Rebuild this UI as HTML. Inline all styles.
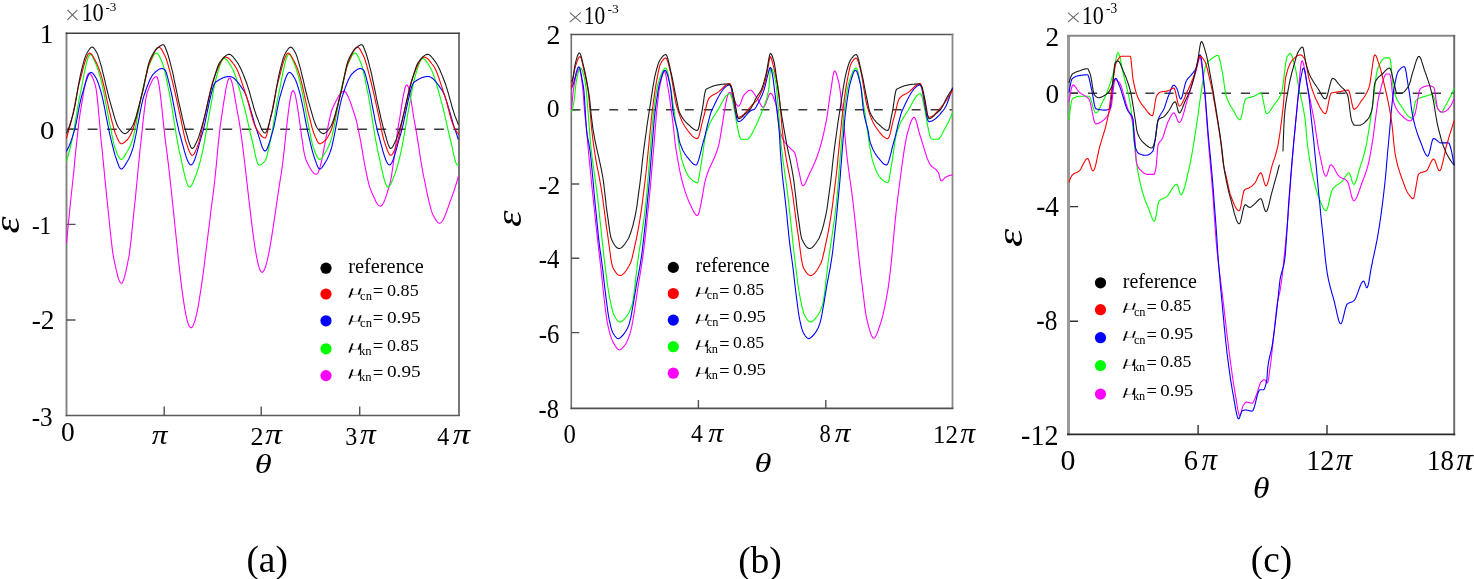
<!DOCTYPE html>
<html><head><meta charset="utf-8"><style>
html,body{margin:0;padding:0;background:#fff;}
body{width:1474px;height:579px;overflow:hidden;}
svg{display:block;filter:blur(0.4px);}
text{font-family:"Liberation Serif",serif;fill:#000;}
.it{font-style:italic;}
</style></head><body>
<svg width="1474" height="579" viewBox="0 0 1474 579">
<rect width="1474" height="579" fill="#fff"/>
<!-- zero lines -->
<g stroke="#3a3a3a" stroke-width="1.4" fill="none">
<line x1="68.4" y1="129.2" x2="459" y2="129.2" stroke-dasharray="9.8 9.45"/>
<line x1="571.5" y1="109.8" x2="952.5" y2="109.8" stroke-dasharray="8.9 10"/>
<line x1="1068.9" y1="93.3" x2="1454" y2="93.3" stroke-dasharray="9.2 9.9"/>
</g>
<!-- axes -->
<g fill="none">
<path d="M66.5 32.6V416.2" stroke="#808080" stroke-width="1.9"/>
<path d="M65.6 33.3H459.7" stroke="#404040" stroke-width="1.5"/>
<path d="M459 32.6V416.1" stroke="#4a4a4a" stroke-width="1.5"/>
<path d="M65.6 415.4H459.7" stroke="#5a5a5a" stroke-width="1.5"/>
<path d="M66.5 129.2h9M66.5 224.4h9M66.5 320h9M164.2 415.4v-9M261.2 415.4v-9M359.7 415.4v-9" stroke="#505050" stroke-width="1.4"/>
<path d="M571.3 33.8V409.1" stroke="#6e6e6e" stroke-width="1.6"/>
<path d="M570.5 34.5H953.4" stroke="#555" stroke-width="1.6"/>
<path d="M952.5 33.8V409.1" stroke="#888" stroke-width="1.8"/>
<path d="M570.5 408.4H953.4" stroke="#505050" stroke-width="1.6"/>
<path d="M571.3 109.8h8M571.3 184h8M571.3 258.3h8M571.3 332.6h8M698.4 408.4v-8.5M825.8 408.4v-8.5" stroke="#505050" stroke-width="1.4"/>
<path d="M1068.5 35V435.3" stroke="#9a9a9a" stroke-width="3"/>
<path d="M1067 35.8H1455.2" stroke="#888" stroke-width="1.9"/>
<path d="M1454.2 35V435.3" stroke="#666" stroke-width="1.9"/>
<path d="M1067 434.4H1455.2" stroke="#2a2a2a" stroke-width="1.9"/>
<path d="M1070 93.3h8M1070 206.6h8M1070 321.2h8M1198.1 434.4v-9.5M1327 434.4v-9.5" stroke="#333" stroke-width="1.4"/>
</g>
<!-- curves -->
<g fill="none" stroke-width="1.1" stroke-linejoin="round" stroke-linecap="round">
<path d="M66.5 242.6 L67.0 237.6 L67.5 232.6 L68.0 227.7 L68.5 222.7 L69.0 217.8 L69.5 213.0 L69.9 208.1 L70.4 203.3 L70.9 198.6 L71.4 193.8 L71.9 189.2 L72.4 184.5 L72.9 179.8 L73.4 175.1 L73.9 170.2 L74.4 165.3 L74.8 160.4 L75.3 155.5 L75.8 150.7 L76.3 145.9 L76.8 141.2 L77.3 136.5 L77.8 132.1 L78.3 127.8 L78.7 123.7 L79.2 119.8 L79.7 116.2 L80.2 112.8 L80.7 109.8 L81.2 106.9 L81.7 103.9 L82.2 100.9 L82.7 97.9 L83.1 95.0 L83.6 92.1 L84.1 89.3 L84.6 86.7 L85.1 84.2 L85.6 81.9 L86.1 79.8 L86.6 77.9 L87.0 76.3 L87.5 75.1 L88.0 74.1 L88.5 73.5 L89.0 73.3 L89.5 73.4 L90.0 73.7 L90.4 74.1 L90.9 74.7 L91.4 75.4 L91.9 76.2 L92.3 77.2 L92.8 78.3 L93.3 79.4 L93.8 80.7 L94.2 82.0 L94.7 83.4 L95.2 84.9 L95.7 86.8 L96.2 89.5 L96.6 92.9 L97.1 96.9 L97.6 101.4 L98.1 106.3 L98.5 111.5 L99.0 116.8 L99.5 122.3 L100.0 127.7 L100.4 133.1 L100.9 138.2 L101.4 143.0 L101.9 147.7 L102.4 152.4 L102.8 157.3 L103.3 162.1 L103.8 167.1 L104.3 172.0 L104.7 176.9 L105.2 181.8 L105.7 186.6 L106.2 191.4 L106.6 196.1 L107.1 200.7 L107.6 205.2 L108.1 209.8 L108.6 214.5 L109.1 219.2 L109.5 224.0 L110.0 228.8 L110.5 233.4 L111.0 238.0 L111.5 242.3 L112.0 246.4 L112.4 250.2 L112.9 253.6 L113.4 256.6 L113.9 259.2 L114.4 261.6 L114.9 263.9 L115.4 266.2 L115.9 268.5 L116.4 270.6 L116.9 272.7 L117.4 274.7 L117.8 276.5 L118.3 278.1 L118.8 279.6 L119.3 280.8 L119.8 281.8 L120.3 282.6 L120.8 283.0 L121.3 283.2 L121.8 283.0 L122.2 282.6 L122.7 281.8 L123.2 280.8 L123.7 279.6 L124.1 278.1 L124.6 276.5 L125.1 274.6 L125.6 272.7 L126.0 270.6 L126.5 268.4 L127.0 266.2 L127.5 263.9 L127.9 261.5 L128.4 259.2 L128.9 256.6 L129.4 253.6 L129.8 250.1 L130.3 246.3 L130.8 242.2 L131.3 237.9 L131.7 233.3 L132.2 228.7 L132.7 223.9 L133.2 219.1 L133.6 214.4 L134.1 209.7 L134.6 205.2 L135.1 200.7 L135.6 196.0 L136.0 191.1 L136.5 186.2 L137.0 181.2 L137.5 176.2 L137.9 171.2 L138.4 166.3 L138.9 161.3 L139.4 156.5 L139.8 151.8 L140.3 147.3 L140.8 143.0 L141.3 138.6 L141.8 134.1 L142.3 129.4 L142.7 124.8 L143.2 120.2 L143.7 115.7 L144.2 111.4 L144.7 107.3 L145.2 103.6 L145.6 100.2 L146.1 97.3 L146.6 95.0 L147.1 93.2 L147.6 91.7 L148.1 90.3 L148.6 88.9 L149.1 87.6 L149.6 86.3 L150.1 85.1 L150.6 83.9 L151.1 82.9 L151.6 81.8 L152.0 80.9 L152.5 80.0 L153.0 79.3 L153.5 78.6 L154.0 78.0 L154.5 77.5 L155.0 77.1 L155.5 76.8 L156.0 76.7 L156.5 76.6 L157.0 77.0 L157.5 78.0 L158.0 79.8 L158.5 82.1 L159.0 84.9 L159.5 88.2 L160.0 91.9 L160.5 95.9 L161.0 100.2 L161.5 104.7 L162.0 109.4 L162.5 114.2 L163.0 119.1 L163.5 123.9 L164.0 128.6 L164.5 133.2 L165.0 137.6 L165.5 141.8 L166.0 145.6 L166.5 149.3 L167.0 153.1 L167.5 157.1 L168.0 161.2 L168.5 165.4 L169.0 169.7 L169.5 174.1 L170.0 178.6 L170.5 183.1 L171.0 187.8 L171.5 192.5 L172.0 197.2 L172.5 202.0 L173.0 206.8 L173.5 211.6 L174.0 216.5 L174.5 221.3 L175.0 226.2 L175.5 231.0 L176.0 235.9 L176.5 240.7 L177.0 245.4 L177.5 250.1 L178.0 254.8 L178.4 259.4 L178.9 263.9 L179.4 268.3 L179.9 272.7 L180.4 276.9 L180.9 281.1 L181.4 285.1 L181.9 289.0 L182.4 292.8 L182.9 296.4 L183.4 299.9 L183.9 303.2 L184.4 306.3 L184.9 309.3 L185.4 312.1 L185.9 314.7 L186.4 317.0 L186.9 319.2 L187.4 321.1 L187.9 322.9 L188.4 324.3 L188.9 325.6 L189.4 326.5 L189.9 327.2 L190.4 327.7 L190.9 327.8 L191.4 327.7 L191.9 327.3 L192.4 326.8 L192.9 326.0 L193.4 325.1 L193.8 323.9 L194.3 322.5 L194.8 321.0 L195.3 319.3 L195.8 317.4 L196.3 315.3 L196.8 313.1 L197.3 310.8 L197.8 308.3 L198.3 305.6 L198.8 302.9 L199.2 300.0 L199.7 297.0 L200.2 293.8 L200.7 290.6 L201.2 287.3 L201.7 283.8 L202.2 280.3 L202.7 276.8 L203.2 273.1 L203.7 269.4 L204.2 265.6 L204.7 261.8 L205.1 257.9 L205.6 254.0 L206.1 250.0 L206.6 246.0 L207.1 242.0 L207.6 238.0 L208.1 234.0 L208.6 230.0 L209.1 226.0 L209.6 222.0 L210.1 218.0 L210.5 214.1 L211.0 210.2 L211.5 206.3 L212.0 202.5 L212.5 198.7 L213.0 195.0 L213.5 191.1 L214.0 186.9 L214.5 182.5 L215.0 177.8 L215.5 173.0 L216.0 168.0 L216.5 163.0 L217.0 157.9 L217.4 152.8 L217.9 147.8 L218.4 142.8 L218.9 138.1 L219.4 133.5 L219.9 129.1 L220.4 125.1 L220.9 121.4 L221.4 118.0 L221.9 114.9 L222.4 111.7 L222.8 108.4 L223.3 105.2 L223.8 102.0 L224.3 98.8 L224.8 95.8 L225.3 92.8 L225.7 90.1 L226.2 87.5 L226.7 85.1 L227.2 83.1 L227.7 81.3 L228.2 79.9 L228.6 78.8 L229.1 78.1 L229.6 77.9 L230.1 78.1 L230.6 78.8 L231.1 79.9 L231.6 81.3 L232.1 83.0 L232.6 85.1 L233.1 87.4 L233.6 89.9 L234.0 92.5 L234.5 95.3 L235.0 98.2 L235.5 101.1 L236.0 104.0 L236.5 107.0 L237.0 109.8 L237.5 112.6 L238.0 115.2 L238.5 117.9 L239.0 120.7 L239.5 123.7 L240.0 126.9 L240.5 130.3 L241.0 133.7 L241.5 137.4 L242.0 141.1 L242.5 144.9 L243.0 148.9 L243.5 152.9 L244.0 157.1 L244.5 161.3 L245.0 165.5 L245.5 169.8 L246.0 174.2 L246.5 178.6 L247.0 183.0 L247.5 187.4 L248.0 191.8 L248.5 196.2 L249.0 200.5 L249.5 204.9 L250.0 209.2 L250.5 213.4 L251.0 217.6 L251.5 221.7 L252.0 225.7 L252.5 229.6 L253.0 233.4 L253.5 237.1 L254.0 240.7 L254.5 244.1 L255.0 247.4 L255.5 250.6 L256.0 253.5 L256.5 256.3 L257.0 258.9 L257.5 261.3 L258.0 263.5 L258.5 265.5 L259.0 267.2 L259.5 268.7 L260.0 270.0 L260.5 271.0 L261.0 271.7 L261.5 272.2 L262.0 272.3 L262.5 272.2 L263.0 271.8 L263.5 271.2 L264.0 270.4 L264.5 269.4 L265.0 268.2 L265.5 266.8 L266.0 265.2 L266.5 263.4 L267.0 261.4 L267.5 259.3 L268.0 257.1 L268.5 254.7 L269.0 252.2 L269.5 249.5 L270.0 246.8 L270.5 243.9 L271.0 240.9 L271.5 237.9 L272.0 234.8 L272.5 231.6 L273.0 228.3 L273.5 225.0 L274.0 221.6 L274.5 218.2 L275.0 214.8 L275.5 211.4 L276.0 208.0 L276.5 204.5 L277.0 201.1 L277.5 197.7 L278.0 194.3 L278.5 190.9 L279.0 187.6 L279.5 184.4 L280.0 181.2 L280.5 178.0 L281.0 175.0 L281.5 171.8 L282.0 168.3 L282.5 164.5 L283.0 160.4 L283.5 156.1 L284.0 151.7 L284.5 147.1 L285.0 142.5 L285.5 137.8 L286.0 133.0 L286.5 128.4 L287.0 123.8 L287.5 119.3 L288.0 115.1 L288.5 111.0 L289.0 107.2 L289.5 103.6 L290.0 100.4 L290.5 97.6 L291.0 95.2 L291.5 93.2 L292.0 91.8 L292.5 90.9 L293.0 90.6 L293.5 90.8 L294.0 91.6 L294.5 92.7 L295.0 94.2 L295.5 96.1 L296.0 98.4 L296.4 100.9 L296.9 103.7 L297.4 106.7 L297.9 109.9 L298.4 113.2 L298.9 116.7 L299.4 120.3 L299.9 123.9 L300.4 127.5 L300.9 131.2 L301.4 134.8 L301.9 138.3 L302.4 141.7 L302.9 144.9 L303.3 148.0 L303.8 150.8 L304.3 153.4 L304.8 155.7 L305.3 157.7 L305.8 159.4 L306.3 160.6 L306.8 161.7 L307.3 162.7 L307.8 163.7 L308.3 164.7 L308.8 165.7 L309.3 166.7 L309.8 167.6 L310.3 168.5 L310.8 169.3 L311.3 170.1 L311.8 170.8 L312.3 171.5 L312.8 172.1 L313.3 172.7 L313.8 173.2 L314.3 173.6 L314.8 173.9 L315.3 174.1 L315.8 174.3 L316.3 174.3 L316.8 174.2 L317.3 173.7 L317.8 173.1 L318.3 172.2 L318.7 171.0 L319.2 169.7 L319.7 168.1 L320.2 166.4 L320.7 164.5 L321.2 162.5 L321.7 160.3 L322.2 158.0 L322.6 155.6 L323.1 153.1 L323.6 150.6 L324.1 147.9 L324.6 145.3 L325.1 142.6 L325.6 139.8 L326.1 137.1 L326.6 134.4 L327.0 131.8 L327.5 129.1 L328.0 126.6 L328.5 124.1 L329.0 121.7 L329.5 119.4 L330.0 117.2 L330.5 115.1 L330.9 113.3 L331.4 111.5 L331.9 110.0 L332.4 108.6 L332.9 107.5 L333.4 106.5 L333.9 105.4 L334.4 104.3 L334.9 103.3 L335.4 102.3 L335.9 101.2 L336.4 100.2 L336.9 99.3 L337.4 98.3 L337.9 97.4 L338.4 96.5 L338.8 95.7 L339.3 94.9 L339.8 94.2 L340.3 93.6 L340.8 93.0 L341.3 92.5 L341.8 92.1 L342.3 91.8 L342.8 91.5 L343.3 91.4 L343.8 91.3 L344.3 91.4 L344.8 91.6 L345.3 92.0 L345.8 92.5 L346.3 93.1 L346.7 93.9 L347.2 94.8 L347.7 95.7 L348.2 96.8 L348.7 97.9 L349.2 99.1 L349.7 100.4 L350.2 101.7 L350.7 103.1 L351.2 104.5 L351.7 105.9 L352.1 107.4 L352.6 108.9 L353.1 110.3 L353.6 111.8 L354.1 113.3 L354.6 114.7 L355.1 116.2 L355.6 117.9 L356.1 119.7 L356.6 121.7 L357.1 123.8 L357.6 126.0 L358.1 128.4 L358.6 130.8 L359.1 133.3 L359.6 135.9 L360.1 138.5 L360.6 141.2 L361.1 144.0 L361.6 146.8 L362.1 149.6 L362.6 152.4 L363.0 155.2 L363.5 158.0 L364.0 160.7 L364.5 163.5 L365.0 166.1 L365.5 168.8 L366.0 171.3 L366.5 173.8 L367.0 176.2 L367.5 178.4 L368.0 180.6 L368.5 182.6 L369.0 184.6 L369.5 186.3 L370.0 187.9 L370.5 189.3 L371.0 190.6 L371.5 191.8 L372.0 192.9 L372.5 194.1 L373.0 195.2 L373.5 196.4 L374.0 197.5 L374.5 198.6 L375.0 199.6 L375.5 200.6 L375.9 201.5 L376.4 202.4 L376.9 203.2 L377.4 203.9 L377.9 204.6 L378.4 205.1 L378.9 205.5 L379.4 205.8 L379.9 206.0 L380.4 206.1 L380.9 206.0 L381.4 205.7 L381.9 205.3 L382.4 204.7 L382.8 204.0 L383.3 203.2 L383.8 202.2 L384.3 201.1 L384.8 199.9 L385.3 198.6 L385.8 197.2 L386.3 195.7 L386.8 194.2 L387.3 192.6 L387.7 191.0 L388.2 189.4 L388.7 187.7 L389.2 186.0 L389.7 184.3 L390.2 182.4 L390.7 180.2 L391.2 177.6 L391.7 174.8 L392.1 171.7 L392.6 168.4 L393.1 164.9 L393.6 161.3 L394.1 157.6 L394.6 153.8 L395.1 149.9 L395.6 146.1 L396.1 142.3 L396.6 138.6 L397.0 134.9 L397.5 131.5 L398.0 128.1 L398.5 125.0 L399.0 122.2 L399.5 119.4 L400.0 116.5 L400.5 113.4 L400.9 110.3 L401.4 107.2 L401.9 104.1 L402.4 101.0 L402.9 98.1 L403.4 95.4 L403.9 92.9 L404.4 90.6 L404.9 88.7 L405.3 87.1 L405.8 85.9 L406.3 85.2 L406.8 84.9 L407.3 85.2 L407.8 85.9 L408.3 87.2 L408.8 88.8 L409.2 90.8 L409.7 93.1 L410.2 95.6 L410.7 98.4 L411.2 101.3 L411.7 104.4 L412.2 107.5 L412.7 110.6 L413.1 113.7 L413.6 116.7 L414.1 119.5 L414.6 122.2 L415.1 124.9 L415.6 127.7 L416.1 130.5 L416.6 133.5 L417.1 136.6 L417.6 139.6 L418.1 142.8 L418.6 145.9 L419.1 149.1 L419.5 152.2 L420.0 155.4 L420.5 158.5 L421.0 161.5 L421.5 164.5 L422.0 167.4 L422.5 170.3 L423.0 173.0 L423.5 175.6 L424.0 178.0 L424.5 180.4 L425.0 182.7 L425.5 185.1 L426.0 187.5 L426.4 189.9 L426.9 192.2 L427.4 194.6 L427.9 196.8 L428.4 199.0 L428.9 201.2 L429.4 203.2 L429.9 205.2 L430.4 207.1 L430.9 208.8 L431.3 210.4 L431.8 211.9 L432.3 213.2 L432.8 214.4 L433.3 215.4 L433.8 216.3 L434.3 217.2 L434.7 218.0 L435.2 218.9 L435.7 219.6 L436.2 220.4 L436.6 221.1 L437.1 221.7 L437.6 222.2 L438.1 222.6 L438.5 222.9 L439.0 223.1 L439.5 223.2 L440.0 223.1 L440.5 222.9 L441.0 222.6 L441.5 222.1 L442.0 221.5 L442.5 220.8 L443.0 220.0 L443.5 219.1 L444.0 218.1 L444.5 217.0 L445.0 215.8 L445.5 214.6 L445.9 213.4 L446.4 212.1 L446.9 210.7 L447.4 209.3 L447.9 207.9 L448.4 206.5 L448.9 205.1 L449.4 203.7 L449.9 202.2 L450.4 200.8 L450.9 199.5 L451.4 198.1 L451.9 196.8 L452.4 195.6 L452.8 194.3 L453.3 192.9 L453.8 191.5 L454.3 190.1 L454.7 188.6 L455.2 187.2 L455.7 185.6 L456.1 184.1 L456.6 182.5 L457.1 180.9 L457.6 179.3 L458.0 177.6 L458.5 176.0" stroke="#ff00ff"/>
<path d="M66.5 161.0 L67.0 159.4 L67.5 157.8 L68.0 156.1 L68.5 154.3 L69.0 152.4 L69.5 150.5 L70.0 148.5 L70.5 146.5 L71.0 144.4 L71.5 142.2 L72.0 140.0 L72.5 137.7 L73.0 135.1 L73.5 132.5 L74.0 129.6 L74.5 126.7 L75.0 123.7 L75.5 120.7 L76.0 117.6 L76.5 114.6 L77.0 111.5 L77.5 108.5 L78.0 105.6 L78.5 102.7 L79.0 100.0 L79.5 97.4 L80.0 95.0 L80.5 92.6 L81.0 90.2 L81.5 87.6 L82.0 85.1 L82.5 82.5 L83.0 79.8 L83.5 77.2 L84.0 74.7 L84.5 72.2 L85.0 69.8 L85.5 67.4 L86.0 65.2 L86.5 63.2 L87.0 61.3 L87.5 59.5 L88.0 58.0 L88.5 56.7 L89.0 55.7 L89.5 54.9 L90.0 54.5 L90.5 54.3 L91.0 54.5 L91.5 54.9 L92.0 55.6 L92.5 56.5 L93.0 57.5 L93.5 58.6 L94.0 59.7 L94.5 60.9 L95.0 62.0 L95.5 63.0 L95.9 64.1 L96.4 65.3 L96.9 66.6 L97.3 67.9 L97.8 69.2 L98.3 70.6 L98.7 72.1 L99.2 73.6 L99.7 75.2 L100.1 76.8 L100.6 78.5 L101.1 80.3 L101.6 82.3 L102.1 84.4 L102.5 86.6 L103.0 88.8 L103.5 91.2 L104.0 93.7 L104.5 96.2 L105.0 98.7 L105.4 101.3 L105.9 104.0 L106.4 106.6 L106.9 109.2 L107.4 111.9 L107.9 114.5 L108.4 117.1 L108.8 119.6 L109.3 122.1 L109.8 124.5 L110.3 126.8 L110.8 129.1 L111.2 131.4 L111.7 133.8 L112.2 136.2 L112.7 138.6 L113.1 140.9 L113.6 143.0 L114.1 144.9 L114.5 146.6 L115.0 148.0 L115.5 149.3 L116.0 150.5 L116.4 151.8 L116.9 153.0 L117.4 154.2 L117.9 155.3 L118.3 156.3 L118.8 157.1 L119.3 157.9 L119.8 158.5 L120.2 159.0 L120.7 159.3 L121.2 159.4 L121.7 159.3 L122.2 159.1 L122.7 158.7 L123.1 158.2 L123.6 157.6 L124.1 156.9 L124.6 156.1 L125.1 155.3 L125.5 154.5 L126.0 153.6 L126.5 152.8 L127.0 152.0 L127.5 151.2 L128.0 150.3 L128.5 149.4 L129.0 148.4 L129.5 147.4 L130.0 146.3 L130.5 145.2 L131.0 144.0 L131.5 142.7 L132.0 141.3 L132.5 139.8 L133.0 138.2 L133.5 136.4 L133.9 134.5 L134.4 132.4 L134.9 130.3 L135.4 128.0 L135.9 125.6 L136.4 123.1 L136.8 120.6 L137.3 118.0 L137.8 115.3 L138.3 112.7 L138.8 110.0 L139.3 107.3 L139.7 104.6 L140.2 102.0 L140.7 99.4 L141.2 96.8 L141.7 94.3 L142.2 91.9 L142.6 89.6 L143.1 87.4 L143.6 85.3 L144.1 83.3 L144.6 81.4 L145.1 79.4 L145.6 77.5 L146.1 75.5 L146.6 73.7 L147.1 71.8 L147.5 70.1 L148.0 68.4 L148.5 66.9 L149.0 65.4 L149.5 64.1 L150.0 63.0 L150.5 61.9 L151.0 60.8 L151.5 59.8 L152.0 58.7 L152.5 57.7 L153.0 56.7 L153.4 55.8 L153.9 55.0 L154.4 54.4 L154.9 53.8 L155.4 53.4 L155.9 53.1 L156.4 53.0 L156.9 53.1 L157.3 53.4 L157.8 53.8 L158.3 54.4 L158.7 55.1 L159.2 55.9 L159.7 56.8 L160.1 57.8 L160.6 58.8 L161.1 59.9 L161.5 60.9 L162.0 62.0 L162.5 63.2 L163.0 64.6 L163.5 66.2 L163.9 68.0 L164.4 69.9 L164.9 71.9 L165.4 74.0 L165.9 76.3 L166.4 78.5 L166.9 80.9 L167.3 83.2 L167.8 85.6 L168.3 88.0 L168.8 90.3 L169.3 92.7 L169.8 95.2 L170.2 97.8 L170.7 100.5 L171.2 103.3 L171.7 106.2 L172.2 109.1 L172.7 112.1 L173.1 115.2 L173.6 118.2 L174.1 121.3 L174.6 124.3 L175.1 127.4 L175.6 130.4 L176.0 133.4 L176.5 136.3 L177.0 139.1 L177.5 141.9 L178.0 144.5 L178.5 147.1 L178.9 149.5 L179.4 151.8 L179.9 153.9 L180.4 156.0 L180.9 158.2 L181.4 160.4 L181.8 162.6 L182.3 164.9 L182.8 167.1 L183.3 169.3 L183.8 171.5 L184.3 173.6 L184.8 175.6 L185.2 177.5 L185.7 179.3 L186.2 181.0 L186.7 182.4 L187.2 183.8 L187.7 184.9 L188.1 185.8 L188.6 186.4 L189.1 186.9 L189.6 187.0 L190.1 186.9 L190.6 186.5 L191.1 186.0 L191.6 185.3 L192.1 184.5 L192.6 183.5 L193.0 182.4 L193.5 181.2 L194.0 180.0 L194.5 178.8 L195.0 177.5 L195.5 176.2 L196.0 175.0 L196.5 173.7 L197.0 172.3 L197.5 170.8 L198.0 169.2 L198.5 167.6 L199.0 165.8 L199.5 164.0 L200.0 162.1 L200.5 160.1 L201.0 158.1 L201.5 156.0 L202.0 153.9 L202.5 151.7 L203.0 149.3 L203.5 146.8 L204.0 144.2 L204.5 141.5 L205.0 138.7 L205.5 135.8 L206.0 132.9 L206.5 130.0 L207.0 127.0 L207.5 124.1 L208.0 121.1 L208.5 118.3 L209.0 115.4 L209.5 112.7 L210.0 110.0 L210.5 107.3 L211.0 104.6 L211.5 101.8 L212.0 99.0 L212.5 96.2 L213.0 93.4 L213.5 90.7 L214.0 88.0 L214.5 85.5 L215.0 83.0 L215.5 80.8 L216.0 78.6 L216.5 76.7 L217.0 75.0 L217.5 73.5 L217.9 71.9 L218.4 70.4 L218.9 68.9 L219.4 67.4 L219.8 65.9 L220.3 64.6 L220.8 63.3 L221.3 62.1 L221.7 61.1 L222.2 60.2 L222.7 59.5 L223.2 59.0 L223.6 58.6 L224.1 58.5 L224.6 58.6 L225.1 58.7 L225.6 59.0 L226.1 59.4 L226.6 59.8 L227.1 60.3 L227.6 60.9 L228.1 61.6 L228.5 62.3 L229.0 63.0 L229.5 63.8 L230.0 64.6 L230.5 65.5 L231.0 66.3 L231.5 67.2 L232.0 68.0 L232.5 68.9 L233.0 69.9 L233.5 71.0 L234.0 72.2 L234.5 73.4 L235.0 74.8 L235.5 76.2 L236.0 77.7 L236.5 79.2 L237.0 80.8 L237.5 82.4 L238.0 84.1 L238.5 85.8 L239.0 87.6 L239.5 89.4 L240.0 91.2 L240.5 93.0 L241.0 94.9 L241.5 96.7 L242.0 98.6 L242.5 100.4 L243.0 102.3 L243.5 104.1 L244.0 106.0 L244.5 107.9 L245.0 109.9 L245.5 112.0 L246.0 114.1 L246.5 116.3 L247.0 118.5 L247.5 120.7 L248.0 122.9 L248.5 125.2 L249.0 127.4 L249.5 129.6 L250.0 131.8 L250.5 133.9 L251.0 136.0 L251.5 138.0 L252.0 140.0 L252.5 142.0 L253.0 144.2 L253.5 146.5 L254.0 148.9 L254.5 151.3 L255.0 153.6 L255.5 155.9 L256.0 158.0 L256.5 159.9 L257.0 161.6 L257.5 163.0 L258.0 164.1 L258.5 164.8 L259.0 165.0 L259.5 165.0 L260.0 164.9 L260.5 164.7 L261.0 164.5 L261.5 164.2 L262.0 163.9 L262.5 163.5 L263.0 163.1 L263.5 162.6 L264.0 162.1 L264.5 161.6 L265.0 161.0 L265.5 160.2 L266.0 159.1 L266.5 157.6 L267.0 155.8 L267.5 153.9 L268.0 151.7 L268.5 149.4 L269.0 147.1 L269.5 144.7 L270.0 142.3 L270.5 140.0 L271.0 137.7 L271.5 135.1 L272.0 132.5 L272.5 129.6 L273.0 126.7 L273.5 123.7 L274.0 120.7 L274.5 117.6 L275.0 114.6 L275.5 111.5 L276.0 108.5 L276.5 105.6 L277.0 102.7 L277.5 100.0 L278.0 97.4 L278.5 95.0 L279.0 92.6 L279.5 90.2 L280.0 87.6 L280.5 85.1 L281.0 82.5 L281.5 79.8 L282.0 77.2 L282.5 74.7 L283.0 72.2 L283.5 69.8 L284.0 67.4 L284.5 65.2 L285.0 63.2 L285.5 61.3 L286.0 59.5 L286.5 58.0 L287.0 56.7 L287.5 55.7 L288.0 54.9 L288.5 54.5 L289.0 54.3 L289.5 54.5 L290.0 54.9 L290.5 55.6 L291.0 56.5 L291.5 57.5 L292.0 58.6 L292.5 59.7 L293.0 60.9 L293.5 62.0 L294.0 63.0 L294.4 64.1 L294.9 65.3 L295.4 66.6 L295.8 67.9 L296.3 69.2 L296.8 70.6 L297.2 72.1 L297.7 73.6 L298.2 75.2 L298.6 76.8 L299.1 78.5 L299.6 80.3 L300.1 82.3 L300.6 84.4 L301.0 86.6 L301.5 88.8 L302.0 91.2 L302.5 93.7 L303.0 96.2 L303.5 98.7 L304.0 101.3 L304.4 104.0 L304.9 106.6 L305.4 109.2 L305.9 111.9 L306.4 114.5 L306.9 117.1 L307.3 119.6 L307.8 122.1 L308.3 124.5 L308.8 126.8 L309.3 129.1 L309.7 131.4 L310.2 133.8 L310.7 136.2 L311.1 138.6 L311.6 140.9 L312.1 143.0 L312.6 144.9 L313.0 146.6 L313.5 148.0 L314.0 149.3 L314.5 150.5 L314.9 151.8 L315.4 153.0 L315.9 154.2 L316.4 155.3 L316.8 156.3 L317.3 157.1 L317.8 157.9 L318.3 158.5 L318.7 159.0 L319.2 159.3 L319.7 159.4 L320.2 159.3 L320.7 159.1 L321.1 158.7 L321.6 158.2 L322.1 157.6 L322.6 156.9 L323.1 156.1 L323.6 155.3 L324.1 154.5 L324.5 153.6 L325.0 152.8 L325.5 152.0 L326.0 151.2 L326.5 150.3 L327.0 149.4 L327.5 148.4 L328.0 147.4 L328.5 146.3 L329.0 145.2 L329.5 144.0 L330.0 142.7 L330.5 141.3 L331.0 139.8 L331.5 138.2 L332.0 136.4 L332.4 134.5 L332.9 132.4 L333.4 130.3 L333.9 128.0 L334.4 125.6 L334.9 123.1 L335.3 120.6 L335.8 118.0 L336.3 115.3 L336.8 112.7 L337.3 110.0 L337.8 107.3 L338.2 104.6 L338.7 102.0 L339.2 99.4 L339.7 96.8 L340.2 94.3 L340.7 91.9 L341.1 89.6 L341.6 87.4 L342.1 85.3 L342.6 83.3 L343.1 81.4 L343.6 79.4 L344.1 77.5 L344.6 75.5 L345.1 73.7 L345.6 71.8 L346.0 70.1 L346.5 68.4 L347.0 66.9 L347.5 65.4 L348.0 64.1 L348.5 63.0 L349.0 61.9 L349.5 60.8 L350.0 59.8 L350.5 58.7 L351.0 57.7 L351.5 56.7 L351.9 55.8 L352.4 55.0 L352.9 54.4 L353.4 53.8 L353.9 53.4 L354.4 53.1 L354.9 53.0 L355.4 53.1 L355.8 53.4 L356.3 53.8 L356.8 54.4 L357.2 55.1 L357.7 55.9 L358.2 56.8 L358.6 57.8 L359.1 58.8 L359.6 59.9 L360.0 60.9 L360.5 62.0 L361.0 63.2 L361.5 64.6 L362.0 66.2 L362.4 68.0 L362.9 69.9 L363.4 71.9 L363.9 74.0 L364.4 76.3 L364.9 78.5 L365.4 80.9 L365.8 83.2 L366.3 85.6 L366.8 88.0 L367.3 90.3 L367.8 92.7 L368.3 95.2 L368.7 97.8 L369.2 100.5 L369.7 103.3 L370.2 106.2 L370.7 109.1 L371.2 112.1 L371.6 115.2 L372.1 118.2 L372.6 121.3 L373.1 124.3 L373.6 127.4 L374.1 130.4 L374.5 133.4 L375.0 136.3 L375.5 139.1 L376.0 141.9 L376.5 144.5 L377.0 147.1 L377.4 149.5 L377.9 151.8 L378.4 153.9 L378.9 156.0 L379.4 158.2 L379.9 160.4 L380.3 162.6 L380.8 164.9 L381.3 167.1 L381.8 169.3 L382.3 171.5 L382.8 173.6 L383.2 175.6 L383.7 177.5 L384.2 179.3 L384.7 181.0 L385.2 182.4 L385.7 183.8 L386.2 184.9 L386.6 185.8 L387.1 186.4 L387.6 186.9 L388.1 187.0 L388.6 186.9 L389.1 186.5 L389.6 186.0 L390.1 185.3 L390.6 184.5 L391.1 183.5 L391.5 182.4 L392.0 181.2 L392.5 180.0 L393.0 178.8 L393.5 177.5 L394.0 176.2 L394.5 175.0 L395.0 173.7 L395.5 172.3 L396.0 170.8 L396.5 169.2 L397.0 167.6 L397.5 165.8 L398.0 164.0 L398.5 162.1 L399.0 160.1 L399.5 158.1 L400.0 156.0 L400.5 153.9 L401.0 151.7 L401.5 149.3 L402.0 146.8 L402.5 144.2 L403.0 141.5 L403.5 138.7 L404.0 135.8 L404.5 132.9 L405.0 130.0 L405.5 127.0 L406.0 124.1 L406.5 121.1 L407.0 118.3 L407.5 115.4 L408.0 112.7 L408.5 110.0 L409.0 107.3 L409.5 104.6 L410.0 101.8 L410.5 99.0 L411.0 96.2 L411.5 93.4 L412.0 90.7 L412.5 88.0 L413.0 85.5 L413.5 83.0 L414.0 80.8 L414.5 78.6 L415.0 76.7 L415.5 75.0 L416.0 73.5 L416.4 71.9 L416.9 70.4 L417.4 68.9 L417.9 67.4 L418.3 65.9 L418.8 64.6 L419.3 63.3 L419.8 62.1 L420.2 61.1 L420.7 60.2 L421.2 59.5 L421.7 59.0 L422.1 58.6 L422.6 58.5 L423.1 58.6 L423.6 58.7 L424.1 59.0 L424.6 59.4 L425.1 59.8 L425.6 60.3 L426.1 60.9 L426.6 61.6 L427.0 62.3 L427.5 63.0 L428.0 63.8 L428.5 64.6 L429.0 65.5 L429.5 66.3 L430.0 67.2 L430.5 68.0 L431.0 68.9 L431.5 69.9 L432.0 71.0 L432.5 72.2 L433.0 73.4 L433.5 74.8 L434.0 76.2 L434.5 77.7 L435.0 79.2 L435.5 80.8 L436.0 82.4 L436.5 84.1 L437.0 85.8 L437.5 87.6 L438.0 89.4 L438.5 91.2 L439.0 93.0 L439.5 94.9 L440.0 96.7 L440.5 98.6 L441.0 100.4 L441.5 102.3 L442.0 104.1 L442.5 106.0 L443.0 107.9 L443.5 109.9 L444.0 112.0 L444.5 114.1 L445.0 116.3 L445.5 118.5 L446.0 120.7 L446.5 122.9 L447.0 125.2 L447.5 127.4 L448.0 129.6 L448.5 131.8 L449.0 133.9 L449.5 136.0 L450.0 138.0 L450.5 140.0 L451.0 142.0 L451.5 144.2 L452.0 146.5 L452.5 148.9 L453.0 151.3 L453.5 153.6 L454.0 155.9 L454.5 158.0 L455.0 159.9 L455.5 161.6 L456.0 163.0 L456.5 164.1 L457.0 164.8 L457.5 165.0 L458.0 165.0 L458.5 164.9" stroke="#00ff00"/>
<path d="M66.5 151.0 L67.0 150.2 L67.5 149.4 L67.9 148.5 L68.4 147.5 L68.9 146.5 L69.3 145.4 L69.8 144.2 L70.3 143.0 L70.8 141.7 L71.2 140.4 L71.7 139.0 L72.2 137.6 L72.7 136.1 L73.1 134.7 L73.6 133.1 L74.1 131.6 L74.6 129.9 L75.1 127.9 L75.6 125.7 L76.1 123.4 L76.6 121.0 L77.1 118.5 L77.6 115.9 L78.0 113.3 L78.5 110.7 L79.0 108.1 L79.5 105.6 L80.0 103.1 L80.5 100.8 L81.0 98.7 L81.5 96.7 L82.0 95.0 L82.5 93.3 L83.0 91.6 L83.5 89.9 L84.0 88.2 L84.5 86.5 L85.0 84.8 L85.5 83.1 L86.0 81.5 L86.5 80.0 L87.0 78.6 L87.5 77.3 L88.0 76.1 L88.5 75.0 L89.0 74.1 L89.5 73.4 L90.0 72.9 L90.5 72.5 L91.0 72.4 L91.5 72.5 L92.0 72.7 L92.5 73.1 L93.0 73.6 L93.5 74.2 L94.0 74.9 L94.5 75.6 L95.0 76.4 L95.5 77.2 L96.0 78.0 L96.5 78.8 L96.9 79.8 L97.4 80.8 L97.8 82.0 L98.3 83.3 L98.8 84.6 L99.2 86.1 L99.7 87.5 L100.1 89.1 L100.6 90.6 L101.1 92.3 L101.6 94.2 L102.1 96.1 L102.5 98.2 L103.0 100.4 L103.5 102.7 L104.0 105.1 L104.5 107.5 L105.0 110.0 L105.4 112.5 L105.9 115.1 L106.4 117.6 L106.9 120.1 L107.4 122.6 L107.9 125.1 L108.4 127.5 L108.8 129.9 L109.3 132.1 L109.8 134.3 L110.3 136.4 L110.8 138.4 L111.2 140.4 L111.7 142.4 L112.2 144.4 L112.7 146.3 L113.2 148.2 L113.6 150.1 L114.1 151.9 L114.6 153.6 L115.0 155.2 L115.5 156.6 L116.0 158.0 L116.5 159.3 L116.9 160.7 L117.4 162.0 L117.9 163.4 L118.4 164.7 L118.8 165.8 L119.3 166.9 L119.8 167.8 L120.3 168.4 L120.7 168.8 L121.2 169.0 L121.7 168.9 L122.2 168.7 L122.7 168.3 L123.1 167.9 L123.6 167.3 L124.1 166.6 L124.6 165.9 L125.1 165.2 L125.5 164.4 L126.0 163.6 L126.5 162.8 L127.0 162.0 L127.5 161.2 L128.0 160.3 L128.5 159.4 L129.0 158.4 L129.5 157.3 L130.0 156.2 L130.5 155.0 L131.0 153.7 L131.5 152.4 L132.0 151.0 L132.5 149.5 L133.0 147.9 L133.5 146.1 L133.9 144.1 L134.4 142.0 L134.9 139.7 L135.4 137.4 L135.9 135.0 L136.4 132.5 L136.8 129.9 L137.3 127.4 L137.8 124.7 L138.3 122.1 L138.8 119.5 L139.3 116.9 L139.7 114.3 L140.2 111.8 L140.7 109.3 L141.2 107.0 L141.7 104.7 L142.2 102.5 L142.6 100.5 L143.1 98.7 L143.6 96.9 L144.1 95.4 L144.6 94.0 L145.1 92.5 L145.6 91.1 L146.0 89.7 L146.5 88.4 L147.0 87.0 L147.5 85.7 L148.0 84.5 L148.5 83.2 L148.9 82.0 L149.4 80.9 L149.9 79.8 L150.4 78.8 L150.9 77.9 L151.4 77.0 L151.9 76.1 L152.3 75.4 L152.8 74.7 L153.3 74.1 L153.8 73.6 L154.3 73.1 L154.8 72.7 L155.2 72.2 L155.7 71.8 L156.2 71.4 L156.7 71.0 L157.2 70.6 L157.7 70.2 L158.1 69.9 L158.6 69.6 L159.1 69.3 L159.6 69.1 L160.1 68.9 L160.6 68.7 L161.0 68.6 L161.5 68.5 L162.0 68.5 L162.5 68.6 L163.0 68.7 L163.5 68.9 L164.0 69.2 L164.5 69.6 L165.0 70.0 L165.5 70.6 L165.9 71.7 L166.4 73.0 L166.9 74.7 L167.4 76.4 L167.9 78.3 L168.3 80.2 L168.8 82.0 L169.3 83.8 L169.8 85.8 L170.2 87.9 L170.7 90.1 L171.2 92.4 L171.7 94.7 L172.2 97.1 L172.7 99.6 L173.1 102.1 L173.6 104.7 L174.1 107.2 L174.6 109.8 L175.1 112.4 L175.6 114.9 L176.0 117.4 L176.5 119.8 L177.0 122.2 L177.5 124.5 L178.0 126.7 L178.5 128.9 L178.9 130.9 L179.4 132.8 L179.9 134.5 L180.4 136.2 L180.9 137.9 L181.3 139.7 L181.8 141.5 L182.3 143.3 L182.8 145.1 L183.3 146.9 L183.8 148.7 L184.2 150.4 L184.7 152.1 L185.2 153.7 L185.7 155.3 L186.2 156.8 L186.7 158.2 L187.1 159.5 L187.6 160.6 L188.1 161.7 L188.6 162.6 L189.1 163.4 L189.6 164.1 L190.0 164.5 L190.5 164.8 L191.0 164.9 L191.5 164.8 L192.0 164.5 L192.5 163.9 L193.0 163.2 L193.5 162.3 L194.0 161.2 L194.5 160.0 L195.0 158.7 L195.5 157.3 L196.0 155.7 L196.5 154.1 L197.0 152.4 L197.5 150.6 L198.0 148.8 L198.5 147.0 L199.0 145.1 L199.5 143.2 L200.0 141.4 L200.5 139.6 L201.0 137.8 L201.5 136.1 L202.0 134.5 L202.5 132.9 L203.0 131.1 L203.5 129.2 L204.0 127.2 L204.5 125.0 L205.0 122.9 L205.4 120.6 L205.9 118.3 L206.4 115.9 L206.9 113.5 L207.4 111.1 L207.9 108.7 L208.4 106.4 L208.9 104.0 L209.4 101.7 L209.9 99.4 L210.4 97.3 L210.9 95.2 L211.4 93.2 L211.9 91.3 L212.4 89.5 L212.8 87.9 L213.3 86.5 L213.8 85.2 L214.3 84.1 L214.8 83.2 L215.3 82.5 L215.8 82.0 L216.3 81.6 L216.8 81.3 L217.3 81.0 L217.8 80.7 L218.3 80.3 L218.8 80.0 L219.2 79.7 L219.7 79.5 L220.2 79.2 L220.7 78.9 L221.2 78.7 L221.7 78.4 L222.2 78.2 L222.7 78.0 L223.2 77.8 L223.7 77.6 L224.2 77.4 L224.7 77.3 L225.2 77.1 L225.7 77.0 L226.2 76.9 L226.6 76.8 L227.1 76.7 L227.6 76.6 L228.1 76.6 L228.6 76.5 L229.1 76.5 L229.6 76.5 L230.1 76.5 L230.6 76.6 L231.1 76.7 L231.6 76.9 L232.1 77.1 L232.6 77.4 L233.1 77.7 L233.6 78.0 L234.1 78.4 L234.6 78.8 L235.1 79.3 L235.6 79.8 L236.1 80.3 L236.6 80.8 L237.0 81.4 L237.5 82.0 L238.0 82.6 L238.5 83.2 L239.0 83.9 L239.5 84.5 L240.0 85.2 L240.5 85.9 L241.0 86.6 L241.5 87.4 L242.0 88.1 L242.5 88.8 L243.0 89.6 L243.5 90.3 L244.0 91.1 L244.5 92.0 L245.0 93.0 L245.5 94.1 L246.0 95.3 L246.5 96.6 L246.9 97.9 L247.4 99.4 L247.9 100.8 L248.4 102.4 L248.9 104.0 L249.4 105.6 L249.9 107.3 L250.4 109.0 L250.9 110.7 L251.4 112.4 L251.9 114.1 L252.4 115.9 L252.9 117.6 L253.4 119.3 L253.9 121.0 L254.3 122.7 L254.8 124.3 L255.3 125.9 L255.8 127.5 L256.3 129.0 L256.8 130.4 L257.3 131.8 L257.8 133.2 L258.3 134.6 L258.7 136.1 L259.2 137.7 L259.7 139.3 L260.2 140.9 L260.7 142.5 L261.1 144.0 L261.6 145.4 L262.1 146.8 L262.6 147.9 L263.1 149.0 L263.6 149.8 L264.0 150.5 L264.5 150.9 L265.0 151.0 L265.5 150.9 L265.9 150.5 L266.4 149.9 L266.9 149.1 L267.4 148.2 L267.9 147.1 L268.3 145.8 L268.8 144.4 L269.3 142.9 L269.8 141.4 L270.2 139.8 L270.7 138.1 L271.2 136.5 L271.7 134.8 L272.1 133.2 L272.6 131.6 L273.1 129.9 L273.6 127.9 L274.1 125.7 L274.6 123.4 L275.1 121.0 L275.6 118.5 L276.1 115.9 L276.6 113.3 L277.0 110.7 L277.5 108.1 L278.0 105.6 L278.5 103.1 L279.0 100.8 L279.5 98.7 L280.0 96.7 L280.5 95.0 L281.0 93.3 L281.5 91.6 L282.0 89.9 L282.5 88.2 L283.0 86.5 L283.5 84.8 L284.0 83.1 L284.5 81.5 L285.0 80.0 L285.5 78.6 L286.0 77.3 L286.5 76.1 L287.0 75.0 L287.5 74.1 L288.0 73.4 L288.5 72.9 L289.0 72.5 L289.5 72.4 L290.0 72.5 L290.5 72.7 L291.0 73.1 L291.5 73.6 L292.0 74.2 L292.5 74.9 L293.0 75.6 L293.5 76.4 L294.0 77.2 L294.5 78.0 L295.0 78.8 L295.4 79.8 L295.9 80.8 L296.3 82.0 L296.8 83.3 L297.3 84.6 L297.7 86.1 L298.2 87.5 L298.6 89.1 L299.1 90.6 L299.6 92.3 L300.1 94.2 L300.6 96.1 L301.0 98.2 L301.5 100.4 L302.0 102.7 L302.5 105.1 L303.0 107.5 L303.5 110.0 L304.0 112.5 L304.4 115.1 L304.9 117.6 L305.4 120.1 L305.9 122.6 L306.4 125.1 L306.9 127.5 L307.3 129.9 L307.8 132.1 L308.3 134.3 L308.8 136.4 L309.3 138.4 L309.8 140.4 L310.2 142.4 L310.7 144.4 L311.2 146.3 L311.6 148.2 L312.1 150.1 L312.6 151.9 L313.1 153.6 L313.6 155.2 L314.0 156.6 L314.5 158.0 L315.0 159.3 L315.4 160.7 L315.9 162.0 L316.4 163.4 L316.9 164.7 L317.3 165.8 L317.8 166.9 L318.3 167.8 L318.8 168.4 L319.2 168.8 L319.7 169.0 L320.2 168.9 L320.7 168.7 L321.1 168.3 L321.6 167.9 L322.1 167.3 L322.6 166.6 L323.1 165.9 L323.6 165.2 L324.1 164.4 L324.5 163.6 L325.0 162.8 L325.5 162.0 L326.0 161.2 L326.5 160.3 L327.0 159.4 L327.5 158.4 L328.0 157.3 L328.5 156.2 L329.0 155.0 L329.5 153.7 L330.0 152.4 L330.5 151.0 L331.0 149.5 L331.5 147.9 L332.0 146.1 L332.4 144.1 L332.9 142.0 L333.4 139.7 L333.9 137.4 L334.4 135.0 L334.9 132.5 L335.3 129.9 L335.8 127.4 L336.3 124.7 L336.8 122.1 L337.3 119.5 L337.8 116.9 L338.2 114.3 L338.7 111.8 L339.2 109.3 L339.7 107.0 L340.2 104.7 L340.7 102.5 L341.1 100.5 L341.6 98.7 L342.1 96.9 L342.6 95.4 L343.1 94.0 L343.6 92.5 L344.1 91.1 L344.5 89.7 L345.0 88.4 L345.5 87.0 L346.0 85.7 L346.5 84.5 L347.0 83.2 L347.5 82.0 L347.9 80.9 L348.4 79.8 L348.9 78.8 L349.4 77.9 L349.9 77.0 L350.4 76.1 L350.8 75.4 L351.3 74.7 L351.8 74.1 L352.3 73.6 L352.8 73.1 L353.3 72.7 L353.7 72.2 L354.2 71.8 L354.7 71.4 L355.2 71.0 L355.7 70.6 L356.2 70.2 L356.6 69.9 L357.1 69.6 L357.6 69.3 L358.1 69.1 L358.6 68.9 L359.1 68.7 L359.5 68.6 L360.0 68.5 L360.5 68.5 L361.0 68.6 L361.5 68.7 L362.0 68.9 L362.5 69.2 L363.0 69.6 L363.5 70.0 L364.0 70.6 L364.4 71.7 L364.9 73.0 L365.4 74.7 L365.9 76.4 L366.4 78.3 L366.8 80.2 L367.3 82.0 L367.8 83.8 L368.3 85.8 L368.7 87.9 L369.2 90.1 L369.7 92.4 L370.2 94.7 L370.7 97.1 L371.2 99.6 L371.6 102.1 L372.1 104.7 L372.6 107.2 L373.1 109.8 L373.6 112.4 L374.1 114.9 L374.5 117.4 L375.0 119.8 L375.5 122.2 L376.0 124.5 L376.5 126.7 L377.0 128.9 L377.4 130.9 L377.9 132.8 L378.4 134.5 L378.9 136.2 L379.4 137.9 L379.8 139.7 L380.3 141.5 L380.8 143.3 L381.3 145.1 L381.8 146.9 L382.3 148.7 L382.7 150.4 L383.2 152.1 L383.7 153.7 L384.2 155.3 L384.7 156.8 L385.2 158.2 L385.6 159.5 L386.1 160.6 L386.6 161.7 L387.1 162.6 L387.6 163.4 L388.1 164.1 L388.5 164.5 L389.0 164.8 L389.5 164.9 L390.0 164.8 L390.5 164.5 L391.0 163.9 L391.5 163.2 L392.0 162.3 L392.5 161.2 L393.0 160.0 L393.5 158.7 L394.0 157.3 L394.5 155.7 L395.0 154.1 L395.5 152.4 L396.0 150.6 L396.5 148.8 L397.0 147.0 L397.5 145.1 L398.0 143.2 L398.5 141.4 L399.0 139.6 L399.5 137.8 L400.0 136.1 L400.5 134.5 L401.0 132.9 L401.5 131.1 L402.0 129.2 L402.5 127.2 L403.0 125.0 L403.5 122.9 L403.9 120.6 L404.4 118.3 L404.9 115.9 L405.4 113.5 L405.9 111.1 L406.4 108.7 L406.9 106.4 L407.4 104.0 L407.9 101.7 L408.4 99.4 L408.9 97.3 L409.4 95.2 L409.9 93.2 L410.4 91.3 L410.9 89.5 L411.3 87.9 L411.8 86.5 L412.3 85.2 L412.8 84.1 L413.3 83.2 L413.8 82.5 L414.3 82.0 L414.8 81.6 L415.3 81.3 L415.8 81.0 L416.3 80.7 L416.8 80.3 L417.3 80.0 L417.8 79.7 L418.2 79.5 L418.7 79.2 L419.2 78.9 L419.7 78.7 L420.2 78.4 L420.7 78.2 L421.2 78.0 L421.7 77.8 L422.2 77.6 L422.7 77.4 L423.2 77.3 L423.7 77.1 L424.2 77.0 L424.7 76.9 L425.1 76.8 L425.6 76.7 L426.1 76.6 L426.6 76.6 L427.1 76.5 L427.6 76.5 L428.1 76.5 L428.6 76.5 L429.1 76.6 L429.6 76.7 L430.1 76.9 L430.6 77.1 L431.1 77.4 L431.6 77.7 L432.1 78.0 L432.6 78.4 L433.1 78.8 L433.6 79.3 L434.1 79.8 L434.6 80.3 L435.1 80.8 L435.5 81.4 L436.0 82.0 L436.5 82.6 L437.0 83.2 L437.5 83.9 L438.0 84.5 L438.5 85.2 L439.0 85.9 L439.5 86.6 L440.0 87.4 L440.5 88.1 L441.0 88.8 L441.5 89.6 L442.0 90.3 L442.5 91.1 L443.0 92.0 L443.5 93.0 L444.0 94.1 L444.5 95.3 L445.0 96.6 L445.4 97.9 L445.9 99.4 L446.4 100.8 L446.9 102.4 L447.4 104.0 L447.9 105.6 L448.4 107.3 L448.9 109.0 L449.4 110.7 L449.9 112.4 L450.4 114.1 L450.9 115.9 L451.4 117.6 L451.9 119.3 L452.4 121.0 L452.8 122.7 L453.3 124.3 L453.8 125.9 L454.3 127.5 L454.8 129.0 L455.3 130.4 L455.8 131.8 L456.3 133.2 L456.8 134.6 L457.2 136.1 L457.7 137.7 L458.2 139.3" stroke="#0000ff"/>
<path d="M66.5 138.0 L67.0 136.4 L67.5 134.7 L68.0 133.0 L68.5 131.3 L69.0 129.5 L69.5 127.7 L70.0 125.8 L70.5 123.9 L71.0 122.0 L71.5 120.0 L72.0 118.0 L72.5 115.9 L73.0 113.6 L73.5 111.2 L74.0 108.8 L74.5 106.2 L75.0 103.7 L75.5 101.0 L76.0 98.4 L76.5 95.8 L77.0 93.3 L77.5 90.8 L78.0 88.4 L78.5 86.0 L79.0 83.9 L79.5 81.8 L80.0 80.0 L80.5 78.3 L81.0 76.5 L81.5 74.6 L82.0 72.8 L82.5 71.0 L82.9 69.1 L83.4 67.3 L83.9 65.6 L84.4 63.9 L84.9 62.2 L85.4 60.7 L85.9 59.3 L86.4 57.9 L86.9 56.7 L87.3 55.7 L87.8 54.8 L88.3 54.1 L88.8 53.5 L89.3 53.2 L89.8 53.1 L90.3 53.2 L90.7 53.5 L91.2 53.9 L91.7 54.4 L92.2 55.1 L92.6 55.8 L93.1 56.6 L93.6 57.5 L94.1 58.3 L94.5 59.2 L95.0 60.0 L95.5 60.8 L95.9 61.7 L96.4 62.7 L96.9 63.7 L97.3 64.8 L97.8 65.9 L98.3 67.1 L98.7 68.3 L99.2 69.5 L99.7 70.9 L100.1 72.2 L100.6 73.6 L101.1 75.1 L101.6 76.8 L102.1 78.6 L102.5 80.4 L103.0 82.4 L103.5 84.4 L104.0 86.5 L104.5 88.7 L105.0 90.9 L105.4 93.1 L105.9 95.4 L106.4 97.7 L106.9 99.9 L107.4 102.2 L107.9 104.4 L108.4 106.6 L108.8 108.7 L109.3 110.8 L109.8 112.8 L110.3 114.7 L110.8 116.6 L111.2 118.4 L111.7 120.3 L112.2 122.3 L112.7 124.1 L113.2 126.0 L113.6 127.8 L114.1 129.4 L114.6 131.0 L115.0 132.5 L115.5 133.8 L116.0 135.0 L116.5 136.1 L116.9 137.2 L117.4 138.3 L117.9 139.3 L118.4 140.4 L118.8 141.3 L119.3 142.1 L119.8 142.7 L120.3 143.3 L120.7 143.6 L121.2 143.7 L121.7 143.7 L122.2 143.6 L122.7 143.4 L123.1 143.1 L123.6 142.9 L124.1 142.5 L124.6 142.2 L125.1 141.8 L125.5 141.3 L126.0 140.9 L126.5 140.5 L127.0 140.0 L127.5 139.5 L128.0 138.9 L128.5 138.2 L129.0 137.4 L129.5 136.6 L130.0 135.7 L130.5 134.8 L131.0 133.7 L131.5 132.7 L132.0 131.6 L132.5 130.5 L133.0 129.2 L133.5 127.8 L133.9 126.3 L134.4 124.7 L134.9 123.0 L135.4 121.2 L135.9 119.4 L136.4 117.5 L136.8 115.5 L137.3 113.5 L137.8 111.5 L138.3 109.4 L138.8 107.4 L139.3 105.3 L139.8 103.3 L140.2 101.3 L140.7 99.3 L141.2 97.3 L141.7 95.4 L142.2 93.5 L142.7 91.4 L143.2 89.3 L143.7 87.1 L144.1 84.9 L144.6 82.6 L145.1 80.4 L145.6 78.2 L146.1 76.0 L146.6 73.8 L147.1 71.8 L147.6 69.8 L148.0 68.0 L148.5 66.2 L149.0 64.6 L149.5 63.2 L150.0 62.0 L150.5 60.9 L151.0 59.8 L151.4 58.7 L151.9 57.6 L152.4 56.5 L152.9 55.4 L153.4 54.4 L153.8 53.4 L154.3 52.5 L154.8 51.6 L155.3 50.8 L155.7 50.1 L156.2 49.4 L156.7 48.8 L157.2 48.3 L157.7 47.9 L158.1 47.6 L158.6 47.5 L159.1 47.4 L159.6 47.5 L160.1 47.8 L160.6 48.2 L161.1 48.7 L161.6 49.4 L162.1 50.2 L162.5 51.1 L163.0 52.0 L163.5 53.0 L164.0 54.0 L164.5 55.0 L165.0 56.0 L165.5 57.1 L166.0 58.3 L166.5 59.7 L167.0 61.3 L167.5 62.9 L168.0 64.6 L168.5 66.4 L169.0 68.3 L169.5 70.2 L170.0 72.2 L170.5 74.1 L171.0 76.1 L171.5 78.1 L172.0 80.0 L172.5 81.9 L173.0 84.0 L173.5 86.0 L174.0 88.1 L174.5 90.3 L175.0 92.4 L175.5 94.7 L176.0 96.9 L176.5 99.2 L177.0 101.4 L177.5 103.7 L178.0 106.0 L178.5 108.2 L179.0 110.5 L179.5 112.8 L180.0 115.0 L180.5 117.3 L181.0 119.7 L181.5 122.2 L182.0 124.7 L182.5 127.2 L183.0 129.7 L183.5 132.1 L184.0 134.4 L184.5 136.6 L185.0 138.6 L185.5 140.4 L186.0 142.0 L186.5 143.4 L187.0 144.8 L187.5 146.3 L187.9 147.7 L188.4 149.0 L188.9 150.3 L189.4 151.5 L189.9 152.6 L190.4 153.5 L190.8 154.2 L191.3 154.8 L191.8 155.2 L192.3 155.3 L192.8 155.2 L193.2 154.9 L193.7 154.4 L194.2 153.7 L194.7 152.9 L195.2 151.9 L195.6 150.9 L196.1 149.8 L196.6 148.6 L197.1 147.4 L197.5 146.2 L198.0 145.0 L198.5 143.6 L199.0 142.0 L199.5 140.2 L200.0 138.2 L200.5 136.1 L201.0 133.8 L201.5 131.5 L202.0 129.1 L202.5 126.6 L203.0 124.2 L203.5 121.8 L204.0 119.4 L204.5 117.2 L205.0 115.0 L205.5 112.9 L206.0 110.7 L206.5 108.4 L207.0 106.1 L207.5 103.8 L208.0 101.5 L208.5 99.2 L209.0 96.9 L209.5 94.7 L210.0 92.4 L210.5 90.3 L211.0 88.2 L211.5 86.2 L212.0 84.3 L212.5 82.5 L213.0 80.9 L213.5 79.4 L214.0 78.0 L214.5 76.7 L215.0 75.4 L215.5 74.1 L216.0 72.8 L216.5 71.5 L217.0 70.3 L217.5 69.0 L218.0 67.8 L218.5 66.6 L219.0 65.5 L219.5 64.4 L220.0 63.4 L220.5 62.4 L221.0 61.5 L221.5 60.6 L222.0 59.8 L222.5 59.1 L223.0 58.5 L223.5 58.0 L224.0 57.6 L224.5 57.3 L225.0 57.2 L225.5 57.1 L226.0 57.1 L226.5 57.2 L227.0 57.4 L227.5 57.7 L228.0 58.0 L228.5 58.3 L229.0 58.7 L229.5 59.2 L230.0 59.7 L230.5 60.2 L231.0 60.8 L231.5 61.4 L232.0 62.0 L232.5 62.6 L233.0 63.3 L233.5 64.0 L234.0 64.6 L234.5 65.3 L235.0 66.0 L235.5 66.7 L236.0 67.6 L236.5 68.5 L237.0 69.5 L237.5 70.6 L238.0 71.7 L238.5 72.9 L239.0 74.2 L239.5 75.5 L240.0 76.9 L240.5 78.3 L241.0 79.8 L241.5 81.3 L242.0 82.8 L242.5 84.3 L243.0 85.9 L243.5 87.4 L244.0 88.9 L244.5 90.5 L245.0 92.0 L245.5 93.5 L246.0 95.0 L246.5 96.5 L247.0 98.2 L247.5 99.9 L248.0 101.7 L248.5 103.5 L249.0 105.4 L249.5 107.3 L250.0 109.3 L250.5 111.2 L251.0 113.1 L251.5 115.0 L252.0 116.8 L252.5 118.6 L253.0 120.3 L253.5 121.9 L254.0 123.4 L254.5 124.8 L255.0 126.0 L255.5 127.1 L256.0 128.0 L256.5 128.8 L257.0 129.6 L257.5 130.5 L258.0 131.3 L258.5 132.0 L259.0 132.8 L259.5 133.5 L260.0 134.2 L260.5 134.9 L261.0 135.5 L261.5 136.0 L262.0 136.5 L262.5 136.9 L263.0 137.3 L263.5 137.6 L264.0 137.8 L264.5 138.0 L265.0 138.0 L265.5 137.7 L266.0 136.9 L266.5 135.6 L267.0 133.9 L267.5 131.9 L268.0 129.7 L268.5 127.3 L269.0 124.9 L269.5 122.5 L270.0 120.2 L270.5 118.0 L271.0 115.9 L271.5 113.6 L272.0 111.2 L272.5 108.8 L273.0 106.2 L273.5 103.7 L274.0 101.0 L274.5 98.4 L275.0 95.8 L275.5 93.3 L276.0 90.8 L276.5 88.4 L277.0 86.0 L277.5 83.9 L278.0 81.8 L278.5 80.0 L279.0 78.3 L279.5 76.5 L280.0 74.6 L280.5 72.8 L280.9 71.0 L281.4 69.1 L281.9 67.3 L282.4 65.6 L282.9 63.9 L283.4 62.2 L283.9 60.7 L284.4 59.3 L284.9 57.9 L285.4 56.7 L285.9 55.7 L286.3 54.8 L286.8 54.1 L287.3 53.5 L287.8 53.2 L288.3 53.1 L288.8 53.2 L289.2 53.5 L289.7 53.9 L290.2 54.4 L290.7 55.1 L291.1 55.8 L291.6 56.6 L292.1 57.5 L292.6 58.3 L293.0 59.2 L293.5 60.0 L294.0 60.8 L294.4 61.7 L294.9 62.7 L295.4 63.7 L295.8 64.8 L296.3 65.9 L296.8 67.1 L297.2 68.3 L297.7 69.5 L298.2 70.9 L298.6 72.2 L299.1 73.6 L299.6 75.1 L300.1 76.8 L300.6 78.6 L301.0 80.4 L301.5 82.4 L302.0 84.4 L302.5 86.5 L303.0 88.7 L303.5 90.9 L304.0 93.1 L304.4 95.4 L304.9 97.7 L305.4 99.9 L305.9 102.2 L306.4 104.4 L306.9 106.6 L307.3 108.7 L307.8 110.8 L308.3 112.8 L308.8 114.7 L309.3 116.6 L309.8 118.4 L310.2 120.3 L310.7 122.3 L311.2 124.1 L311.6 126.0 L312.1 127.8 L312.6 129.4 L313.1 131.0 L313.6 132.5 L314.0 133.8 L314.5 135.0 L315.0 136.1 L315.4 137.2 L315.9 138.3 L316.4 139.3 L316.9 140.4 L317.3 141.3 L317.8 142.1 L318.3 142.7 L318.8 143.3 L319.2 143.6 L319.7 143.7 L320.2 143.7 L320.7 143.6 L321.1 143.4 L321.6 143.1 L322.1 142.9 L322.6 142.5 L323.1 142.2 L323.6 141.8 L324.1 141.3 L324.5 140.9 L325.0 140.5 L325.5 140.0 L326.0 139.5 L326.5 138.9 L327.0 138.2 L327.5 137.4 L328.0 136.6 L328.5 135.7 L329.0 134.8 L329.5 133.7 L330.0 132.7 L330.5 131.6 L331.0 130.5 L331.5 129.2 L332.0 127.8 L332.4 126.3 L332.9 124.7 L333.4 123.0 L333.9 121.2 L334.4 119.4 L334.9 117.5 L335.4 115.5 L335.8 113.5 L336.3 111.5 L336.8 109.4 L337.3 107.4 L337.8 105.3 L338.3 103.3 L338.7 101.3 L339.2 99.3 L339.7 97.3 L340.2 95.4 L340.7 93.5 L341.2 91.4 L341.7 89.3 L342.2 87.1 L342.6 84.9 L343.1 82.6 L343.6 80.4 L344.1 78.2 L344.6 76.0 L345.1 73.8 L345.6 71.8 L346.1 69.8 L346.5 68.0 L347.0 66.2 L347.5 64.6 L348.0 63.2 L348.5 62.0 L349.0 60.9 L349.5 59.8 L349.9 58.7 L350.4 57.6 L350.9 56.5 L351.4 55.4 L351.9 54.4 L352.3 53.4 L352.8 52.5 L353.3 51.6 L353.8 50.8 L354.2 50.1 L354.7 49.4 L355.2 48.8 L355.7 48.3 L356.2 47.9 L356.6 47.6 L357.1 47.5 L357.6 47.4 L358.1 47.5 L358.6 47.8 L359.1 48.2 L359.6 48.7 L360.1 49.4 L360.6 50.2 L361.0 51.1 L361.5 52.0 L362.0 53.0 L362.5 54.0 L363.0 55.0 L363.5 56.0 L364.0 57.1 L364.5 58.3 L365.0 59.7 L365.5 61.3 L366.0 62.9 L366.5 64.6 L367.0 66.4 L367.5 68.3 L368.0 70.2 L368.5 72.2 L369.0 74.1 L369.5 76.1 L370.0 78.1 L370.5 80.0 L371.0 81.9 L371.5 84.0 L372.0 86.0 L372.5 88.1 L373.0 90.3 L373.5 92.4 L374.0 94.7 L374.5 96.9 L375.0 99.2 L375.5 101.4 L376.0 103.7 L376.5 106.0 L377.0 108.2 L377.5 110.5 L378.0 112.8 L378.5 115.0 L379.0 117.3 L379.5 119.7 L380.0 122.2 L380.5 124.7 L381.0 127.2 L381.5 129.7 L382.0 132.1 L382.5 134.4 L383.0 136.6 L383.5 138.6 L384.0 140.4 L384.5 142.0 L385.0 143.4 L385.5 144.8 L386.0 146.3 L386.4 147.7 L386.9 149.0 L387.4 150.3 L387.9 151.5 L388.4 152.6 L388.9 153.5 L389.3 154.2 L389.8 154.8 L390.3 155.2 L390.8 155.3 L391.3 155.2 L391.8 154.9 L392.2 154.4 L392.7 153.7 L393.2 152.9 L393.6 151.9 L394.1 150.9 L394.6 149.8 L395.1 148.6 L395.6 147.4 L396.0 146.2 L396.5 145.0 L397.0 143.6 L397.5 142.0 L398.0 140.2 L398.5 138.2 L399.0 136.1 L399.5 133.8 L400.0 131.5 L400.5 129.1 L401.0 126.6 L401.5 124.2 L402.0 121.8 L402.5 119.4 L403.0 117.2 L403.5 115.0 L404.0 112.9 L404.5 110.7 L405.0 108.4 L405.5 106.1 L406.0 103.8 L406.5 101.5 L407.0 99.2 L407.5 96.9 L408.0 94.7 L408.5 92.4 L409.0 90.3 L409.5 88.2 L410.0 86.2 L410.5 84.3 L411.0 82.5 L411.5 80.9 L412.0 79.4 L412.5 78.0 L413.0 76.7 L413.5 75.4 L414.0 74.1 L414.5 72.8 L415.0 71.5 L415.5 70.3 L416.0 69.0 L416.5 67.8 L417.0 66.6 L417.5 65.5 L418.0 64.4 L418.5 63.4 L419.0 62.4 L419.5 61.5 L420.0 60.6 L420.5 59.8 L421.0 59.1 L421.5 58.5 L422.0 58.0 L422.5 57.6 L423.0 57.3 L423.5 57.2 L424.0 57.1 L424.5 57.1 L425.0 57.2 L425.5 57.4 L426.0 57.7 L426.5 58.0 L427.0 58.3 L427.5 58.7 L428.0 59.2 L428.5 59.7 L429.0 60.2 L429.5 60.8 L430.0 61.4 L430.5 62.0 L431.0 62.6 L431.5 63.3 L432.0 64.0 L432.5 64.6 L433.0 65.3 L433.5 66.0 L434.0 66.7 L434.5 67.6 L435.0 68.5 L435.5 69.5 L436.0 70.6 L436.5 71.7 L437.0 72.9 L437.5 74.2 L438.0 75.5 L438.5 76.9 L439.0 78.3 L439.5 79.8 L440.0 81.3 L440.5 82.8 L441.0 84.3 L441.5 85.9 L442.0 87.4 L442.5 88.9 L443.0 90.5 L443.5 92.0 L444.0 93.5 L444.5 95.0 L445.0 96.5 L445.5 98.2 L446.0 99.9 L446.5 101.7 L447.0 103.5 L447.5 105.4 L448.0 107.3 L448.5 109.3 L449.0 111.2 L449.5 113.1 L450.0 115.0 L450.5 116.8 L451.0 118.6 L451.5 120.3 L452.0 121.9 L452.5 123.4 L453.0 124.8 L453.5 126.0 L454.0 127.1 L454.5 128.0 L455.0 128.8 L455.5 129.6 L456.0 130.5 L456.5 131.3 L457.0 132.0 L457.5 132.8 L458.0 133.5 L458.5 134.2" stroke="#ff0000"/>
<path d="M66.5 133.0 L67.0 132.0 L67.5 131.0 L68.0 129.9 L68.5 128.6 L69.0 127.3 L69.5 126.0 L69.9 124.5 L70.4 123.0 L70.9 121.5 L71.4 119.9 L71.9 118.2 L72.4 116.5 L72.9 114.7 L73.4 112.8 L73.9 110.6 L74.4 108.3 L74.9 105.8 L75.4 103.2 L75.9 100.4 L76.4 97.6 L76.9 94.7 L77.3 91.8 L77.8 89.0 L78.3 86.1 L78.8 83.3 L79.3 80.6 L79.8 78.0 L80.3 75.5 L80.8 73.3 L81.3 71.2 L81.8 69.3 L82.2 67.4 L82.7 65.6 L83.2 63.8 L83.7 62.0 L84.1 60.4 L84.6 58.8 L85.1 57.4 L85.6 56.1 L86.0 54.9 L86.5 54.0 L87.0 53.2 L87.5 52.3 L87.9 51.5 L88.4 50.7 L88.9 50.0 L89.3 49.3 L89.8 48.7 L90.3 48.1 L90.8 47.7 L91.2 47.4 L91.7 47.2 L92.2 47.1 L92.7 47.2 L93.2 47.4 L93.6 47.8 L94.1 48.4 L94.6 49.0 L95.1 49.7 L95.6 50.5 L96.0 51.3 L96.5 52.1 L97.0 53.0 L97.5 53.9 L97.9 55.1 L98.3 56.4 L98.8 57.8 L99.2 59.3 L99.7 60.9 L100.1 62.4 L100.6 64.0 L101.1 65.7 L101.6 67.4 L102.1 69.3 L102.5 71.2 L103.0 73.1 L103.5 75.1 L104.0 77.1 L104.5 79.2 L105.0 81.2 L105.4 83.3 L105.9 85.4 L106.4 87.4 L106.9 89.5 L107.4 91.5 L107.9 93.5 L108.4 95.4 L108.8 97.3 L109.3 99.1 L109.8 100.9 L110.3 102.6 L110.8 104.3 L111.3 106.1 L111.8 107.9 L112.3 109.6 L112.8 111.4 L113.3 113.2 L113.8 114.9 L114.3 116.6 L114.8 118.3 L115.3 119.8 L115.8 121.3 L116.3 122.7 L116.8 124.1 L117.3 125.2 L117.8 126.3 L118.3 127.2 L118.8 128.0 L119.3 128.7 L119.8 129.4 L120.3 130.0 L120.8 130.7 L121.3 131.3 L121.8 131.8 L122.3 132.3 L122.8 132.8 L123.3 133.1 L123.8 133.4 L124.3 133.5 L124.8 133.6 L125.3 133.6 L125.8 133.4 L126.2 133.2 L126.7 132.9 L127.2 132.6 L127.7 132.2 L128.2 131.7 L128.6 131.2 L129.1 130.7 L129.6 130.1 L130.1 129.5 L130.6 128.8 L131.0 128.2 L131.5 127.5 L132.0 126.8 L132.5 126.0 L133.0 125.1 L133.5 124.1 L133.9 122.9 L134.4 121.6 L134.9 120.2 L135.4 118.8 L135.9 117.2 L136.4 115.6 L136.8 113.8 L137.3 112.1 L137.8 110.3 L138.3 108.4 L138.8 106.6 L139.3 104.7 L139.8 102.8 L140.2 100.9 L140.7 99.1 L141.2 97.2 L141.7 95.4 L142.2 93.5 L142.7 91.4 L143.2 89.1 L143.7 86.8 L144.2 84.4 L144.7 81.9 L145.2 79.4 L145.7 76.9 L146.2 74.5 L146.7 72.1 L147.2 69.7 L147.7 67.5 L148.2 65.5 L148.7 63.6 L149.2 61.9 L149.7 60.4 L150.2 59.2 L150.7 58.2 L151.2 57.1 L151.7 56.2 L152.2 55.2 L152.7 54.3 L153.2 53.5 L153.7 52.7 L154.2 51.9 L154.6 51.2 L155.1 50.5 L155.6 49.9 L156.1 49.3 L156.6 48.7 L157.1 48.2 L157.6 47.8 L158.1 47.4 L158.6 47.0 L159.1 46.7 L159.5 46.3 L160.0 46.0 L160.5 45.7 L160.9 45.4 L161.4 45.2 L161.9 45.0 L162.4 44.8 L162.8 44.7 L163.3 44.7 L163.8 44.9 L164.2 45.4 L164.7 46.2 L165.2 47.2 L165.6 48.3 L166.1 49.6 L166.5 50.8 L167.0 52.0 L167.5 53.2 L167.9 54.6 L168.4 56.0 L168.8 57.6 L169.3 59.3 L169.8 61.0 L170.2 62.7 L170.7 64.6 L171.1 66.4 L171.6 68.2 L172.1 70.2 L172.6 72.2 L173.1 74.4 L173.6 76.6 L174.0 78.9 L174.5 81.2 L175.0 83.6 L175.5 85.9 L176.0 88.3 L176.5 90.7 L177.0 93.1 L177.5 95.5 L177.9 97.9 L178.4 100.2 L178.9 102.5 L179.4 104.7 L179.9 106.9 L180.4 109.0 L180.8 111.0 L181.3 113.1 L181.8 115.2 L182.2 117.3 L182.7 119.3 L183.2 121.3 L183.7 123.3 L184.1 125.2 L184.6 127.0 L185.1 128.8 L185.5 130.4 L186.0 132.0 L186.5 133.6 L187.0 135.3 L187.5 137.0 L187.9 138.7 L188.4 140.3 L188.9 141.9 L189.4 143.5 L189.9 144.8 L190.4 146.0 L190.8 147.0 L191.3 147.8 L191.8 148.2 L192.3 148.4 L192.8 148.3 L193.2 147.9 L193.7 147.4 L194.2 146.7 L194.7 145.9 L195.1 145.0 L195.6 144.0 L196.1 143.0 L196.5 142.0 L197.0 141.0 L197.5 139.9 L198.0 138.7 L198.5 137.4 L199.0 135.9 L199.5 134.4 L200.0 132.8 L200.5 131.2 L201.0 129.6 L201.5 127.9 L202.0 126.2 L202.5 124.5 L203.0 122.7 L203.5 120.8 L204.0 118.9 L204.5 116.8 L205.0 114.8 L205.5 112.7 L206.0 110.6 L206.5 108.4 L207.0 106.2 L207.5 104.0 L208.0 101.9 L208.5 99.7 L209.0 97.5 L209.5 95.4 L210.0 93.3 L210.5 91.3 L211.0 89.3 L211.5 87.3 L212.0 85.5 L212.5 83.7 L213.0 82.0 L213.5 80.3 L214.0 78.6 L214.5 76.9 L215.0 75.2 L215.5 73.5 L216.0 71.9 L216.5 70.3 L217.0 68.7 L217.5 67.3 L218.0 66.0 L218.5 64.8 L219.0 63.7 L219.5 62.8 L220.0 62.0 L220.5 61.4 L221.0 60.7 L221.4 60.1 L221.9 59.6 L222.4 59.0 L222.9 58.4 L223.4 57.9 L223.8 57.4 L224.3 56.9 L224.8 56.5 L225.3 56.1 L225.7 55.7 L226.2 55.4 L226.7 55.1 L227.2 54.8 L227.7 54.7 L228.1 54.5 L228.6 54.4 L229.1 54.4 L229.6 54.4 L230.1 54.6 L230.6 54.8 L231.1 55.1 L231.6 55.5 L232.1 55.9 L232.6 56.4 L233.1 56.9 L233.5 57.5 L234.0 58.1 L234.5 58.7 L235.0 59.3 L235.5 60.0 L236.0 60.7 L236.5 61.3 L237.0 62.0 L237.5 62.7 L238.0 63.4 L238.5 64.2 L238.9 65.0 L239.4 65.9 L239.9 66.9 L240.4 67.9 L240.9 68.9 L241.4 70.0 L241.8 71.1 L242.3 72.2 L242.8 73.4 L243.3 74.6 L243.8 75.8 L244.3 77.0 L244.7 78.3 L245.2 79.5 L245.7 80.7 L246.2 82.0 L246.7 83.3 L247.2 84.7 L247.6 86.1 L248.1 87.6 L248.6 89.2 L249.1 90.8 L249.6 92.5 L250.1 94.2 L250.5 95.9 L251.0 97.6 L251.5 99.4 L252.0 101.1 L252.5 102.9 L253.0 104.6 L253.4 106.3 L253.9 108.0 L254.4 109.6 L254.9 111.2 L255.4 112.7 L255.9 114.1 L256.3 115.5 L256.8 116.8 L257.3 118.0 L257.8 119.2 L258.3 120.4 L258.7 121.7 L259.2 122.9 L259.7 124.2 L260.2 125.5 L260.7 126.7 L261.1 127.8 L261.6 128.9 L262.1 129.9 L262.6 130.8 L263.1 131.5 L263.6 132.1 L264.0 132.6 L264.5 132.9 L265.0 133.0 L265.5 132.8 L266.0 132.3 L266.5 131.5 L267.0 130.4 L267.5 129.1 L268.0 127.6 L268.4 125.9 L268.9 124.1 L269.4 122.3 L269.9 120.4 L270.4 118.4 L270.9 116.5 L271.4 114.7 L271.9 112.8 L272.4 110.6 L272.9 108.3 L273.4 105.8 L273.9 103.2 L274.4 100.4 L274.9 97.6 L275.4 94.7 L275.8 91.8 L276.3 89.0 L276.8 86.1 L277.3 83.3 L277.8 80.6 L278.3 78.0 L278.8 75.5 L279.3 73.3 L279.8 71.2 L280.3 69.3 L280.7 67.4 L281.2 65.6 L281.7 63.8 L282.2 62.0 L282.6 60.4 L283.1 58.8 L283.6 57.4 L284.1 56.1 L284.5 54.9 L285.0 54.0 L285.5 53.2 L285.9 52.3 L286.4 51.5 L286.9 50.7 L287.4 50.0 L287.9 49.3 L288.3 48.7 L288.8 48.1 L289.3 47.7 L289.8 47.4 L290.2 47.2 L290.7 47.1 L291.2 47.2 L291.7 47.4 L292.1 47.8 L292.6 48.4 L293.1 49.0 L293.6 49.7 L294.1 50.5 L294.5 51.3 L295.0 52.1 L295.5 53.0 L295.9 53.9 L296.4 55.1 L296.9 56.4 L297.3 57.8 L297.8 59.3 L298.2 60.9 L298.7 62.4 L299.1 64.0 L299.6 65.7 L300.1 67.4 L300.6 69.3 L301.0 71.2 L301.5 73.1 L302.0 75.1 L302.5 77.1 L303.0 79.2 L303.5 81.2 L304.0 83.3 L304.4 85.4 L304.9 87.4 L305.4 89.5 L305.9 91.5 L306.4 93.5 L306.9 95.4 L307.3 97.3 L307.8 99.1 L308.3 100.9 L308.8 102.6 L309.3 104.3 L309.8 106.1 L310.3 107.9 L310.8 109.6 L311.3 111.4 L311.8 113.2 L312.3 114.9 L312.8 116.6 L313.3 118.3 L313.8 119.8 L314.3 121.3 L314.8 122.7 L315.3 124.1 L315.8 125.2 L316.3 126.3 L316.8 127.2 L317.3 128.0 L317.8 128.7 L318.3 129.4 L318.8 130.0 L319.3 130.7 L319.8 131.3 L320.3 131.8 L320.8 132.3 L321.3 132.8 L321.8 133.1 L322.3 133.4 L322.8 133.5 L323.3 133.6 L323.8 133.6 L324.3 133.4 L324.7 133.2 L325.2 132.9 L325.7 132.6 L326.2 132.2 L326.7 131.7 L327.1 131.2 L327.6 130.7 L328.1 130.1 L328.6 129.5 L329.1 128.8 L329.5 128.2 L330.0 127.5 L330.5 126.8 L331.0 126.0 L331.5 125.1 L332.0 124.1 L332.4 122.9 L332.9 121.6 L333.4 120.2 L333.9 118.8 L334.4 117.2 L334.9 115.6 L335.4 113.8 L335.8 112.1 L336.3 110.3 L336.8 108.4 L337.3 106.6 L337.8 104.7 L338.3 102.8 L338.7 100.9 L339.2 99.1 L339.7 97.2 L340.2 95.4 L340.7 93.5 L341.2 91.4 L341.7 89.1 L342.2 86.8 L342.7 84.4 L343.2 81.9 L343.7 79.4 L344.2 76.9 L344.7 74.5 L345.2 72.1 L345.7 69.7 L346.2 67.5 L346.7 65.5 L347.2 63.6 L347.7 61.9 L348.2 60.4 L348.7 59.2 L349.2 58.2 L349.7 57.1 L350.2 56.2 L350.7 55.2 L351.2 54.3 L351.7 53.5 L352.2 52.7 L352.7 51.9 L353.1 51.2 L353.6 50.5 L354.1 49.9 L354.6 49.3 L355.1 48.7 L355.6 48.2 L356.1 47.8 L356.6 47.4 L357.1 47.0 L357.6 46.7 L358.0 46.3 L358.5 46.0 L359.0 45.7 L359.5 45.4 L359.9 45.2 L360.4 45.0 L360.9 44.8 L361.3 44.7 L361.8 44.7 L362.3 44.9 L362.7 45.4 L363.2 46.2 L363.6 47.2 L364.1 48.3 L364.6 49.6 L365.0 50.8 L365.5 52.0 L366.0 53.2 L366.4 54.6 L366.9 56.0 L367.3 57.6 L367.8 59.3 L368.3 61.0 L368.7 62.7 L369.2 64.6 L369.6 66.4 L370.1 68.2 L370.6 70.2 L371.1 72.2 L371.6 74.4 L372.1 76.6 L372.5 78.9 L373.0 81.2 L373.5 83.6 L374.0 85.9 L374.5 88.3 L375.0 90.7 L375.5 93.1 L376.0 95.5 L376.4 97.9 L376.9 100.2 L377.4 102.5 L377.9 104.7 L378.4 106.9 L378.9 109.0 L379.3 111.0 L379.8 113.1 L380.3 115.2 L380.7 117.3 L381.2 119.3 L381.7 121.3 L382.2 123.3 L382.6 125.2 L383.1 127.0 L383.6 128.8 L384.0 130.4 L384.5 132.0 L385.0 133.6 L385.5 135.3 L386.0 137.0 L386.4 138.7 L386.9 140.3 L387.4 141.9 L387.9 143.5 L388.4 144.8 L388.9 146.0 L389.3 147.0 L389.8 147.8 L390.3 148.2 L390.8 148.4 L391.3 148.3 L391.7 147.9 L392.2 147.4 L392.7 146.7 L393.1 145.9 L393.6 145.0 L394.1 144.0 L394.6 143.0 L395.0 142.0 L395.5 141.0 L396.0 139.9 L396.5 138.7 L397.0 137.4 L397.5 135.9 L398.0 134.4 L398.5 132.8 L399.0 131.2 L399.5 129.6 L400.0 127.9 L400.5 126.2 L401.0 124.5 L401.5 122.7 L402.0 120.8 L402.5 118.9 L403.0 116.8 L403.5 114.8 L404.0 112.7 L404.5 110.6 L405.0 108.4 L405.5 106.2 L406.0 104.0 L406.5 101.9 L407.0 99.7 L407.5 97.5 L408.0 95.4 L408.5 93.3 L409.0 91.3 L409.5 89.3 L410.0 87.3 L410.5 85.5 L411.0 83.7 L411.5 82.0 L412.0 80.3 L412.5 78.6 L413.0 76.9 L413.5 75.2 L414.0 73.5 L414.5 71.9 L415.0 70.3 L415.5 68.7 L416.0 67.3 L416.5 66.0 L417.0 64.8 L417.5 63.7 L418.0 62.8 L418.5 62.0 L419.0 61.4 L419.5 60.7 L419.9 60.1 L420.4 59.6 L420.9 59.0 L421.4 58.4 L421.9 57.9 L422.3 57.4 L422.8 56.9 L423.3 56.5 L423.8 56.1 L424.2 55.7 L424.7 55.4 L425.2 55.1 L425.7 54.8 L426.2 54.7 L426.6 54.5 L427.1 54.4 L427.6 54.4 L428.1 54.4 L428.6 54.6 L429.1 54.8 L429.6 55.1 L430.1 55.5 L430.6 55.9 L431.1 56.4 L431.6 56.9 L432.0 57.5 L432.5 58.1 L433.0 58.7 L433.5 59.3 L434.0 60.0 L434.5 60.7 L435.0 61.3 L435.5 62.0 L436.0 62.7 L436.5 63.4 L437.0 64.2 L437.4 65.0 L437.9 65.9 L438.4 66.9 L438.9 67.9 L439.4 68.9 L439.9 70.0 L440.3 71.1 L440.8 72.2 L441.3 73.4 L441.8 74.6 L442.3 75.8 L442.8 77.0 L443.2 78.3 L443.7 79.5 L444.2 80.7 L444.7 82.0 L445.2 83.3 L445.7 84.7 L446.1 86.1 L446.6 87.6 L447.1 89.2 L447.6 90.8 L448.1 92.5 L448.6 94.2 L449.0 95.9 L449.5 97.6 L450.0 99.4 L450.5 101.1 L451.0 102.9 L451.5 104.6 L451.9 106.3 L452.4 108.0 L452.9 109.6 L453.4 111.2 L453.9 112.7 L454.4 114.1 L454.8 115.5 L455.3 116.8 L455.8 118.0 L456.3 119.2 L456.8 120.4 L457.2 121.7 L457.7 122.9 L458.2 124.2" stroke="#1a1a1a"/>
<path d="M571.5 110.0 L571.9 104.7 L572.4 99.8 L572.8 95.4 L573.2 91.7 L573.7 88.3 L574.1 85.1 L574.6 82.3 L575.1 79.8 L575.5 77.7 L576.0 76.0 L576.5 74.5 L576.9 73.1 L577.4 71.8 L577.8 70.7 L578.3 69.8 L578.7 69.2 L579.2 69.0 L579.7 69.5 L580.1 71.0 L580.6 73.2 L581.1 76.0 L581.5 78.9 L582.0 82.0 L582.5 85.6 L582.9 90.0 L583.3 94.7 L583.7 99.9 L584.1 105.1 L584.5 110.0 L584.9 114.4 L585.3 118.3 L585.8 122.0 L586.2 125.8 L586.6 130.0 L587.0 134.5 L587.4 139.2 L587.8 144.0 L588.2 148.6 L588.7 153.9 L589.2 159.1 L589.7 164.1 L590.2 169.1 L590.7 174.0 L591.2 178.9 L591.6 183.7 L592.1 188.4 L592.6 193.2 L593.1 197.9 L593.6 202.6 L594.1 207.3 L594.6 212.1 L595.1 216.9 L595.6 221.6 L596.1 226.3 L596.6 230.9 L597.1 235.5 L597.6 240.0 L598.1 244.1 L598.5 248.0 L599.0 251.9 L599.4 255.8 L599.9 259.7 L600.4 264.0 L600.9 268.5 L601.4 273.1 L601.9 277.8 L602.4 282.5 L602.9 287.2 L603.4 291.9 L603.9 296.5 L604.4 301.0 L604.9 305.3 L605.4 309.4 L605.9 313.3 L606.4 316.9 L606.9 320.1 L607.4 323.0 L607.9 325.5 L608.4 327.5 L608.8 329.5 L609.3 331.3 L609.8 333.1 L610.2 334.7 L610.7 336.2 L611.1 337.6 L611.6 338.9 L612.1 340.1 L612.5 341.1 L613.0 342.0 L613.5 342.9 L614.0 343.7 L614.5 344.6 L614.9 345.4 L615.4 346.2 L615.9 346.9 L616.4 347.6 L616.9 348.2 L617.4 348.7 L617.8 349.1 L618.3 349.4 L618.8 349.6 L619.3 349.7 L619.8 349.7 L620.2 349.5 L620.7 349.3 L621.2 349.0 L621.7 348.6 L622.1 348.2 L622.6 347.8 L623.1 347.3 L623.6 346.7 L624.0 346.2 L624.5 345.6 L625.0 345.0 L625.5 344.3 L626.0 343.6 L626.4 342.7 L626.9 341.7 L627.4 340.6 L627.9 339.5 L628.4 338.2 L628.9 336.9 L629.3 335.4 L629.8 334.0 L630.3 332.4 L630.8 330.7 L631.3 328.7 L631.8 326.5 L632.2 324.1 L632.7 321.5 L633.2 318.7 L633.7 315.8 L634.2 312.7 L634.6 309.6 L635.1 306.4 L635.6 303.1 L636.1 299.8 L636.6 296.5 L637.1 293.2 L637.5 290.0 L638.0 286.8 L638.5 283.7 L639.0 280.7 L639.5 277.8 L640.0 274.9 L640.5 272.1 L640.9 269.2 L641.4 266.2 L641.9 263.1 L642.4 259.7 L642.9 256.1 L643.4 252.3 L643.9 248.4 L644.4 244.3 L644.9 240.1 L645.4 235.7 L645.9 231.3 L646.3 226.7 L646.8 222.1 L647.3 217.3 L647.8 212.5 L648.3 207.6 L648.8 202.7 L649.3 197.7 L649.8 192.6 L650.3 187.7 L650.7 182.6 L651.2 177.3 L651.6 171.9 L652.1 166.4 L652.6 160.9 L653.0 155.4 L653.5 150.0 L654.0 144.6 L654.4 139.1 L654.9 133.4 L655.3 127.8 L655.8 122.2 L656.2 117.0 L656.6 112.1 L657.1 107.6 L657.6 103.1 L658.1 98.7 L658.5 94.6 L659.0 90.8 L659.5 87.6 L660.0 85.0 L660.5 82.8 L661.0 80.6 L661.5 78.5 L662.0 76.6 L662.5 74.8 L663.0 73.4 L663.5 72.3 L664.0 71.6 L664.5 71.4 L665.0 72.0 L665.5 73.5 L666.0 75.9 L666.5 78.7 L667.0 81.9 L667.5 85.0 L668.0 88.0 L668.5 90.8 L669.0 93.9 L669.5 97.1 L670.0 100.4 L670.4 103.9 L670.9 107.5 L671.4 111.1 L671.9 114.8 L672.4 118.6 L672.9 122.6 L673.4 126.9 L673.9 131.4 L674.3 135.9 L674.8 140.3 L675.3 144.3 L675.8 147.8 L676.3 151.0 L676.8 154.1 L677.3 157.1 L677.8 160.0 L678.3 162.8 L678.8 165.5 L679.2 168.0 L679.7 170.5 L680.2 172.9 L680.7 175.1 L681.2 177.3 L681.7 179.4 L682.2 181.3 L682.7 183.2 L683.2 185.0 L683.7 186.7 L684.2 188.3 L684.6 189.9 L685.1 191.5 L685.6 193.0 L686.1 194.4 L686.6 195.8 L687.1 197.1 L687.6 198.4 L688.1 199.6 L688.5 200.8 L689.0 201.9 L689.5 203.0 L690.0 204.0 L690.5 205.0 L691.0 206.0 L691.5 207.1 L691.9 208.1 L692.4 209.2 L692.9 210.2 L693.4 211.1 L693.9 212.0 L694.4 212.9 L694.9 213.6 L695.4 214.3 L695.8 214.8 L696.3 215.2 L696.8 215.4 L697.3 215.5 L697.8 215.2 L698.3 214.5 L698.8 213.3 L699.3 211.8 L699.7 209.9 L700.2 207.7 L700.7 205.3 L701.2 202.7 L701.7 200.0 L702.2 197.2 L702.7 194.3 L703.2 191.5 L703.7 188.7 L704.1 186.0 L704.6 183.5 L705.1 181.2 L705.6 179.1 L706.1 177.4 L706.6 175.9 L707.1 174.4 L707.6 173.0 L708.1 171.7 L708.6 170.5 L709.0 169.3 L709.5 168.1 L710.0 167.0 L710.5 166.0 L711.0 164.9 L711.5 163.8 L712.0 162.8 L712.5 161.8 L713.0 160.7 L713.5 159.6 L714.0 158.5 L714.5 157.4 L715.0 156.3 L715.4 155.0 L715.9 153.8 L716.4 152.4 L716.9 151.0 L717.4 149.6 L717.9 148.0 L718.4 146.3 L718.9 144.2 L719.4 141.9 L719.9 139.4 L720.3 136.8 L720.8 133.9 L721.3 130.9 L721.8 127.9 L722.3 124.8 L722.8 121.6 L723.3 118.5 L723.8 115.4 L724.2 112.3 L724.7 109.4 L725.2 106.6 L725.7 103.9 L726.2 101.4 L726.7 99.2 L727.2 97.2 L727.6 95.5 L728.1 94.2 L728.6 93.2 L729.1 92.5 L729.6 92.3 L730.1 92.4 L730.6 92.8 L731.1 93.3 L731.6 94.1 L732.1 94.9 L732.6 95.9 L733.1 97.0 L733.6 98.1 L734.0 99.3 L734.5 100.5 L735.0 101.6 L735.5 102.7 L736.0 103.7 L736.5 104.5 L737.0 105.3 L737.5 105.8 L738.0 106.2 L738.5 106.3 L739.0 106.1 L739.5 105.5 L740.0 104.6 L740.5 103.4 L741.0 102.1 L741.5 100.7 L742.0 99.3 L742.5 97.9 L743.0 96.7 L743.5 95.7 L744.0 95.0 L744.5 94.5 L745.0 93.9 L745.5 93.4 L746.0 92.9 L746.5 92.4 L747.0 91.9 L747.4 91.5 L747.9 91.1 L748.4 90.8 L748.9 90.6 L749.4 90.4 L749.9 90.2 L750.4 90.2 L750.9 90.3 L751.3 90.5 L751.8 90.8 L752.3 91.2 L752.8 91.8 L753.2 92.4 L753.7 93.0 L754.2 93.7 L754.6 94.4 L755.1 95.2 L755.6 95.9 L756.1 96.7 L756.5 97.4 L757.0 98.0 L757.5 98.7 L758.0 99.5 L758.5 100.4 L758.9 101.3 L759.4 102.3 L759.9 103.2 L760.4 104.1 L760.9 105.0 L761.4 105.7 L761.8 106.4 L762.3 106.9 L762.8 107.2 L763.3 107.3 L763.8 107.1 L764.3 106.6 L764.8 105.8 L765.2 104.8 L765.7 103.7 L766.2 102.4 L766.7 101.0 L767.2 99.6 L767.7 98.2 L768.2 96.9 L768.7 95.8 L769.1 94.8 L769.6 94.0 L770.1 93.5 L770.6 93.3 L771.1 93.4 L771.5 93.8 L772.0 94.4 L772.5 95.2 L773.0 96.1 L773.4 97.2 L773.9 98.5 L774.4 99.8 L774.9 101.2 L775.3 102.7 L775.8 104.2 L776.3 106.1 L776.7 108.6 L777.2 111.7 L777.6 115.0 L778.1 118.5 L778.5 121.9 L779.0 125.1 L779.4 127.9 L779.9 130.0 L780.4 131.7 L780.8 133.2 L781.2 134.7 L781.7 136.0 L782.1 137.2 L782.6 138.3 L783.0 139.2 L783.5 140.1 L784.0 140.9 L784.5 141.7 L785.0 142.4 L785.5 143.1 L786.0 143.7 L786.5 144.3 L787.0 144.8 L787.4 145.4 L787.9 145.9 L788.4 146.4 L788.9 146.9 L789.4 147.4 L789.9 147.9 L790.4 148.4 L790.9 148.9 L791.3 149.3 L791.8 149.6 L792.2 150.0 L792.7 150.4 L793.1 150.8 L793.6 151.3 L794.0 151.8 L794.5 152.5 L795.0 153.5 L795.4 155.0 L795.9 156.9 L796.4 159.1 L796.8 161.4 L797.3 163.9 L797.8 166.2 L798.2 168.5 L798.7 170.5 L799.2 172.5 L799.6 174.6 L800.1 176.9 L800.5 179.1 L801.0 181.1 L801.4 183.0 L801.9 184.4 L802.3 185.4 L802.8 185.7 L803.3 185.6 L803.8 185.3 L804.3 184.7 L804.8 184.1 L805.3 183.2 L805.8 182.3 L806.2 181.2 L806.7 180.1 L807.2 179.0 L807.7 177.8 L808.2 176.6 L808.7 175.5 L809.2 174.3 L809.7 173.3 L810.2 172.3 L810.7 171.3 L811.2 170.3 L811.7 169.3 L812.1 168.3 L812.6 167.2 L813.1 166.2 L813.6 165.1 L814.1 164.0 L814.6 162.9 L815.1 161.7 L815.6 160.5 L816.0 159.3 L816.5 158.0 L817.0 156.7 L817.5 155.3 L818.0 153.9 L818.5 152.4 L819.0 150.9 L819.5 149.3 L820.0 147.7 L820.4 146.0 L820.9 144.3 L821.4 142.5 L821.9 140.6 L822.4 138.7 L822.9 136.7 L823.4 134.6 L823.9 132.5 L824.3 130.3 L824.8 128.0 L825.3 125.7 L825.8 123.3 L826.3 120.8 L826.8 118.3 L827.2 115.4 L827.7 112.3 L828.1 109.0 L828.6 105.7 L829.0 102.3 L829.5 99.0 L829.9 95.9 L830.4 93.1 L830.9 90.2 L831.3 87.0 L831.8 83.7 L832.3 80.5 L832.7 77.5 L833.2 74.9 L833.7 72.8 L834.1 71.5 L834.6 71.0 L835.1 71.2 L835.5 71.8 L836.0 72.7 L836.4 73.8 L836.9 75.2 L837.3 76.8 L837.8 78.5 L838.2 80.3 L838.7 82.1 L839.2 84.3 L839.6 87.1 L840.1 90.4 L840.6 94.1 L841.0 98.1 L841.5 102.4 L842.0 106.7 L842.4 111.0 L842.9 115.2 L843.4 119.4 L843.8 124.0 L844.3 128.7 L844.7 133.6 L845.2 138.5 L845.6 143.4 L846.1 148.1 L846.5 152.5 L847.0 156.7 L847.5 160.9 L848.0 164.9 L848.5 168.7 L849.0 172.4 L849.5 176.0 L850.0 179.5 L850.5 183.1 L851.0 186.6 L851.5 190.3 L852.0 194.1 L852.5 198.1 L853.0 202.1 L853.5 206.2 L853.9 210.5 L854.4 214.8 L854.9 219.2 L855.4 223.7 L855.9 228.3 L856.3 232.9 L856.8 237.5 L857.3 242.1 L857.8 246.7 L858.2 251.2 L858.7 255.8 L859.2 260.2 L859.7 264.6 L860.2 268.9 L860.6 273.1 L861.1 277.1 L861.6 281.0 L862.1 285.0 L862.6 289.1 L863.1 293.2 L863.6 297.2 L864.1 301.2 L864.5 305.1 L865.0 308.7 L865.5 312.1 L866.0 315.1 L866.5 317.8 L867.0 320.0 L867.5 321.9 L868.0 323.8 L868.4 325.7 L868.9 327.5 L869.4 329.2 L869.9 330.9 L870.4 332.4 L870.8 333.8 L871.3 335.0 L871.8 336.1 L872.3 336.9 L872.7 337.6 L873.2 338.0 L873.7 338.1 L874.2 338.0 L874.7 337.6 L875.2 337.1 L875.6 336.3 L876.1 335.4 L876.6 334.3 L877.1 333.2 L877.6 331.9 L878.1 330.6 L878.5 329.2 L879.0 327.8 L879.5 326.4 L880.0 325.0 L880.5 323.6 L881.0 322.1 L881.4 320.5 L881.9 318.8 L882.4 317.1 L882.9 315.2 L883.3 313.2 L883.8 311.1 L884.3 308.9 L884.8 306.7 L885.2 304.3 L885.7 301.9 L886.2 299.4 L886.6 296.8 L887.1 294.1 L887.6 291.4 L888.1 288.3 L888.6 284.9 L889.1 281.1 L889.6 277.0 L890.1 272.7 L890.6 268.2 L891.1 263.5 L891.6 258.6 L892.1 253.6 L892.6 248.5 L893.0 243.4 L893.5 238.2 L894.0 233.0 L894.5 227.9 L895.0 222.9 L895.5 217.9 L896.0 213.1 L896.5 208.5 L897.0 204.1 L897.5 199.9 L898.0 196.0 L898.5 192.2 L899.0 188.3 L899.5 184.5 L900.0 180.6 L900.5 176.7 L901.0 172.9 L901.5 169.1 L902.0 165.4 L902.5 161.7 L903.0 158.1 L903.5 154.7 L904.0 151.4 L904.5 148.2 L905.0 145.1 L905.5 142.3 L906.0 139.6 L906.5 137.1 L907.0 134.9 L907.5 132.9 L908.0 131.1 L908.5 129.5 L909.0 127.8 L909.5 126.2 L910.0 124.6 L910.5 123.1 L911.0 121.8 L911.5 120.5 L912.0 119.4 L912.5 118.5 L913.0 117.9 L913.5 117.4 L914.0 117.3 L914.5 117.5 L915.0 118.2 L915.5 119.1 L916.0 120.4 L916.5 122.0 L917.0 123.7 L917.4 125.5 L917.9 127.5 L918.4 129.5 L918.9 131.4 L919.4 133.3 L919.9 135.0 L920.4 136.6 L920.9 138.0 L921.4 139.5 L921.8 141.1 L922.3 142.6 L922.8 144.2 L923.3 145.8 L923.8 147.4 L924.2 149.0 L924.7 150.6 L925.2 152.2 L925.7 153.7 L926.2 155.2 L926.6 156.6 L927.1 158.0 L927.6 159.2 L928.1 160.4 L928.6 161.5 L929.0 162.5 L929.5 163.4 L930.0 164.2 L930.5 164.9 L931.0 165.5 L931.5 166.0 L932.0 166.5 L932.4 166.9 L932.9 167.3 L933.4 167.6 L933.9 168.0 L934.4 168.4 L934.9 168.7 L935.4 169.1 L935.9 169.5 L936.3 170.0 L936.8 170.5 L937.3 171.1 L937.8 171.8 L938.3 172.5 L938.8 173.6 L939.2 175.3 L939.7 177.2 L940.2 179.0 L940.6 180.3 L941.1 180.8 L941.6 180.7 L942.1 180.5 L942.6 180.1 L943.1 179.7 L943.5 179.2 L944.0 178.7 L944.5 178.1 L945.0 177.7 L945.5 177.3 L946.0 177.0 L946.5 176.8 L947.0 176.6 L947.5 176.3 L948.0 176.1 L948.5 175.9 L949.0 175.8 L949.5 175.6 L950.0 175.4 L950.5 175.3 L951.0 175.2 L951.5 175.1 L952.0 175.0 L952.5 175.0" stroke="#ff00ff"/>
<path d="M571.5 112.0 L572.0 110.8 L572.4 109.2 L572.9 107.3 L573.3 105.0 L573.8 102.6 L574.2 99.9 L574.6 96.7 L575.0 92.6 L575.5 88.2 L575.9 84.3 L576.3 81.4 L576.8 79.1 L577.2 76.9 L577.7 74.8 L578.1 72.9 L578.6 71.3 L579.0 69.9 L579.5 68.8 L579.9 68.1 L580.4 67.9 L580.9 68.1 L581.3 68.6 L581.8 69.4 L582.3 70.5 L582.8 71.9 L583.2 73.5 L583.7 75.2 L584.2 77.2 L584.6 79.2 L585.1 81.4 L585.6 84.6 L586.1 89.1 L586.6 94.4 L587.1 99.9 L587.5 104.8 L587.9 110.0 L588.4 115.8 L588.8 121.7 L589.3 127.6 L589.7 133.3 L590.2 138.9 L590.6 144.0 L591.1 148.6 L591.6 153.1 L592.1 157.2 L592.6 161.0 L593.1 164.7 L593.6 168.1 L594.0 171.5 L594.5 174.8 L595.0 178.1 L595.5 181.5 L596.0 185.0 L596.5 188.7 L597.0 192.6 L597.5 196.8 L598.0 201.2 L598.5 205.7 L599.0 210.3 L599.5 215.0 L600.0 219.7 L600.5 224.4 L601.0 229.0 L601.5 233.4 L601.9 237.9 L602.4 242.5 L602.9 247.0 L603.4 251.5 L603.8 255.7 L604.3 259.7 L604.8 263.7 L605.3 267.7 L605.8 271.6 L606.3 275.4 L606.8 279.1 L607.2 282.7 L607.7 286.2 L608.2 289.5 L608.7 292.5 L609.2 295.4 L609.7 298.0 L610.2 300.4 L610.7 302.7 L611.1 305.0 L611.6 307.2 L612.1 309.2 L612.6 311.0 L613.0 312.6 L613.5 314.0 L614.0 315.0 L614.5 315.9 L615.0 316.8 L615.5 317.7 L616.0 318.5 L616.5 319.2 L617.0 319.9 L617.5 320.5 L618.0 321.0 L618.5 321.4 L619.0 321.7 L619.5 321.9 L620.0 322.0 L620.5 321.9 L621.0 321.8 L621.5 321.6 L622.0 321.2 L622.5 320.8 L623.0 320.4 L623.5 319.9 L624.0 319.3 L624.5 318.8 L625.0 318.2 L625.5 317.6 L626.0 317.0 L626.5 316.4 L627.0 315.7 L627.5 315.0 L628.0 314.2 L628.5 313.4 L629.0 312.4 L629.5 311.4 L630.0 310.3 L630.5 309.1 L631.0 307.8 L631.5 306.3 L632.0 304.8 L632.5 302.8 L633.0 300.3 L633.5 297.1 L634.0 293.5 L634.5 289.5 L635.0 285.3 L635.5 280.9 L636.0 276.5 L636.5 272.0 L637.0 267.7 L637.5 263.5 L638.0 259.7 L638.5 256.2 L639.0 252.7 L639.5 249.4 L640.0 246.1 L640.5 242.9 L641.0 239.6 L641.5 236.4 L641.9 233.1 L642.4 229.8 L642.9 226.4 L643.4 222.9 L643.9 219.2 L644.4 215.4 L644.9 211.5 L645.4 207.3 L645.9 202.8 L646.4 197.9 L646.9 192.7 L647.4 187.1 L647.8 181.2 L648.3 175.2 L648.8 169.0 L649.3 162.7 L649.8 156.4 L650.3 150.1 L650.8 143.9 L651.3 137.9 L651.8 132.0 L652.2 126.4 L652.7 121.1 L653.2 116.2 L653.7 111.6 L654.2 107.6 L654.7 103.9 L655.2 100.4 L655.6 96.9 L656.1 93.7 L656.6 90.7 L657.0 88.1 L657.5 85.8 L658.0 84.0 L658.5 82.4 L659.0 80.9 L659.4 79.4 L659.9 77.9 L660.4 76.5 L660.9 75.2 L661.4 74.0 L661.9 72.8 L662.3 71.8 L662.8 70.8 L663.3 70.0 L663.8 69.3 L664.3 68.8 L664.7 68.3 L665.2 68.1 L665.7 68.0 L666.2 68.3 L666.7 69.2 L667.1 70.6 L667.6 72.4 L668.1 74.5 L668.6 76.8 L669.0 79.2 L669.5 81.6 L670.0 84.0 L670.5 86.7 L671.0 89.8 L671.5 93.2 L672.0 96.8 L672.5 100.4 L673.0 104.0 L673.5 107.3 L674.0 110.4 L674.5 113.7 L675.0 117.0 L675.4 120.3 L675.9 123.7 L676.4 127.1 L676.9 130.5 L677.4 133.9 L677.9 137.2 L678.3 140.4 L678.8 143.6 L679.3 146.6 L679.8 149.5 L680.3 152.2 L680.8 154.7 L681.2 157.1 L681.7 159.2 L682.2 161.1 L682.7 162.7 L683.2 164.2 L683.7 165.6 L684.2 166.9 L684.6 168.2 L685.1 169.4 L685.6 170.6 L686.1 171.7 L686.6 172.7 L687.1 173.7 L687.6 174.6 L688.1 175.4 L688.5 176.2 L689.0 176.9 L689.5 177.5 L690.0 178.0 L690.5 178.5 L691.0 178.9 L691.5 179.4 L691.9 179.9 L692.4 180.3 L692.9 180.7 L693.4 181.1 L693.9 181.4 L694.4 181.7 L694.9 182.0 L695.4 182.3 L695.8 182.4 L696.3 182.6 L696.8 182.7 L697.3 182.7 L697.8 182.2 L698.2 180.9 L698.7 178.8 L699.1 176.3 L699.6 173.5 L700.1 170.6 L700.5 167.7 L701.0 165.0 L701.5 162.3 L701.9 159.4 L702.4 156.2 L702.9 152.9 L703.3 149.5 L703.8 146.2 L704.2 143.0 L704.7 140.1 L705.2 137.4 L705.6 135.2 L706.1 133.4 L706.6 131.9 L707.1 130.4 L707.6 129.0 L708.1 127.7 L708.6 126.4 L709.0 125.3 L709.5 124.1 L710.0 123.1 L710.5 122.1 L711.0 121.1 L711.5 120.2 L712.0 119.3 L712.5 118.4 L713.0 117.6 L713.5 116.8 L714.0 116.0 L714.5 115.3 L715.0 114.5 L715.4 113.7 L715.9 113.0 L716.4 112.2 L716.9 111.5 L717.4 110.7 L717.9 109.9 L718.4 109.1 L718.9 108.2 L719.4 107.4 L719.9 106.5 L720.3 105.6 L720.8 104.7 L721.3 103.8 L721.8 102.9 L722.3 102.0 L722.8 101.1 L723.3 100.2 L723.8 99.4 L724.2 98.6 L724.7 97.9 L725.2 97.1 L725.7 96.5 L726.2 95.9 L726.7 95.3 L727.2 94.9 L727.6 94.5 L728.1 94.1 L728.6 93.9 L729.1 93.8 L729.6 93.7 L730.1 93.9 L730.6 94.6 L731.1 95.7 L731.6 97.1 L732.1 98.8 L732.5 100.8 L733.0 103.1 L733.5 105.5 L734.0 108.1 L734.5 110.8 L735.0 113.6 L735.5 116.4 L736.0 119.3 L736.5 122.1 L737.0 124.8 L737.5 127.4 L738.0 129.8 L738.5 132.1 L738.9 134.1 L739.4 135.8 L739.9 137.2 L740.4 138.3 L740.9 139.0 L741.4 139.2 L741.9 139.2 L742.4 139.2 L742.9 139.2 L743.3 139.2 L743.8 139.2 L744.3 139.2 L744.8 139.2 L745.3 139.2 L745.8 139.2 L746.2 139.2 L746.7 139.2 L747.2 139.2 L747.7 139.1 L748.2 138.9 L748.7 138.5 L749.2 138.0 L749.6 137.4 L750.1 136.7 L750.6 136.0 L751.1 135.1 L751.6 134.2 L752.1 133.3 L752.6 132.3 L753.0 131.3 L753.5 130.3 L754.0 129.4 L754.5 128.4 L755.0 127.5 L755.5 126.6 L756.0 125.5 L756.5 124.5 L757.0 123.3 L757.5 122.2 L758.0 121.0 L758.5 119.9 L759.0 118.7 L759.5 117.6 L760.0 116.5 L760.4 115.4 L760.9 114.3 L761.4 113.2 L761.9 112.1 L762.3 110.9 L762.8 109.6 L763.3 108.3 L763.8 107.0 L764.2 105.7 L764.7 104.5 L765.2 103.2 L765.7 101.8 L766.1 100.4 L766.6 98.8 L767.1 97.1 L767.6 95.2 L768.0 93.1 L768.5 90.7 L769.0 86.7 L769.5 80.9 L769.9 74.8 L770.4 70.0 L770.9 68.0 L771.4 68.2 L771.8 68.7 L772.3 69.5 L772.8 70.6 L773.2 71.9 L773.7 73.5 L774.2 75.3 L774.7 77.2 L775.1 79.2 L775.6 81.4 L776.1 84.6 L776.6 89.1 L777.1 94.4 L777.6 99.9 L778.0 104.8 L778.4 110.0 L778.9 115.8 L779.3 121.7 L779.8 127.6 L780.2 133.3 L780.7 138.9 L781.1 144.0 L781.6 148.6 L782.1 153.1 L782.6 157.2 L783.1 161.0 L783.6 164.7 L784.1 168.1 L784.5 171.5 L785.0 174.8 L785.5 178.1 L786.0 181.5 L786.5 185.0 L787.0 188.7 L787.5 192.6 L788.0 196.8 L788.5 201.2 L789.0 205.7 L789.5 210.3 L790.0 215.0 L790.5 219.7 L791.0 224.4 L791.5 229.0 L792.0 233.4 L792.4 237.9 L792.9 242.5 L793.4 247.0 L793.9 251.5 L794.3 255.7 L794.8 259.7 L795.3 263.7 L795.8 267.7 L796.3 271.6 L796.8 275.4 L797.3 279.1 L797.7 282.7 L798.2 286.2 L798.7 289.5 L799.2 292.5 L799.7 295.4 L800.2 298.0 L800.7 300.4 L801.2 302.7 L801.6 305.0 L802.1 307.2 L802.6 309.2 L803.1 311.0 L803.5 312.6 L804.0 314.0 L804.5 315.0 L805.0 315.9 L805.5 316.8 L806.0 317.7 L806.5 318.5 L807.0 319.2 L807.5 319.9 L808.0 320.5 L808.5 321.0 L809.0 321.4 L809.5 321.7 L810.0 321.9 L810.5 322.0 L811.0 321.9 L811.5 321.8 L812.0 321.6 L812.5 321.2 L813.0 320.8 L813.5 320.4 L814.0 319.9 L814.5 319.3 L815.0 318.8 L815.5 318.2 L816.0 317.6 L816.5 317.0 L817.0 316.4 L817.5 315.7 L818.0 315.0 L818.5 314.2 L819.0 313.4 L819.5 312.4 L820.0 311.4 L820.5 310.3 L821.0 309.1 L821.5 307.8 L822.0 306.3 L822.5 304.8 L823.0 302.8 L823.5 300.3 L824.0 297.1 L824.5 293.5 L825.0 289.5 L825.5 285.3 L826.0 280.9 L826.5 276.5 L827.0 272.0 L827.5 267.7 L828.0 263.5 L828.5 259.7 L829.0 256.2 L829.5 252.7 L830.0 249.4 L830.5 246.1 L831.0 242.9 L831.5 239.6 L832.0 236.4 L832.4 233.1 L832.9 229.8 L833.4 226.4 L833.9 222.9 L834.4 219.2 L834.9 215.4 L835.4 211.5 L835.9 207.3 L836.4 202.8 L836.9 197.9 L837.4 192.7 L837.9 187.1 L838.3 181.2 L838.8 175.2 L839.3 169.0 L839.8 162.7 L840.3 156.4 L840.8 150.1 L841.3 143.9 L841.8 137.9 L842.3 132.0 L842.7 126.4 L843.2 121.1 L843.7 116.2 L844.2 111.6 L844.7 107.6 L845.2 103.9 L845.7 100.4 L846.1 96.9 L846.6 93.7 L847.1 90.7 L847.5 88.1 L848.0 85.8 L848.5 84.0 L849.0 82.4 L849.5 80.9 L849.9 79.4 L850.4 77.9 L850.9 76.5 L851.4 75.2 L851.9 74.0 L852.4 72.8 L852.8 71.8 L853.3 70.8 L853.8 70.0 L854.3 69.3 L854.8 68.8 L855.2 68.3 L855.7 68.1 L856.2 68.0 L856.7 68.3 L857.2 69.2 L857.6 70.6 L858.1 72.4 L858.6 74.5 L859.1 76.8 L859.5 79.2 L860.0 81.6 L860.5 84.0 L861.0 86.7 L861.5 89.8 L862.0 93.2 L862.5 96.8 L863.0 100.4 L863.5 104.0 L864.0 107.3 L864.5 110.4 L865.0 113.7 L865.5 117.0 L865.9 120.3 L866.4 123.7 L866.9 127.1 L867.4 130.5 L867.9 133.9 L868.4 137.2 L868.8 140.4 L869.3 143.6 L869.8 146.6 L870.3 149.5 L870.8 152.2 L871.3 154.7 L871.7 157.1 L872.2 159.2 L872.7 161.1 L873.2 162.7 L873.7 164.2 L874.2 165.6 L874.7 166.9 L875.1 168.2 L875.6 169.4 L876.1 170.6 L876.6 171.7 L877.1 172.7 L877.6 173.7 L878.1 174.6 L878.6 175.4 L879.0 176.2 L879.5 176.9 L880.0 177.5 L880.5 178.0 L881.0 178.5 L881.5 178.9 L882.0 179.4 L882.4 179.9 L882.9 180.3 L883.4 180.7 L883.9 181.1 L884.4 181.4 L884.9 181.7 L885.4 182.0 L885.9 182.3 L886.3 182.4 L886.8 182.6 L887.3 182.7 L887.8 182.7 L888.3 182.2 L888.7 180.9 L889.2 178.8 L889.6 176.3 L890.1 173.5 L890.6 170.6 L891.0 167.7 L891.5 165.0 L892.0 162.3 L892.4 159.4 L892.9 156.2 L893.4 152.9 L893.8 149.5 L894.3 146.2 L894.7 143.0 L895.2 140.1 L895.7 137.4 L896.1 135.2 L896.6 133.4 L897.1 131.9 L897.6 130.4 L898.1 129.0 L898.6 127.7 L899.1 126.4 L899.5 125.3 L900.0 124.1 L900.5 123.1 L901.0 122.1 L901.5 121.1 L902.0 120.2 L902.5 119.3 L903.0 118.4 L903.5 117.6 L904.0 116.8 L904.5 116.0 L905.0 115.3 L905.5 114.5 L905.9 113.7 L906.4 113.0 L906.9 112.2 L907.4 111.5 L907.9 110.7 L908.4 109.9 L908.9 109.1 L909.4 108.2 L909.9 107.4 L910.4 106.5 L910.8 105.6 L911.3 104.7 L911.8 103.8 L912.3 102.9 L912.8 102.0 L913.3 101.1 L913.8 100.2 L914.2 99.4 L914.7 98.6 L915.2 97.9 L915.7 97.1 L916.2 96.5 L916.7 95.9 L917.2 95.3 L917.7 94.9 L918.1 94.5 L918.6 94.1 L919.1 93.9 L919.6 93.8 L920.1 93.7 L920.6 93.9 L921.1 94.6 L921.6 95.7 L922.1 97.1 L922.6 98.8 L923.0 100.8 L923.5 103.1 L924.0 105.5 L924.5 108.1 L925.0 110.8 L925.5 113.6 L926.0 116.4 L926.5 119.3 L927.0 122.1 L927.5 124.8 L928.0 127.4 L928.5 129.8 L929.0 132.1 L929.4 134.1 L929.9 135.8 L930.4 137.2 L930.9 138.3 L931.4 139.0 L931.9 139.2 L932.4 139.2 L932.9 139.2 L933.4 139.2 L933.8 139.2 L934.3 139.2 L934.8 139.2 L935.3 139.2 L935.8 139.2 L936.2 139.2 L936.7 139.2 L937.2 139.2 L937.7 139.2 L938.2 139.1 L938.7 138.9 L939.2 138.5 L939.7 138.0 L940.1 137.4 L940.6 136.7 L941.1 135.9 L941.6 135.1 L942.1 134.1 L942.6 133.2 L943.1 132.2 L943.5 131.2 L944.0 130.3 L944.5 129.3 L945.0 128.4 L945.5 127.5 L946.0 126.6 L946.5 125.7 L947.0 124.8 L947.5 123.8 L948.0 122.8 L948.5 121.8 L949.0 120.8 L949.5 119.7 L950.0 118.6 L950.5 117.6 L951.0 116.4 L951.5 115.3 L952.0 114.2 L952.5 113.0" stroke="#00ff00"/>
<path d="M571.5 88.0 L571.9 87.2 L572.3 86.4 L572.7 85.5 L573.2 84.2 L573.7 82.7 L574.1 81.0 L574.6 79.1 L575.1 77.2 L575.6 75.3 L576.0 73.4 L576.5 71.7 L577.0 70.1 L577.5 68.8 L577.9 67.8 L578.4 67.1 L578.9 66.9 L579.4 67.3 L579.8 68.3 L580.2 69.8 L580.7 71.8 L581.1 74.1 L581.6 76.5 L582.0 79.0 L582.5 81.4 L582.9 83.8 L583.4 86.6 L583.8 90.0 L584.2 94.4 L584.6 99.9 L584.9 104.8 L585.2 110.0 L585.6 117.4 L586.1 124.6 L586.5 130.0 L587.0 133.7 L587.4 136.5 L587.9 138.9 L588.3 141.1 L588.8 143.2 L589.2 145.7 L589.7 148.6 L590.2 152.3 L590.7 156.5 L591.2 161.0 L591.6 165.8 L592.1 170.8 L592.6 176.0 L593.1 181.3 L593.6 186.7 L594.0 192.0 L594.5 197.3 L595.0 202.4 L595.5 207.3 L596.0 212.0 L596.5 216.8 L596.9 221.6 L597.4 226.4 L597.9 231.0 L598.3 235.6 L598.8 239.9 L599.3 244.0 L599.7 247.4 L600.1 250.5 L600.6 253.6 L601.0 256.6 L601.4 259.7 L601.9 263.4 L602.4 267.3 L602.9 271.3 L603.4 275.4 L603.8 279.6 L604.3 283.8 L604.8 287.9 L605.3 292.0 L605.8 296.1 L606.3 300.0 L606.8 303.8 L607.3 307.5 L607.7 310.9 L608.2 314.1 L608.7 317.0 L609.2 319.7 L609.7 322.0 L610.2 324.0 L610.6 326.0 L611.1 327.8 L611.6 329.4 L612.1 330.9 L612.5 332.1 L613.0 333.0 L613.5 333.8 L614.0 334.6 L614.4 335.3 L614.9 336.0 L615.4 336.6 L615.9 337.2 L616.4 337.7 L616.9 338.1 L617.3 338.4 L617.8 338.5 L618.3 338.6 L618.8 338.5 L619.2 338.4 L619.7 338.1 L620.2 337.8 L620.6 337.4 L621.1 337.0 L621.6 336.5 L622.1 336.0 L622.5 335.5 L623.0 335.0 L623.5 334.5 L623.9 333.9 L624.4 333.3 L624.9 332.7 L625.3 332.0 L625.8 331.2 L626.3 330.4 L626.7 329.6 L627.2 328.7 L627.7 327.7 L628.1 326.6 L628.6 325.5 L629.1 324.2 L629.6 322.6 L630.0 320.8 L630.5 318.8 L631.0 316.6 L631.5 314.2 L631.9 311.6 L632.4 309.0 L632.9 306.2 L633.4 303.4 L633.9 300.5 L634.3 297.6 L634.8 294.7 L635.3 291.8 L635.8 288.9 L636.2 286.1 L636.7 283.3 L637.2 280.7 L637.7 278.2 L638.2 275.7 L638.6 273.3 L639.1 270.8 L639.6 268.3 L640.0 265.6 L640.5 262.8 L641.0 259.7 L641.5 256.3 L642.0 252.7 L642.5 248.8 L642.9 244.8 L643.4 240.6 L643.9 236.2 L644.4 231.7 L644.9 227.1 L645.4 222.3 L645.9 217.5 L646.4 212.6 L646.8 207.6 L647.3 202.6 L647.8 197.6 L648.3 192.6 L648.8 187.4 L649.3 181.8 L649.8 175.9 L650.2 169.8 L650.7 163.5 L651.2 157.2 L651.7 150.8 L652.2 144.5 L652.7 138.3 L653.2 132.2 L653.7 126.5 L654.1 121.1 L654.6 116.1 L655.1 111.6 L655.6 107.6 L656.1 104.0 L656.6 100.5 L657.1 97.1 L657.6 94.0 L658.0 91.1 L658.5 88.4 L659.0 85.9 L659.5 83.8 L660.0 82.0 L660.5 80.3 L661.0 78.6 L661.5 77.0 L662.0 75.5 L662.5 74.0 L663.0 72.8 L663.5 71.8 L664.0 71.0 L664.5 70.5 L665.0 70.3 L665.5 70.5 L666.0 71.1 L666.5 72.1 L667.0 73.3 L667.5 74.9 L668.0 76.6 L668.5 78.5 L669.0 80.6 L669.5 82.8 L670.0 85.0 L670.5 87.9 L671.0 91.9 L671.5 96.6 L672.0 101.6 L672.5 106.4 L673.0 110.7 L673.5 114.1 L674.0 116.6 L674.5 118.8 L675.0 120.7 L675.5 122.5 L675.9 124.2 L676.4 126.0 L676.9 127.9 L677.4 130.0 L677.9 132.4 L678.3 135.2 L678.8 137.9 L679.2 140.4 L679.7 142.2 L680.2 143.7 L680.7 145.0 L681.2 146.3 L681.7 147.5 L682.1 148.6 L682.6 149.7 L683.1 150.7 L683.6 151.6 L684.1 152.5 L684.6 153.3 L685.1 154.1 L685.6 154.8 L686.0 155.5 L686.5 156.2 L687.0 156.8 L687.5 157.4 L688.0 158.0 L688.5 158.6 L689.0 159.2 L689.5 159.8 L690.0 160.4 L690.5 161.0 L691.0 161.6 L691.5 162.2 L692.0 162.7 L692.4 163.2 L692.9 163.6 L693.4 164.0 L693.9 164.4 L694.4 164.6 L694.9 164.8 L695.4 165.0 L695.9 165.0 L696.4 164.8 L696.9 164.3 L697.4 163.4 L697.8 162.3 L698.3 160.9 L698.8 159.3 L699.3 157.6 L699.8 155.7 L700.3 153.8 L700.8 151.8 L701.3 149.7 L701.7 147.7 L702.2 145.8 L702.7 143.9 L703.2 142.2 L703.7 140.5 L704.2 138.7 L704.7 136.8 L705.2 134.9 L705.6 132.9 L706.1 130.8 L706.6 128.8 L707.1 126.7 L707.6 124.7 L708.1 122.7 L708.6 120.8 L709.1 118.9 L709.6 117.1 L710.0 115.4 L710.5 113.8 L711.0 112.3 L711.5 111.0 L712.0 109.9 L712.5 108.9 L713.0 107.8 L713.5 106.8 L714.0 105.7 L714.4 104.7 L714.9 103.7 L715.4 102.7 L715.9 101.7 L716.4 100.7 L716.9 99.7 L717.4 98.8 L717.9 97.8 L718.4 96.9 L718.8 96.0 L719.3 95.2 L719.8 94.3 L720.3 93.5 L720.8 92.7 L721.3 92.0 L721.8 91.2 L722.3 90.5 L722.8 89.9 L723.2 89.2 L723.7 88.7 L724.2 88.1 L724.7 87.6 L725.2 87.1 L725.7 86.7 L726.2 86.3 L726.7 86.0 L727.2 85.7 L727.6 85.4 L728.1 85.2 L728.6 85.1 L729.1 85.0 L729.6 85.0 L730.1 85.3 L730.6 86.3 L731.1 87.7 L731.6 89.6 L732.0 91.9 L732.5 94.5 L733.0 97.3 L733.5 100.3 L734.0 103.3 L734.5 106.3 L735.0 109.3 L735.5 112.1 L736.0 114.7 L736.4 117.0 L736.9 118.9 L737.4 120.3 L737.9 121.3 L738.4 121.6 L738.9 121.6 L739.4 121.5 L739.9 121.3 L740.4 121.0 L740.9 120.7 L741.3 120.4 L741.8 120.0 L742.3 119.5 L742.8 119.1 L743.3 118.6 L743.8 118.0 L744.3 117.5 L744.8 116.9 L745.3 116.3 L745.8 115.8 L746.2 115.2 L746.7 114.6 L747.2 114.0 L747.7 113.5 L748.2 112.9 L748.7 112.4 L749.2 112.0 L749.7 111.5 L750.2 111.1 L750.6 110.8 L751.1 110.5 L751.6 110.2 L752.1 110.0 L752.6 109.9 L753.1 109.9 L753.1 109.9 L753.1 109.9 L753.6 109.8 L754.1 109.6 L754.5 109.2 L755.0 108.6 L755.5 108.0 L755.9 107.3 L756.4 106.5 L756.9 105.6 L757.3 104.7 L757.8 103.8 L758.3 102.9 L758.7 102.0 L759.2 101.1 L759.7 100.2 L760.1 99.3 L760.6 98.3 L761.1 97.3 L761.6 96.3 L762.0 95.2 L762.5 94.0 L763.0 92.8 L763.5 91.5 L763.9 90.1 L764.4 88.7 L764.8 87.2 L765.3 85.4 L765.7 83.5 L766.2 81.5 L766.6 79.5 L767.1 77.7 L767.5 76.0 L768.0 74.2 L768.4 72.4 L768.9 70.5 L769.4 69.0 L769.8 67.9 L770.3 67.5 L770.7 67.9 L771.2 69.1 L771.6 70.9 L772.1 72.9 L772.5 75.0 L772.9 77.5 L773.4 80.7 L773.8 84.3 L774.3 88.1 L774.7 91.7 L775.2 95.6 L775.7 99.6 L776.2 103.7 L776.7 107.9 L777.2 112.4 L777.6 116.3 L778.1 120.1 L778.5 124.0 L778.9 128.5 L779.4 133.6 L779.8 139.8 L780.0 144.2 L780.2 148.6 L780.7 155.7 L781.2 162.0 L781.7 167.8 L782.1 172.9 L782.6 177.7 L783.1 182.1 L783.6 186.2 L784.1 190.3 L784.5 194.3 L785.0 198.4 L785.5 202.7 L786.0 207.3 L786.5 212.0 L787.0 216.8 L787.4 221.6 L787.9 226.4 L788.4 231.0 L788.8 235.6 L789.3 239.9 L789.8 244.0 L790.2 247.4 L790.6 250.5 L791.1 253.6 L791.5 256.6 L791.9 259.7 L792.4 263.4 L792.9 267.3 L793.4 271.3 L793.9 275.4 L794.3 279.6 L794.8 283.8 L795.3 287.9 L795.8 292.0 L796.3 296.1 L796.8 300.0 L797.3 303.8 L797.8 307.5 L798.2 310.9 L798.7 314.1 L799.2 317.0 L799.7 319.7 L800.2 322.0 L800.7 324.0 L801.1 326.0 L801.6 327.8 L802.1 329.4 L802.6 330.9 L803.0 332.1 L803.5 333.0 L804.0 333.8 L804.5 334.6 L804.9 335.3 L805.4 336.0 L805.9 336.6 L806.4 337.2 L806.9 337.7 L807.4 338.1 L807.8 338.4 L808.3 338.5 L808.8 338.6 L809.3 338.5 L809.7 338.4 L810.2 338.1 L810.7 337.8 L811.1 337.4 L811.6 337.0 L812.1 336.5 L812.6 336.0 L813.0 335.5 L813.5 335.0 L814.0 334.5 L814.4 333.9 L814.9 333.3 L815.4 332.7 L815.8 332.0 L816.3 331.2 L816.8 330.4 L817.2 329.6 L817.7 328.7 L818.2 327.7 L818.6 326.6 L819.1 325.5 L819.6 324.2 L820.1 322.6 L820.5 320.8 L821.0 318.8 L821.5 316.6 L822.0 314.2 L822.4 311.6 L822.9 309.0 L823.4 306.2 L823.9 303.4 L824.4 300.5 L824.8 297.6 L825.3 294.7 L825.8 291.8 L826.3 288.9 L826.7 286.1 L827.2 283.3 L827.7 280.7 L828.2 278.2 L828.7 275.7 L829.1 273.3 L829.6 270.8 L830.1 268.3 L830.5 265.6 L831.0 262.8 L831.5 259.7 L832.0 256.3 L832.5 252.7 L833.0 248.8 L833.4 244.8 L833.9 240.6 L834.4 236.2 L834.9 231.7 L835.4 227.1 L835.9 222.3 L836.4 217.5 L836.9 212.6 L837.3 207.6 L837.8 202.6 L838.3 197.6 L838.8 192.6 L839.3 187.4 L839.8 181.8 L840.3 175.9 L840.7 169.8 L841.2 163.5 L841.7 157.2 L842.2 150.8 L842.7 144.5 L843.2 138.3 L843.7 132.2 L844.2 126.5 L844.6 121.1 L845.1 116.1 L845.6 111.6 L846.1 107.6 L846.6 104.0 L847.1 100.5 L847.6 97.1 L848.1 94.0 L848.5 91.1 L849.0 88.4 L849.5 85.9 L850.0 83.8 L850.5 82.0 L851.0 80.3 L851.5 78.6 L852.0 77.0 L852.5 75.5 L853.0 74.0 L853.5 72.8 L854.0 71.8 L854.5 71.0 L855.0 70.5 L855.5 70.3 L856.0 70.5 L856.5 71.1 L857.0 72.1 L857.5 73.3 L858.0 74.9 L858.5 76.6 L859.0 78.5 L859.5 80.6 L860.0 82.8 L860.5 85.0 L861.0 87.9 L861.5 91.9 L862.0 96.6 L862.5 101.6 L863.0 106.4 L863.5 110.7 L864.0 114.1 L864.5 116.6 L865.0 118.8 L865.5 120.7 L866.0 122.5 L866.4 124.2 L866.9 126.0 L867.4 127.9 L867.9 130.0 L868.4 132.4 L868.8 135.2 L869.3 137.9 L869.7 140.4 L870.2 142.2 L870.7 143.7 L871.2 145.0 L871.7 146.3 L872.2 147.5 L872.6 148.6 L873.1 149.7 L873.6 150.7 L874.1 151.6 L874.6 152.5 L875.1 153.3 L875.6 154.1 L876.1 154.8 L876.5 155.5 L877.0 156.2 L877.5 156.8 L878.0 157.4 L878.5 158.0 L879.0 158.6 L879.5 159.2 L880.0 159.8 L880.5 160.4 L881.0 161.0 L881.5 161.6 L882.0 162.2 L882.5 162.7 L882.9 163.2 L883.4 163.6 L883.9 164.0 L884.4 164.4 L884.9 164.6 L885.4 164.8 L885.9 165.0 L886.4 165.0 L886.9 164.8 L887.4 164.3 L887.9 163.4 L888.3 162.3 L888.8 160.9 L889.3 159.3 L889.8 157.6 L890.3 155.7 L890.8 153.8 L891.3 151.8 L891.8 149.7 L892.2 147.7 L892.7 145.8 L893.2 143.9 L893.7 142.2 L894.2 140.5 L894.7 138.7 L895.2 136.8 L895.7 134.9 L896.1 132.9 L896.6 130.8 L897.1 128.8 L897.6 126.7 L898.1 124.7 L898.6 122.7 L899.1 120.8 L899.6 118.9 L900.1 117.1 L900.5 115.4 L901.0 113.8 L901.5 112.3 L902.0 111.0 L902.5 109.9 L903.0 108.9 L903.5 107.8 L904.0 106.8 L904.5 105.7 L904.9 104.7 L905.4 103.7 L905.9 102.7 L906.4 101.7 L906.9 100.7 L907.4 99.7 L907.9 98.8 L908.4 97.8 L908.9 96.9 L909.3 96.0 L909.8 95.2 L910.3 94.3 L910.8 93.5 L911.3 92.7 L911.8 92.0 L912.3 91.2 L912.8 90.5 L913.3 89.9 L913.7 89.2 L914.2 88.7 L914.7 88.1 L915.2 87.6 L915.7 87.1 L916.2 86.7 L916.7 86.3 L917.2 86.0 L917.7 85.7 L918.1 85.4 L918.6 85.2 L919.1 85.1 L919.6 85.0 L920.1 85.0 L920.6 85.3 L921.1 86.3 L921.6 87.7 L922.1 89.6 L922.5 91.9 L923.0 94.5 L923.5 97.3 L924.0 100.3 L924.5 103.3 L925.0 106.3 L925.5 109.3 L926.0 112.1 L926.5 114.7 L926.9 117.0 L927.4 118.9 L927.9 120.3 L928.4 121.3 L928.9 121.6 L929.4 121.6 L929.9 121.5 L930.4 121.4 L930.9 121.3 L931.4 121.2 L931.8 121.0 L932.3 120.8 L932.8 120.5 L933.3 120.2 L933.8 119.9 L934.3 119.6 L934.8 119.3 L935.3 118.9 L935.8 118.5 L936.2 118.1 L936.7 117.6 L937.2 117.2 L937.7 116.7 L938.2 116.2 L938.7 115.7 L939.2 115.1 L939.7 114.6 L940.2 114.0 L940.7 113.5 L941.1 112.9 L941.6 112.3 L942.1 111.7 L942.6 111.1 L943.1 110.5 L943.6 109.9 L944.1 109.2 L944.6 108.5 L945.1 107.6 L945.6 106.7 L946.1 105.7 L946.6 104.6 L947.1 103.5 L947.6 102.3 L948.0 101.0 L948.5 99.7 L949.0 98.3 L949.5 96.9 L950.0 95.5 L950.5 94.0 L951.0 92.5 L951.5 91.0 L952.0 89.5 L952.5 88.0" stroke="#0000ff"/>
<path d="M571.5 88.0 L572.0 84.5 L572.5 81.1 L573.0 77.9 L573.5 74.9 L574.0 72.2 L574.5 69.9 L575.0 68.0 L575.5 66.3 L576.0 64.7 L576.5 63.1 L577.0 61.6 L577.5 60.2 L578.0 59.0 L578.5 58.0 L579.0 57.3 L579.5 56.8 L580.0 56.6 L580.5 56.9 L580.9 57.7 L581.4 58.9 L581.8 60.5 L582.3 62.4 L582.8 64.5 L583.2 66.7 L583.7 68.9 L584.1 71.0 L584.6 73.1 L585.1 75.0 L585.5 77.0 L586.0 79.0 L586.4 81.1 L586.9 83.4 L587.3 85.9 L587.8 88.7 L588.2 91.7 L588.7 95.5 L589.1 100.1 L589.5 105.1 L590.0 110.0 L590.5 115.0 L590.9 120.3 L591.3 125.4 L591.8 130.0 L592.3 134.2 L592.7 138.2 L593.2 141.9 L593.6 145.3 L594.1 148.6 L594.6 151.8 L595.1 154.9 L595.6 157.8 L596.0 160.6 L596.5 163.2 L597.0 165.8 L597.5 168.3 L598.0 170.8 L598.5 173.3 L599.0 175.8 L599.5 178.4 L599.9 181.1 L600.4 183.8 L600.9 186.7 L601.4 189.7 L601.9 192.9 L602.4 196.2 L602.9 199.7 L603.3 203.3 L603.8 207.0 L604.3 210.7 L604.8 214.4 L605.3 218.1 L605.8 221.7 L606.2 225.3 L606.7 228.7 L607.2 232.0 L607.7 235.4 L608.2 238.9 L608.7 242.6 L609.2 246.3 L609.7 250.0 L610.2 253.5 L610.6 256.9 L611.1 259.9 L611.6 262.7 L612.1 265.0 L612.6 266.8 L613.1 268.0 L613.6 268.9 L614.1 269.8 L614.6 270.6 L615.1 271.4 L615.6 272.1 L616.1 272.8 L616.5 273.4 L617.0 273.9 L617.5 274.4 L618.0 274.8 L618.5 275.1 L619.0 275.3 L619.5 275.5 L620.0 275.5 L620.5 275.5 L621.0 275.4 L621.5 275.2 L622.0 274.9 L622.5 274.6 L622.9 274.3 L623.4 273.8 L623.9 273.4 L624.4 272.8 L624.9 272.3 L625.4 271.6 L625.9 271.0 L626.4 270.2 L626.9 269.5 L627.4 268.7 L627.8 267.9 L628.3 267.0 L628.8 266.2 L629.3 265.3 L629.8 264.3 L630.3 263.4 L630.8 262.3 L631.2 261.0 L631.7 259.4 L632.2 257.6 L632.6 255.7 L633.1 253.6 L633.6 251.5 L634.1 249.3 L634.5 247.1 L635.0 245.0 L635.5 242.7 L636.0 240.4 L636.5 238.1 L637.0 235.6 L637.5 233.1 L638.0 230.4 L638.5 227.7 L639.0 224.9 L639.5 221.9 L640.0 218.9 L640.5 215.7 L641.0 212.4 L641.5 208.9 L642.0 205.3 L642.5 201.7 L642.9 197.9 L643.4 194.1 L643.9 190.1 L644.4 186.1 L644.9 182.1 L645.4 178.0 L645.9 173.8 L646.4 169.3 L646.9 164.7 L647.3 159.9 L647.8 154.9 L648.3 149.9 L648.8 144.9 L649.3 139.8 L649.8 134.8 L650.3 129.8 L650.8 125.0 L651.2 120.3 L651.7 115.8 L652.2 111.6 L652.7 107.6 L653.2 103.7 L653.7 99.9 L654.2 96.3 L654.7 92.7 L655.2 89.3 L655.7 86.1 L656.2 83.2 L656.7 80.4 L657.2 77.9 L657.7 75.4 L658.1 72.9 L658.6 70.6 L659.1 68.5 L659.5 66.6 L660.0 65.1 L660.5 64.0 L661.0 63.1 L661.4 62.3 L661.9 61.5 L662.4 60.8 L662.9 60.1 L663.3 59.5 L663.8 59.0 L664.3 58.6 L664.8 58.3 L665.2 58.1 L665.7 58.0 L666.2 58.2 L666.7 58.9 L667.1 59.9 L667.6 61.2 L668.1 62.8 L668.6 64.5 L669.0 66.3 L669.5 68.2 L670.0 70.0 L670.5 72.1 L671.0 74.6 L671.5 77.4 L672.0 80.4 L672.5 83.5 L673.0 86.5 L673.5 89.4 L673.9 91.9 L674.4 94.6 L674.8 97.3 L675.2 99.9 L675.7 102.1 L676.1 104.0 L676.6 105.8 L677.1 107.6 L677.6 109.2 L678.1 110.8 L678.6 112.4 L679.1 113.9 L679.6 115.3 L680.1 116.6 L680.6 117.9 L681.1 119.1 L681.6 120.3 L682.1 121.4 L682.6 122.4 L683.1 123.4 L683.6 124.3 L684.1 125.2 L684.6 126.0 L685.1 126.8 L685.6 127.5 L686.1 128.2 L686.6 128.9 L687.1 129.5 L687.5 130.2 L688.0 130.9 L688.5 131.5 L689.0 132.2 L689.5 132.8 L690.0 133.4 L690.5 134.0 L691.0 134.5 L691.5 135.1 L691.9 135.6 L692.4 136.1 L692.9 136.5 L693.4 136.9 L693.9 137.3 L694.4 137.6 L694.9 137.9 L695.3 138.2 L695.8 138.3 L696.3 138.5 L696.8 138.6 L697.3 138.6 L697.8 138.3 L698.3 137.6 L698.8 136.4 L699.3 134.9 L699.8 133.2 L700.2 131.2 L700.7 129.1 L701.2 126.9 L701.7 124.7 L702.2 122.5 L702.7 120.5 L703.2 118.7 L703.7 116.9 L704.2 115.0 L704.7 113.0 L705.2 110.9 L705.7 108.8 L706.2 106.7 L706.6 104.8 L707.1 103.0 L707.6 101.3 L708.1 100.0 L708.6 98.9 L709.1 98.1 L709.6 97.6 L710.1 97.1 L710.6 96.6 L711.1 96.2 L711.5 95.9 L712.0 95.5 L712.5 95.2 L713.0 95.0 L713.5 94.7 L714.0 94.4 L714.5 94.2 L715.0 94.0 L715.5 93.7 L715.9 93.5 L716.4 93.2 L716.9 92.9 L717.4 92.6 L717.9 92.3 L718.4 91.9 L718.9 91.6 L719.4 91.1 L719.9 90.7 L720.3 90.2 L720.8 89.8 L721.3 89.3 L721.8 88.8 L722.3 88.3 L722.8 87.8 L723.3 87.3 L723.8 86.9 L724.2 86.4 L724.7 86.0 L725.2 85.6 L725.7 85.2 L726.2 84.8 L726.7 84.5 L727.2 84.2 L727.6 84.0 L728.1 83.8 L728.6 83.6 L729.1 83.5 L729.6 83.5 L730.1 83.8 L730.6 84.7 L731.1 86.0 L731.6 87.8 L732.0 89.9 L732.5 92.2 L733.0 94.8 L733.5 97.6 L734.0 100.3 L734.5 103.1 L735.0 105.9 L735.5 108.5 L736.0 110.8 L736.4 112.9 L736.9 114.7 L737.4 116.0 L737.9 116.9 L738.4 117.2 L738.9 117.2 L739.4 117.1 L739.9 117.0 L740.4 116.8 L740.9 116.6 L741.3 116.3 L741.8 116.0 L742.3 115.6 L742.8 115.2 L743.3 114.8 L743.8 114.4 L744.3 113.9 L744.8 113.4 L745.3 112.9 L745.8 112.4 L746.2 111.8 L746.7 111.3 L747.2 110.7 L747.7 110.1 L748.2 109.5 L748.7 108.9 L749.2 108.4 L749.7 107.8 L750.2 107.2 L750.6 106.6 L751.1 106.1 L751.6 105.5 L752.1 105.0 L752.6 104.5 L753.1 104.0 L753.6 103.5 L754.1 103.1 L754.6 102.6 L755.0 102.2 L755.5 101.7 L756.0 101.2 L756.5 100.6 L757.0 100.0 L757.5 99.3 L758.0 98.6 L758.4 97.8 L758.9 97.0 L759.4 96.1 L759.9 95.1 L760.4 94.2 L760.8 93.1 L761.3 92.1 L761.8 91.0 L762.3 89.9 L762.7 88.8 L763.2 87.6 L763.6 86.4 L764.1 85.0 L764.5 83.6 L765.0 82.0 L765.5 80.0 L766.0 77.6 L766.5 75.0 L767.0 72.4 L767.5 70.0 L768.0 67.4 L768.5 64.5 L769.0 61.6 L769.5 59.0 L770.0 57.3 L770.5 56.6 L770.6 56.7 L770.7 57.0 L771.2 58.3 L771.7 59.7 L772.2 61.3 L772.7 63.1 L773.1 64.9 L773.6 66.9 L774.1 68.9 L774.6 71.0 L775.1 73.1 L775.6 75.0 L776.0 77.0 L776.5 79.0 L776.9 81.1 L777.4 83.4 L777.8 85.9 L778.2 88.7 L778.7 91.7 L779.2 95.5 L779.6 100.1 L780.0 105.1 L780.5 110.0 L781.0 115.0 L781.4 120.3 L781.8 125.4 L782.3 130.0 L782.8 134.2 L783.2 138.2 L783.7 141.9 L784.1 145.3 L784.6 148.6 L785.1 151.8 L785.6 154.9 L786.1 157.8 L786.5 160.6 L787.0 163.2 L787.5 165.8 L788.0 168.3 L788.5 170.8 L789.0 173.3 L789.5 175.8 L790.0 178.4 L790.4 181.1 L790.9 183.8 L791.4 186.7 L791.9 189.7 L792.4 192.9 L792.9 196.2 L793.4 199.7 L793.8 203.3 L794.3 207.0 L794.8 210.7 L795.3 214.4 L795.8 218.1 L796.2 221.7 L796.7 225.3 L797.2 228.7 L797.7 232.0 L798.2 235.4 L798.7 238.9 L799.2 242.6 L799.7 246.3 L800.2 250.0 L800.7 253.5 L801.1 256.9 L801.6 259.9 L802.1 262.7 L802.6 265.0 L803.1 266.8 L803.6 268.0 L804.1 268.9 L804.6 269.8 L805.1 270.6 L805.6 271.4 L806.1 272.1 L806.6 272.8 L807.0 273.4 L807.5 273.9 L808.0 274.4 L808.5 274.8 L809.0 275.1 L809.5 275.3 L810.0 275.5 L810.5 275.5 L811.0 275.5 L811.5 275.4 L812.0 275.2 L812.5 274.9 L813.0 274.6 L813.4 274.3 L813.9 273.8 L814.4 273.4 L814.9 272.8 L815.4 272.3 L815.9 271.6 L816.4 271.0 L816.9 270.2 L817.4 269.5 L817.9 268.7 L818.3 267.9 L818.8 267.0 L819.3 266.2 L819.8 265.3 L820.3 264.3 L820.8 263.4 L821.3 262.3 L821.7 261.0 L822.2 259.4 L822.7 257.6 L823.1 255.7 L823.6 253.6 L824.1 251.5 L824.6 249.3 L825.0 247.1 L825.5 245.0 L826.0 242.7 L826.5 240.4 L827.0 238.1 L827.5 235.6 L828.0 233.1 L828.5 230.4 L829.0 227.7 L829.5 224.9 L830.0 221.9 L830.5 218.9 L831.0 215.7 L831.5 212.4 L832.0 208.9 L832.5 205.3 L833.0 201.7 L833.4 197.9 L833.9 194.1 L834.4 190.1 L834.9 186.1 L835.4 182.1 L835.9 178.0 L836.4 173.8 L836.9 169.3 L837.4 164.7 L837.8 159.9 L838.3 154.9 L838.8 149.9 L839.3 144.9 L839.8 139.8 L840.3 134.8 L840.8 129.8 L841.3 125.0 L841.7 120.3 L842.2 115.8 L842.7 111.6 L843.2 107.6 L843.7 103.7 L844.2 99.9 L844.7 96.3 L845.2 92.7 L845.7 89.3 L846.2 86.1 L846.7 83.2 L847.2 80.4 L847.7 77.9 L848.2 75.4 L848.6 72.9 L849.1 70.6 L849.6 68.5 L850.0 66.6 L850.5 65.1 L851.0 64.0 L851.5 63.1 L851.9 62.3 L852.4 61.5 L852.9 60.8 L853.4 60.1 L853.8 59.5 L854.3 59.0 L854.8 58.6 L855.3 58.3 L855.7 58.1 L856.2 58.0 L856.7 58.2 L857.2 58.9 L857.6 59.9 L858.1 61.2 L858.6 62.8 L859.1 64.5 L859.5 66.3 L860.0 68.2 L860.5 70.0 L861.0 72.1 L861.5 74.6 L862.0 77.4 L862.5 80.4 L863.0 83.5 L863.5 86.5 L864.0 89.4 L864.4 91.9 L864.9 94.6 L865.3 97.3 L865.7 99.9 L866.2 102.1 L866.6 104.0 L867.1 105.8 L867.6 107.6 L868.1 109.2 L868.6 110.8 L869.1 112.4 L869.6 113.9 L870.1 115.3 L870.6 116.6 L871.1 117.9 L871.6 119.1 L872.1 120.3 L872.6 121.4 L873.1 122.4 L873.6 123.4 L874.1 124.3 L874.6 125.2 L875.1 126.0 L875.6 126.8 L876.1 127.5 L876.6 128.2 L877.1 128.9 L877.6 129.5 L878.0 130.2 L878.5 130.9 L879.0 131.5 L879.5 132.2 L880.0 132.8 L880.5 133.4 L881.0 134.0 L881.5 134.5 L882.0 135.1 L882.4 135.6 L882.9 136.1 L883.4 136.5 L883.9 136.9 L884.4 137.3 L884.9 137.6 L885.4 137.9 L885.8 138.2 L886.3 138.3 L886.8 138.5 L887.3 138.6 L887.8 138.6 L888.3 138.3 L888.8 137.6 L889.3 136.4 L889.8 134.9 L890.3 133.2 L890.8 131.2 L891.2 129.1 L891.7 126.9 L892.2 124.7 L892.7 122.5 L893.2 120.5 L893.7 118.7 L894.2 116.9 L894.7 115.0 L895.2 113.0 L895.7 110.9 L896.2 108.8 L896.7 106.7 L897.1 104.8 L897.6 103.0 L898.1 101.3 L898.6 100.0 L899.1 98.9 L899.6 98.1 L900.1 97.6 L900.6 97.1 L901.1 96.6 L901.6 96.2 L902.0 95.9 L902.5 95.5 L903.0 95.2 L903.5 95.0 L904.0 94.7 L904.5 94.4 L905.0 94.2 L905.5 94.0 L906.0 93.7 L906.4 93.5 L906.9 93.2 L907.4 92.9 L907.9 92.6 L908.4 92.3 L908.9 91.9 L909.4 91.6 L909.9 91.1 L910.4 90.7 L910.8 90.2 L911.3 89.8 L911.8 89.3 L912.3 88.8 L912.8 88.3 L913.3 87.8 L913.8 87.3 L914.2 86.9 L914.7 86.4 L915.2 86.0 L915.7 85.6 L916.2 85.2 L916.7 84.8 L917.2 84.5 L917.7 84.2 L918.1 84.0 L918.6 83.8 L919.1 83.6 L919.6 83.5 L920.1 83.5 L920.6 83.8 L921.1 84.7 L921.6 86.0 L922.1 87.8 L922.5 89.9 L923.0 92.2 L923.5 94.8 L924.0 97.6 L924.5 100.3 L925.0 103.1 L925.5 105.9 L926.0 108.5 L926.5 110.8 L926.9 112.9 L927.4 114.7 L927.9 116.0 L928.4 116.9 L928.9 117.2 L929.4 117.2 L929.9 117.1 L930.4 117.0 L930.9 116.8 L931.4 116.6 L931.8 116.4 L932.3 116.1 L932.8 115.8 L933.3 115.4 L933.8 115.1 L934.3 114.6 L934.8 114.2 L935.3 113.7 L935.8 113.3 L936.2 112.7 L936.7 112.2 L937.2 111.7 L937.7 111.1 L938.2 110.6 L938.7 110.0 L939.2 109.4 L939.7 108.8 L940.2 108.2 L940.7 107.6 L941.1 107.0 L941.6 106.4 L942.1 105.8 L942.6 105.2 L943.1 104.6 L943.6 104.0 L944.1 103.4 L944.6 102.8 L945.1 102.1 L945.6 101.5 L946.1 100.8 L946.6 100.0 L947.1 99.3 L947.6 98.5 L948.0 97.7 L948.5 96.9 L949.0 96.1 L949.5 95.3 L950.0 94.4 L950.5 93.6 L951.0 92.7 L951.5 91.8 L952.0 90.9 L952.5 90.0" stroke="#ff0000"/>
<path d="M571.5 81.0 L571.9 80.8 L572.3 80.1 L572.7 79.3 L573.2 77.3 L573.7 74.0 L574.2 70.1 L574.7 66.5 L575.2 63.8 L575.7 62.0 L576.1 60.3 L576.6 58.6 L577.1 57.1 L577.5 55.7 L578.0 54.5 L578.5 53.7 L578.9 53.1 L579.4 52.9 L579.9 53.2 L580.3 53.9 L580.8 55.1 L581.2 56.6 L581.7 58.3 L582.1 60.2 L582.6 62.1 L583.0 64.1 L583.5 65.9 L584.0 67.8 L584.4 69.7 L584.9 71.8 L585.4 74.0 L585.8 76.4 L586.3 78.8 L586.8 81.3 L587.2 83.8 L587.7 86.5 L588.2 89.5 L588.7 92.6 L589.2 96.1 L589.7 99.9 L590.2 104.6 L590.7 110.0 L591.2 115.0 L591.7 119.1 L592.2 123.1 L592.6 126.7 L593.1 130.0 L593.6 132.9 L594.1 135.6 L594.5 138.0 L595.0 140.4 L595.5 142.8 L596.0 145.2 L596.5 147.6 L597.0 149.8 L597.5 152.0 L598.0 154.1 L598.5 156.2 L599.0 158.3 L599.4 160.5 L599.9 162.7 L600.4 164.9 L600.9 167.3 L601.4 169.7 L601.9 172.3 L602.4 175.1 L602.9 178.0 L603.4 181.2 L603.9 184.8 L604.3 188.8 L604.8 193.0 L605.3 197.3 L605.8 201.6 L606.2 205.7 L606.7 209.6 L607.2 213.1 L607.7 216.6 L608.2 220.2 L608.7 223.8 L609.2 227.3 L609.6 230.5 L610.1 233.5 L610.6 236.1 L611.1 238.1 L611.6 239.5 L612.1 240.5 L612.6 241.5 L613.1 242.5 L613.6 243.4 L614.1 244.2 L614.6 245.0 L615.1 245.7 L615.5 246.3 L616.0 246.9 L616.5 247.3 L617.0 247.7 L617.5 248.1 L618.0 248.3 L618.5 248.5 L619.0 248.5 L619.5 248.5 L620.0 248.3 L620.5 248.2 L621.0 247.9 L621.4 247.6 L621.9 247.2 L622.4 246.8 L622.9 246.3 L623.4 245.7 L623.9 245.2 L624.4 244.5 L624.9 243.9 L625.4 243.2 L625.8 242.5 L626.3 241.8 L626.8 241.0 L627.3 240.3 L627.8 239.5 L628.3 238.7 L628.8 237.7 L629.3 236.6 L629.7 235.4 L630.2 234.1 L630.7 232.7 L631.2 231.2 L631.7 229.6 L632.2 227.9 L632.7 226.1 L633.2 224.3 L633.6 222.3 L634.1 220.3 L634.6 218.2 L635.1 216.1 L635.6 213.7 L636.1 211.0 L636.6 208.0 L637.1 204.8 L637.5 201.4 L638.0 197.8 L638.5 194.1 L639.0 190.4 L639.5 186.7 L640.0 182.9 L640.5 178.7 L641.0 174.4 L641.5 170.0 L641.9 165.5 L642.4 161.1 L642.9 156.7 L643.4 152.5 L643.9 148.6 L644.4 144.8 L644.9 141.1 L645.4 137.5 L645.9 134.0 L646.4 130.5 L646.8 127.1 L647.3 123.7 L647.8 120.4 L648.3 117.2 L648.8 114.0 L649.3 110.8 L649.8 107.6 L650.3 104.5 L650.8 101.4 L651.2 98.2 L651.7 95.1 L652.2 92.0 L652.6 88.9 L653.1 86.0 L653.6 83.1 L654.1 80.5 L654.5 78.0 L655.0 75.7 L655.5 73.7 L656.0 71.7 L656.5 69.8 L657.0 68.0 L657.5 66.3 L658.0 64.7 L658.5 63.2 L659.0 61.9 L659.5 60.9 L660.0 60.0 L660.5 59.3 L661.0 58.6 L661.4 58.0 L661.9 57.4 L662.4 56.8 L662.9 56.2 L663.3 55.8 L663.8 55.4 L664.3 55.0 L664.8 54.8 L665.2 54.7 L665.7 54.6 L666.2 54.8 L666.6 55.5 L667.1 56.5 L667.6 57.9 L668.0 59.5 L668.5 61.3 L669.0 63.3 L669.4 65.4 L669.9 67.5 L670.4 69.6 L670.8 71.7 L671.3 73.7 L671.8 75.9 L672.3 78.2 L672.8 80.7 L673.3 83.3 L673.8 85.9 L674.3 88.6 L674.8 91.2 L675.3 93.7 L675.8 96.1 L676.3 98.4 L676.8 100.8 L677.3 103.3 L677.8 105.6 L678.2 107.8 L678.7 109.8 L679.2 111.5 L679.7 112.8 L680.2 113.8 L680.7 114.8 L681.2 115.7 L681.7 116.6 L682.1 117.4 L682.6 118.1 L683.1 118.8 L683.6 119.5 L684.1 120.1 L684.6 120.7 L685.1 121.3 L685.6 121.8 L686.1 122.3 L686.5 122.8 L687.0 123.3 L687.5 123.7 L688.0 124.2 L688.5 124.6 L689.0 125.0 L689.5 125.5 L690.0 125.9 L690.5 126.4 L690.9 126.8 L691.4 127.3 L691.9 127.7 L692.4 128.1 L692.9 128.5 L693.4 128.8 L693.9 129.2 L694.4 129.5 L694.9 129.7 L695.3 130.0 L695.8 130.2 L696.3 130.3 L696.8 130.4 L697.3 130.4 L697.8 130.0 L698.3 129.0 L698.8 127.3 L699.3 125.3 L699.7 122.9 L700.2 120.3 L700.7 117.7 L701.2 115.2 L701.7 112.8 L702.2 110.3 L702.7 107.2 L703.2 103.9 L703.7 100.5 L704.1 97.2 L704.6 94.3 L705.1 91.8 L705.6 90.1 L706.1 89.3 L706.6 89.0 L707.1 88.7 L707.6 88.5 L708.1 88.2 L708.6 88.0 L709.1 87.7 L709.6 87.5 L710.1 87.3 L710.6 87.1 L711.1 86.9 L711.6 86.7 L712.1 86.5 L712.6 86.3 L713.1 86.1 L713.6 86.0 L714.1 85.8 L714.6 85.7 L715.1 85.5 L715.6 85.4 L716.1 85.3 L716.6 85.2 L717.1 85.1 L717.6 85.0 L718.1 84.9 L718.6 84.8 L719.1 84.7 L719.6 84.6 L720.1 84.5 L720.6 84.5 L721.1 84.4 L721.6 84.3 L722.1 84.3 L722.6 84.2 L723.1 84.2 L723.6 84.2 L724.1 84.1 L724.6 84.1 L725.1 84.1 L725.6 84.0 L726.1 84.0 L726.6 84.0 L727.1 84.0 L727.6 84.0 L728.1 84.0 L728.5 84.1 L729.0 84.3 L729.4 84.6 L729.9 85.0 L730.3 85.5 L730.8 86.0 L731.2 86.6 L731.6 87.5 L732.1 88.9 L732.5 90.7 L733.0 92.7 L733.4 94.8 L733.9 97.0 L734.3 99.0 L734.8 101.3 L735.2 103.9 L735.7 106.8 L736.2 109.7 L736.6 112.5 L737.1 114.9 L737.6 116.9 L738.0 118.2 L738.5 118.7 L739.0 118.7 L739.5 118.5 L739.9 118.4 L740.4 118.1 L740.9 117.8 L741.4 117.5 L741.9 117.1 L742.3 116.6 L742.8 116.2 L743.3 115.8 L743.8 115.3 L744.3 114.8 L744.7 114.4 L745.2 113.9 L745.7 113.5 L746.2 113.1 L746.6 112.7 L747.1 112.3 L747.6 111.9 L748.1 111.4 L748.5 111.0 L749.0 110.5 L749.5 110.0 L750.0 109.5 L750.4 108.9 L750.9 108.3 L751.4 107.6 L751.8 106.8 L752.3 105.9 L752.8 105.0 L753.3 104.0 L753.7 102.9 L754.2 101.9 L754.7 100.8 L755.2 99.8 L755.6 98.9 L756.1 98.0 L756.6 97.2 L757.0 96.5 L757.5 95.8 L758.0 95.1 L758.5 94.4 L758.9 93.8 L759.4 93.1 L759.9 92.3 L760.4 91.5 L760.8 90.7 L761.3 89.7 L761.7 88.7 L762.2 87.5 L762.6 86.2 L763.1 84.9 L763.5 83.4 L764.0 81.9 L764.4 80.4 L764.8 78.9 L765.2 77.3 L765.7 75.5 L766.1 73.8 L766.5 72.0 L767.0 69.6 L767.5 66.7 L768.0 63.6 L768.5 60.6 L769.0 57.8 L769.5 55.5 L770.0 54.0 L770.5 53.4 L771.0 53.7 L771.5 54.4 L772.0 55.5 L772.5 56.8 L773.0 58.5 L773.5 60.2 L774.0 62.0 L774.5 64.0 L774.9 66.6 L775.4 69.6 L775.8 72.9 L776.3 76.3 L776.7 79.8 L777.2 83.1 L777.7 86.7 L778.2 90.4 L778.7 94.3 L779.2 98.1 L779.7 101.9 L780.2 105.6 L780.7 109.0 L781.2 112.1 L781.6 115.1 L782.1 118.0 L782.6 120.9 L783.1 123.7 L783.5 126.5 L784.0 129.2 L784.5 131.9 L785.0 134.6 L785.4 137.2 L785.9 139.8 L786.4 142.5 L786.9 145.0 L787.4 147.5 L787.9 149.9 L788.4 152.3 L788.9 154.6 L789.4 156.9 L789.9 159.2 L790.4 161.6 L790.9 164.0 L791.4 166.6 L791.9 169.2 L792.4 172.0 L792.9 174.9 L793.4 178.0 L793.9 181.3 L794.4 185.0 L794.8 189.0 L795.3 193.2 L795.8 197.4 L796.3 201.6 L796.7 205.7 L797.2 209.6 L797.7 213.1 L798.2 216.6 L798.7 220.2 L799.2 223.8 L799.7 227.3 L800.1 230.5 L800.6 233.5 L801.1 236.1 L801.6 238.1 L802.1 239.5 L802.6 240.5 L803.1 241.5 L803.6 242.5 L804.1 243.4 L804.6 244.2 L805.1 245.0 L805.6 245.7 L806.0 246.3 L806.5 246.9 L807.0 247.3 L807.5 247.7 L808.0 248.1 L808.5 248.3 L809.0 248.5 L809.5 248.5 L810.0 248.5 L810.5 248.3 L811.0 248.2 L811.5 247.9 L811.9 247.6 L812.4 247.2 L812.9 246.8 L813.4 246.3 L813.9 245.7 L814.4 245.2 L814.9 244.5 L815.4 243.9 L815.9 243.2 L816.3 242.5 L816.8 241.8 L817.3 241.0 L817.8 240.3 L818.3 239.5 L818.8 238.7 L819.3 237.7 L819.8 236.6 L820.2 235.4 L820.7 234.1 L821.2 232.7 L821.7 231.2 L822.2 229.6 L822.7 227.9 L823.2 226.1 L823.7 224.3 L824.1 222.3 L824.6 220.3 L825.1 218.2 L825.6 216.1 L826.1 213.7 L826.6 211.0 L827.1 208.0 L827.6 204.8 L828.0 201.4 L828.5 197.8 L829.0 194.1 L829.5 190.4 L830.0 186.7 L830.5 182.9 L831.0 178.7 L831.5 174.4 L832.0 170.0 L832.4 165.5 L832.9 161.1 L833.4 156.7 L833.9 152.5 L834.4 148.6 L834.9 144.8 L835.4 141.1 L835.9 137.5 L836.4 134.0 L836.9 130.5 L837.3 127.1 L837.8 123.7 L838.3 120.4 L838.8 117.2 L839.3 114.0 L839.8 110.8 L840.3 107.6 L840.8 104.5 L841.2 101.4 L841.7 98.2 L842.2 95.1 L842.7 92.0 L843.1 88.9 L843.6 86.0 L844.1 83.1 L844.6 80.5 L845.0 78.0 L845.5 75.7 L846.0 73.7 L846.5 71.7 L847.0 69.8 L847.5 68.0 L848.0 66.3 L848.5 64.7 L849.0 63.2 L849.5 61.9 L850.0 60.9 L850.5 60.0 L851.0 59.3 L851.5 58.6 L851.9 58.0 L852.4 57.4 L852.9 56.8 L853.4 56.2 L853.8 55.8 L854.3 55.4 L854.8 55.0 L855.2 54.8 L855.7 54.7 L856.2 54.6 L856.7 54.8 L857.1 55.5 L857.6 56.5 L858.1 57.9 L858.5 59.5 L859.0 61.3 L859.5 63.3 L859.9 65.4 L860.4 67.5 L860.9 69.6 L861.3 71.7 L861.8 73.7 L862.3 75.9 L862.8 78.2 L863.3 80.7 L863.8 83.3 L864.3 85.9 L864.8 88.6 L865.3 91.2 L865.8 93.7 L866.3 96.1 L866.8 98.4 L867.3 100.8 L867.8 103.3 L868.2 105.6 L868.7 107.8 L869.2 109.8 L869.7 111.5 L870.2 112.8 L870.7 113.8 L871.2 114.8 L871.7 115.7 L872.2 116.6 L872.6 117.4 L873.1 118.1 L873.6 118.8 L874.1 119.5 L874.6 120.1 L875.1 120.7 L875.6 121.3 L876.1 121.8 L876.6 122.3 L877.0 122.8 L877.5 123.3 L878.0 123.7 L878.5 124.2 L879.0 124.6 L879.5 125.0 L880.0 125.5 L880.5 125.9 L881.0 126.4 L881.4 126.8 L881.9 127.3 L882.4 127.7 L882.9 128.1 L883.4 128.5 L883.9 128.8 L884.4 129.2 L884.9 129.5 L885.4 129.7 L885.8 130.0 L886.3 130.2 L886.8 130.3 L887.3 130.4 L887.8 130.4 L888.3 130.0 L888.8 129.0 L889.3 127.3 L889.8 125.3 L890.2 122.9 L890.7 120.3 L891.2 117.7 L891.7 115.2 L892.2 112.8 L892.7 110.3 L893.2 107.2 L893.7 103.9 L894.2 100.5 L894.6 97.2 L895.1 94.3 L895.6 91.8 L896.1 90.1 L896.6 89.3 L897.1 89.0 L897.6 88.7 L898.1 88.5 L898.6 88.2 L899.1 88.0 L899.6 87.7 L900.1 87.5 L900.6 87.3 L901.1 87.1 L901.6 86.9 L902.1 86.7 L902.6 86.5 L903.1 86.3 L903.6 86.1 L904.1 86.0 L904.6 85.8 L905.1 85.7 L905.6 85.5 L906.1 85.4 L906.6 85.3 L907.1 85.2 L907.6 85.1 L908.1 85.0 L908.6 84.9 L909.1 84.8 L909.6 84.7 L910.1 84.6 L910.6 84.5 L911.1 84.5 L911.6 84.4 L912.1 84.3 L912.6 84.3 L913.1 84.2 L913.6 84.2 L914.1 84.2 L914.6 84.1 L915.1 84.1 L915.6 84.1 L916.1 84.0 L916.6 84.0 L917.1 84.0 L917.6 84.0 L918.1 84.0 L918.6 84.0 L919.0 84.1 L919.5 84.3 L919.9 84.6 L920.4 85.0 L920.8 85.5 L921.3 86.0 L921.7 86.6 L922.1 87.5 L922.6 88.9 L923.0 90.7 L923.5 92.7 L923.9 94.8 L924.4 97.0 L924.8 99.0 L925.3 101.3 L925.7 103.9 L926.2 106.8 L926.7 109.7 L927.1 112.5 L927.6 114.9 L928.1 116.9 L928.5 118.2 L929.0 118.7 L929.5 118.7 L930.0 118.5 L930.4 118.4 L930.9 118.1 L931.4 117.8 L931.9 117.5 L932.4 117.1 L932.8 116.6 L933.3 116.2 L933.8 115.8 L934.3 115.3 L934.8 114.8 L935.2 114.4 L935.7 113.9 L936.2 113.5 L936.7 113.1 L937.1 112.7 L937.6 112.3 L938.1 111.9 L938.6 111.4 L939.0 111.0 L939.5 110.5 L940.0 110.0 L940.5 109.5 L940.9 108.9 L941.4 108.3 L941.9 107.6 L942.3 106.8 L942.8 105.9 L943.3 105.0 L943.8 104.0 L944.2 102.9 L944.7 101.9 L945.2 100.8 L945.7 99.8 L946.1 98.9 L946.6 98.0 L947.1 97.2 L947.5 96.4 L948.0 95.6 L948.5 94.8 L949.0 94.0 L949.4 93.2 L949.9 92.5 L950.4 91.8 L950.9 91.1 L951.3 90.4 L951.8 89.7" stroke="#1a1a1a"/>
<path d="M1069.0 119.8 L1069.5 115.9 L1069.9 111.9 L1070.4 108.2 L1070.9 104.8 L1071.4 102.0 L1071.8 100.1 L1072.3 99.1 L1072.8 98.7 L1073.3 98.3 L1073.8 98.0 L1074.3 97.7 L1074.8 97.4 L1075.3 97.2 L1075.8 97.0 L1076.2 96.8 L1076.7 96.6 L1077.2 96.5 L1077.7 96.4 L1078.2 96.4 L1078.7 96.3 L1079.2 96.3 L1079.7 96.3 L1080.2 96.3 L1080.7 96.3 L1081.1 96.3 L1081.6 96.3 L1082.1 96.3 L1082.6 96.3 L1083.1 96.3 L1083.6 96.3 L1084.1 96.3 L1084.5 96.3 L1085.0 96.3 L1085.5 96.3 L1086.0 96.3 L1086.5 96.3 L1087.0 96.3 L1087.4 96.3 L1087.9 96.3 L1088.4 96.3 L1088.9 96.3 L1089.4 96.5 L1089.9 97.2 L1090.4 98.3 L1090.9 99.6 L1091.4 101.1 L1091.9 102.8 L1092.3 104.6 L1092.8 106.4 L1093.3 108.1 L1093.8 109.6 L1094.3 110.9 L1094.8 112.0 L1095.3 112.7 L1095.8 112.9 L1096.3 112.8 L1096.8 112.5 L1097.3 112.1 L1097.8 111.5 L1098.3 110.8 L1098.8 109.9 L1099.2 109.0 L1099.7 108.0 L1100.2 107.0 L1100.7 105.9 L1101.2 104.9 L1101.7 103.8 L1102.2 102.8 L1102.7 101.8 L1103.2 100.8 L1103.7 99.8 L1104.2 98.8 L1104.7 97.7 L1105.2 96.6 L1105.7 95.5 L1106.2 94.3 L1106.6 93.1 L1107.1 91.8 L1107.6 90.6 L1108.1 89.3 L1108.6 87.9 L1109.1 86.6 L1109.6 85.2 L1110.1 83.9 L1110.5 82.5 L1111.0 81.1 L1111.4 79.6 L1111.9 78.0 L1112.3 76.4 L1112.8 74.8 L1113.2 73.1 L1113.7 71.4 L1114.2 69.3 L1114.6 66.9 L1115.1 64.2 L1115.6 61.4 L1116.0 58.7 L1116.5 56.4 L1117.0 54.4 L1117.4 53.2 L1117.9 52.7 L1118.4 53.0 L1118.9 54.0 L1119.4 55.4 L1119.9 57.2 L1120.4 59.4 L1120.9 61.8 L1121.4 64.4 L1121.9 67.0 L1122.4 69.6 L1122.9 72.0 L1123.4 74.2 L1123.9 76.2 L1124.4 78.1 L1124.9 80.1 L1125.4 81.9 L1125.9 83.8 L1126.4 85.8 L1126.8 87.7 L1127.3 89.8 L1127.8 91.9 L1128.3 94.1 L1128.8 96.5 L1129.3 99.0 L1129.8 101.7 L1130.3 104.6 L1130.8 108.0 L1131.3 112.1 L1131.8 116.7 L1132.3 121.8 L1132.8 127.1 L1133.3 132.6 L1133.8 138.1 L1134.3 143.5 L1134.8 148.7 L1135.3 153.5 L1135.8 157.8 L1136.3 161.5 L1136.8 164.6 L1137.2 167.5 L1137.7 170.4 L1138.2 173.1 L1138.7 175.7 L1139.1 178.1 L1139.6 180.4 L1140.1 182.6 L1140.6 184.7 L1141.0 186.7 L1141.5 188.5 L1142.0 190.3 L1142.5 192.0 L1143.0 193.6 L1143.4 195.1 L1143.9 196.6 L1144.4 198.0 L1144.9 199.4 L1145.4 200.7 L1145.9 202.0 L1146.4 203.2 L1146.9 204.4 L1147.3 205.7 L1147.8 206.8 L1148.3 208.0 L1148.8 209.2 L1149.3 210.4 L1149.7 211.7 L1150.2 213.0 L1150.7 214.3 L1151.1 215.6 L1151.6 216.9 L1152.1 218.1 L1152.5 219.1 L1153.0 220.0 L1153.5 220.6 L1153.9 221.1 L1154.4 221.2 L1154.9 220.7 L1155.3 219.2 L1155.8 217.1 L1156.3 214.5 L1156.8 211.7 L1157.2 208.8 L1157.7 206.0 L1158.2 203.6 L1158.6 201.9 L1159.1 200.9 L1159.6 200.4 L1160.1 200.0 L1160.6 199.7 L1161.0 199.4 L1161.5 199.1 L1162.0 198.9 L1162.5 198.7 L1163.0 198.5 L1163.5 198.3 L1164.0 198.1 L1164.5 197.9 L1164.9 197.7 L1165.4 197.4 L1165.9 197.1 L1166.4 196.8 L1166.9 196.4 L1167.4 195.9 L1167.9 195.3 L1168.4 194.6 L1168.9 193.9 L1169.4 193.2 L1169.9 192.4 L1170.4 191.6 L1170.9 190.8 L1171.4 190.0 L1171.8 189.2 L1172.3 188.4 L1172.8 187.7 L1173.3 187.0 L1173.8 186.3 L1174.3 185.8 L1174.8 185.3 L1175.3 184.9 L1175.8 184.6 L1176.3 184.4 L1176.8 184.3 L1177.3 184.7 L1177.7 185.6 L1178.2 187.0 L1178.6 188.6 L1179.1 190.4 L1179.5 192.0 L1180.0 193.4 L1180.4 194.3 L1180.9 194.7 L1181.4 194.5 L1181.9 194.1 L1182.4 193.4 L1182.9 192.4 L1183.3 191.2 L1183.8 189.8 L1184.3 188.2 L1184.8 186.5 L1185.3 184.6 L1185.8 182.6 L1186.3 180.6 L1186.8 178.4 L1187.2 176.3 L1187.7 174.1 L1188.2 171.9 L1188.7 169.8 L1189.2 167.7 L1189.7 165.6 L1190.2 163.4 L1190.6 161.1 L1191.1 158.6 L1191.6 156.0 L1192.1 153.3 L1192.5 150.5 L1193.0 147.7 L1193.5 144.7 L1194.0 141.7 L1194.4 138.7 L1194.9 135.6 L1195.4 132.5 L1195.9 129.4 L1196.3 126.2 L1196.8 123.1 L1197.3 120.0 L1197.8 116.9 L1198.2 113.7 L1198.7 110.4 L1199.1 107.1 L1199.6 103.7 L1200.0 100.3 L1200.5 97.0 L1200.9 93.8 L1201.4 90.8 L1201.9 87.7 L1202.3 84.4 L1202.8 81.0 L1203.3 77.7 L1203.7 74.6 L1204.2 71.7 L1204.7 69.2 L1205.1 67.3 L1205.6 65.9 L1206.1 65.0 L1206.5 64.1 L1207.0 63.4 L1207.4 62.8 L1207.9 62.2 L1208.3 61.7 L1208.8 61.2 L1209.2 60.8 L1209.7 60.4 L1210.2 60.0 L1210.7 59.5 L1211.2 59.1 L1211.7 58.7 L1212.1 58.3 L1212.6 57.9 L1213.1 57.5 L1213.6 57.2 L1214.1 56.8 L1214.6 56.5 L1215.1 56.2 L1215.6 56.0 L1216.0 55.8 L1216.5 55.6 L1217.0 55.5 L1217.5 55.4 L1218.0 55.4 L1218.5 55.7 L1218.9 56.7 L1219.4 58.1 L1219.9 59.9 L1220.3 62.0 L1220.8 64.3 L1221.3 66.7 L1221.7 69.1 L1222.2 71.4 L1222.7 73.8 L1223.1 76.6 L1223.6 79.7 L1224.0 83.0 L1224.5 86.3 L1224.9 89.4 L1225.4 92.2 L1225.8 94.5 L1226.3 96.3 L1226.8 97.8 L1227.3 99.1 L1227.8 100.4 L1228.3 101.5 L1228.8 102.6 L1229.3 103.6 L1229.8 104.5 L1230.2 105.4 L1230.7 106.2 L1231.2 107.0 L1231.7 107.7 L1232.2 108.5 L1232.7 109.3 L1233.2 110.1 L1233.7 110.9 L1234.2 111.8 L1234.7 112.8 L1235.2 113.7 L1235.7 114.6 L1236.2 115.5 L1236.7 116.4 L1237.1 117.2 L1237.6 117.9 L1238.1 118.5 L1238.6 119.1 L1239.1 119.5 L1239.6 119.7 L1240.1 119.8 L1240.6 119.3 L1241.1 118.1 L1241.6 116.2 L1242.1 113.9 L1242.6 111.3 L1243.1 108.5 L1243.6 105.9 L1244.1 103.4 L1244.6 101.3 L1245.1 99.9 L1245.6 99.1 L1246.1 98.8 L1246.6 98.5 L1247.1 98.3 L1247.6 98.1 L1248.0 97.9 L1248.5 97.8 L1249.0 97.6 L1249.5 97.5 L1250.0 97.4 L1250.5 97.3 L1251.0 97.1 L1251.5 97.0 L1251.9 96.9 L1252.4 96.8 L1252.9 96.6 L1253.4 96.5 L1253.9 96.3 L1254.4 96.1 L1254.9 95.8 L1255.4 95.6 L1255.9 95.3 L1256.4 95.0 L1256.9 94.7 L1257.4 94.4 L1257.9 94.1 L1258.4 93.8 L1258.9 93.6 L1259.4 93.4 L1259.9 93.2 L1260.4 93.1 L1260.9 93.1 L1261.4 93.5 L1261.9 94.6 L1262.4 96.3 L1262.8 98.4 L1263.3 100.8 L1263.8 103.3 L1264.3 105.9 L1264.8 108.3 L1265.2 110.4 L1265.7 112.1 L1266.2 113.2 L1266.7 113.6 L1267.2 113.5 L1267.7 113.3 L1268.2 113.0 L1268.7 112.6 L1269.2 112.1 L1269.7 111.5 L1270.2 110.8 L1270.6 110.1 L1271.1 109.4 L1271.6 108.6 L1272.1 107.8 L1272.6 107.0 L1273.1 106.2 L1273.6 105.5 L1274.1 104.8 L1274.6 104.2 L1275.1 103.5 L1275.6 102.9 L1276.0 102.3 L1276.5 101.7 L1277.0 101.1 L1277.5 100.4 L1278.0 99.7 L1278.5 99.0 L1279.0 98.2 L1279.5 97.4 L1279.9 96.4 L1280.4 95.4 L1280.9 94.3 L1281.4 93.1 L1281.9 91.4 L1282.4 88.8 L1282.9 85.6 L1283.4 82.0 L1283.9 78.1 L1284.3 74.0 L1284.8 70.0 L1285.3 66.2 L1285.8 62.7 L1286.3 59.9 L1286.8 57.7 L1287.3 56.4 L1287.8 55.7 L1288.3 55.0 L1288.8 54.4 L1289.2 53.9 L1289.7 53.6 L1290.2 53.5 L1290.7 53.7 L1291.2 54.4 L1291.7 55.4 L1292.2 56.7 L1292.6 58.2 L1293.1 59.9 L1293.6 61.6 L1294.1 63.4 L1294.6 65.2 L1295.1 67.1 L1295.6 69.4 L1296.1 71.9 L1296.6 74.7 L1297.0 77.5 L1297.5 80.4 L1298.0 83.3 L1298.5 86.1 L1299.0 88.7 L1299.5 91.1 L1300.0 93.4 L1300.5 95.6 L1301.0 97.8 L1301.5 99.9 L1302.0 102.0 L1302.4 104.3 L1302.9 106.6 L1303.4 109.1 L1303.9 111.8 L1304.4 114.8 L1304.9 118.0 L1305.4 122.0 L1305.9 127.0 L1306.3 132.4 L1306.8 138.0 L1307.3 143.1 L1307.8 147.3 L1308.3 151.0 L1308.8 154.4 L1309.3 157.7 L1309.8 160.8 L1310.3 163.7 L1310.8 166.5 L1311.3 169.1 L1311.8 171.6 L1312.3 173.9 L1312.8 176.2 L1313.3 178.3 L1313.8 180.3 L1314.2 182.3 L1314.7 184.2 L1315.2 186.0 L1315.7 187.8 L1316.1 189.5 L1316.6 191.1 L1317.1 192.6 L1317.6 194.1 L1318.0 195.5 L1318.5 196.8 L1319.0 198.0 L1319.5 199.2 L1320.0 200.5 L1320.5 201.7 L1321.0 203.0 L1321.5 204.2 L1322.0 205.3 L1322.5 206.4 L1322.9 207.5 L1323.4 208.4 L1323.9 209.2 L1324.4 209.8 L1324.9 210.3 L1325.4 210.6 L1325.9 210.7 L1326.4 210.4 L1326.8 209.7 L1327.3 208.5 L1327.8 207.0 L1328.3 205.2 L1328.7 203.2 L1329.2 201.1 L1329.7 199.0 L1330.1 196.9 L1330.6 194.9 L1331.1 193.0 L1331.6 191.4 L1332.0 190.2 L1332.5 189.3 L1333.0 188.7 L1333.5 188.1 L1334.0 187.5 L1334.5 187.0 L1335.0 186.6 L1335.4 186.2 L1335.9 185.8 L1336.4 185.4 L1336.9 185.1 L1337.4 184.7 L1337.9 184.4 L1338.4 184.1 L1338.9 183.8 L1339.4 183.5 L1339.8 183.1 L1340.3 182.8 L1340.8 182.4 L1341.3 182.0 L1341.8 181.6 L1342.3 181.1 L1342.8 180.6 L1343.2 180.0 L1343.7 179.3 L1344.2 178.5 L1344.7 177.8 L1345.1 177.0 L1345.6 176.2 L1346.1 175.5 L1346.5 174.8 L1347.0 174.2 L1347.5 173.7 L1348.0 173.3 L1348.4 173.1 L1348.9 173.0 L1349.4 173.3 L1349.9 174.2 L1350.4 175.5 L1350.9 177.0 L1351.3 178.7 L1351.8 180.4 L1352.3 181.9 L1352.8 183.2 L1353.3 184.1 L1353.8 184.4 L1354.3 184.2 L1354.8 183.6 L1355.3 182.8 L1355.8 181.6 L1356.3 180.3 L1356.8 178.7 L1357.3 177.0 L1357.8 175.2 L1358.3 173.4 L1358.8 171.5 L1359.3 169.7 L1359.8 168.0 L1360.3 166.4 L1360.8 164.9 L1361.3 163.4 L1361.8 162.0 L1362.3 160.5 L1362.8 158.9 L1363.2 157.3 L1363.7 155.7 L1364.2 153.9 L1364.7 152.0 L1365.2 150.0 L1365.7 147.8 L1366.2 145.5 L1366.7 143.0 L1367.1 140.3 L1367.6 137.5 L1368.1 134.5 L1368.6 131.5 L1369.1 128.4 L1369.6 125.2 L1370.1 122.0 L1370.5 118.8 L1371.0 115.6 L1371.5 112.4 L1372.0 109.2 L1372.5 105.8 L1373.0 102.1 L1373.5 98.1 L1374.0 93.9 L1374.5 89.8 L1375.0 85.6 L1375.4 81.7 L1375.9 78.0 L1376.4 74.7 L1376.9 71.9 L1377.4 69.7 L1377.9 68.1 L1378.4 67.0 L1378.9 65.9 L1379.4 64.8 L1379.8 63.8 L1380.3 62.9 L1380.8 62.0 L1381.3 61.2 L1381.8 60.5 L1382.3 59.8 L1382.8 59.3 L1383.3 58.8 L1383.7 58.4 L1384.2 58.1 L1384.7 58.0 L1385.2 57.9 L1385.7 57.9 L1386.2 57.9 L1386.7 57.9 L1387.2 57.9 L1387.6 57.9 L1388.1 57.9 L1388.6 57.9 L1389.1 57.9 L1389.6 57.9 L1390.1 58.9 L1390.6 61.6 L1391.1 65.5 L1391.6 70.3 L1392.0 75.5 L1392.5 80.7 L1393.0 85.4 L1393.5 89.2 L1394.0 91.6 L1394.5 93.2 L1395.0 94.6 L1395.5 95.9 L1395.9 97.1 L1396.4 98.2 L1396.9 99.3 L1397.4 100.2 L1397.9 101.1 L1398.4 101.9 L1398.9 102.7 L1399.4 103.5 L1399.8 104.2 L1400.3 104.9 L1400.8 105.6 L1401.3 106.3 L1401.8 107.0 L1402.3 107.8 L1402.8 108.5 L1403.3 109.3 L1403.8 110.1 L1404.2 110.8 L1404.7 111.6 L1405.2 112.3 L1405.7 113.0 L1406.2 113.7 L1406.7 114.4 L1407.2 115.0 L1407.7 115.6 L1408.2 116.1 L1408.7 116.6 L1409.1 117.0 L1409.6 117.3 L1410.1 117.6 L1410.6 117.8 L1411.1 118.0 L1411.6 118.0 L1412.1 117.4 L1412.6 115.9 L1413.1 113.7 L1413.6 111.1 L1414.0 108.3 L1414.5 105.5 L1415.0 103.1 L1415.5 101.3 L1416.0 100.4 L1416.5 100.0 L1417.0 99.6 L1417.5 99.3 L1418.0 99.0 L1418.5 98.7 L1418.9 98.4 L1419.4 98.2 L1419.9 98.0 L1420.4 97.8 L1420.9 97.6 L1421.4 97.4 L1421.9 97.3 L1422.4 97.1 L1422.9 97.0 L1423.4 96.8 L1423.8 96.7 L1424.3 96.6 L1424.8 96.4 L1425.3 96.3 L1425.8 96.1 L1426.3 96.0 L1426.8 95.8 L1427.3 95.7 L1427.8 95.5 L1428.2 95.3 L1428.7 95.2 L1429.2 95.0 L1429.7 94.9 L1430.2 94.8 L1430.6 94.6 L1431.1 94.6 L1431.6 94.5 L1432.1 94.5 L1432.6 94.7 L1433.1 95.4 L1433.6 96.4 L1434.1 97.7 L1434.6 99.2 L1435.0 100.8 L1435.5 102.5 L1436.0 104.2 L1436.5 105.8 L1437.0 107.2 L1437.5 108.3 L1438.0 109.2 L1438.5 109.9 L1439.0 110.5 L1439.5 111.1 L1439.9 111.6 L1440.4 112.0 L1440.9 112.1 L1441.4 112.0 L1441.9 111.7 L1442.4 111.2 L1442.9 110.6 L1443.4 109.8 L1443.8 109.0 L1444.3 108.0 L1444.8 107.1 L1445.3 106.1 L1445.8 105.1 L1446.3 104.2 L1446.8 103.3 L1447.3 102.5 L1447.8 101.6 L1448.3 100.7 L1448.7 99.8 L1449.2 98.9 L1449.7 98.0 L1450.2 97.0 L1450.7 96.0 L1451.2 95.0 L1451.7 94.0 L1452.2 93.0 L1452.6 92.0 L1453.1 90.9 L1453.6 89.8 L1454.1 88.7" stroke="#00ff00"/>
<path d="M1069.0 102.0 L1069.5 98.8 L1070.0 95.8 L1070.5 92.9 L1071.0 90.3 L1071.5 88.1 L1072.0 86.5 L1072.5 85.4 L1073.0 85.0 L1073.5 85.1 L1074.0 85.3 L1074.4 85.7 L1074.9 86.3 L1075.4 86.9 L1075.9 87.5 L1076.3 88.3 L1076.8 89.0 L1077.3 89.8 L1077.8 90.5 L1078.2 91.1 L1078.7 91.7 L1079.2 92.2 L1079.7 92.6 L1080.2 93.0 L1080.7 93.3 L1081.1 93.6 L1081.6 93.9 L1082.1 94.2 L1082.6 94.5 L1083.1 94.7 L1083.6 95.0 L1084.1 95.2 L1084.5 95.5 L1085.0 95.8 L1085.5 96.1 L1086.0 96.4 L1086.5 96.7 L1087.0 97.1 L1087.4 97.6 L1087.9 98.0 L1088.4 98.5 L1088.9 99.1 L1089.4 100.0 L1089.9 101.4 L1090.4 103.2 L1090.9 105.3 L1091.4 107.6 L1091.9 110.1 L1092.3 112.6 L1092.8 115.0 L1093.3 117.4 L1093.8 119.5 L1094.3 121.3 L1094.8 122.7 L1095.3 123.6 L1095.8 123.9 L1096.3 123.9 L1096.8 123.8 L1097.2 123.7 L1097.7 123.6 L1098.2 123.5 L1098.7 123.3 L1099.2 123.1 L1099.6 122.8 L1100.1 122.6 L1100.6 122.3 L1101.1 122.0 L1101.6 121.6 L1102.0 121.3 L1102.5 120.9 L1103.0 120.5 L1103.5 120.1 L1104.0 119.7 L1104.4 119.3 L1104.9 118.8 L1105.4 118.4 L1105.9 117.9 L1106.3 117.4 L1106.8 116.8 L1107.3 116.1 L1107.7 115.3 L1108.2 114.4 L1108.7 113.4 L1109.1 112.4 L1109.6 111.3 L1110.1 110.0 L1110.5 108.7 L1111.0 107.3 L1111.5 105.2 L1111.9 102.1 L1112.4 98.2 L1112.8 94.0 L1113.3 89.8 L1113.7 85.9 L1114.2 82.7 L1114.6 80.5 L1115.1 79.7 L1115.6 79.7 L1116.0 79.9 L1116.5 80.1 L1116.9 80.4 L1117.4 80.7 L1117.8 81.1 L1118.3 81.6 L1118.7 82.0 L1119.2 82.5 L1119.7 83.1 L1120.2 84.0 L1120.7 85.0 L1121.2 86.3 L1121.6 87.7 L1122.1 89.2 L1122.6 90.9 L1123.1 92.6 L1123.6 94.4 L1124.1 96.2 L1124.6 98.0 L1125.1 99.8 L1125.5 101.6 L1126.0 103.4 L1126.5 105.0 L1127.0 106.6 L1127.5 108.0 L1128.0 109.2 L1128.4 110.3 L1128.9 111.3 L1129.4 112.3 L1129.8 113.3 L1130.3 114.4 L1130.8 115.5 L1131.3 116.8 L1131.7 118.3 L1132.2 120.0 L1132.7 122.1 L1133.1 124.6 L1133.6 127.7 L1134.1 131.3 L1134.5 135.4 L1135.0 140.0 L1135.4 147.2 L1135.9 156.1 L1136.3 161.5 L1136.7 163.3 L1137.2 164.8 L1137.6 166.0 L1138.1 166.9 L1138.5 167.7 L1139.0 168.3 L1139.4 168.8 L1139.9 169.4 L1140.4 169.9 L1140.9 170.4 L1141.4 170.9 L1141.8 171.4 L1142.3 171.8 L1142.8 172.2 L1143.3 172.6 L1143.8 173.0 L1144.3 173.3 L1144.8 173.6 L1145.3 173.8 L1145.7 174.0 L1146.2 174.2 L1146.7 174.3 L1147.2 174.4 L1147.7 174.4 L1148.2 174.4 L1148.7 174.4 L1149.1 174.4 L1149.6 174.4 L1150.1 174.4 L1150.6 174.4 L1151.0 174.4 L1151.5 174.4 L1152.0 174.4 L1152.5 174.4 L1152.9 174.4 L1153.4 174.4 L1153.9 174.4 L1154.3 174.0 L1154.7 173.0 L1155.2 171.5 L1155.6 169.7 L1156.0 167.7 L1156.4 164.2 L1156.8 158.8 L1157.3 152.8 L1157.7 147.7 L1158.1 144.9 L1158.6 143.7 L1159.0 142.8 L1159.5 142.1 L1159.9 141.6 L1160.4 141.1 L1160.8 140.6 L1161.3 140.1 L1161.7 139.5 L1162.2 138.7 L1162.7 137.7 L1163.1 136.5 L1163.6 135.2 L1164.1 133.8 L1164.5 132.3 L1165.0 130.7 L1165.5 129.2 L1166.0 127.6 L1166.4 126.1 L1166.9 124.7 L1167.4 123.4 L1167.8 122.2 L1168.3 121.2 L1168.8 120.2 L1169.3 119.2 L1169.8 118.1 L1170.3 117.1 L1170.8 116.2 L1171.3 115.3 L1171.8 114.5 L1172.3 113.8 L1172.8 113.3 L1173.3 113.0 L1173.8 112.9 L1174.3 113.1 L1174.8 113.7 L1175.3 114.7 L1175.8 115.8 L1176.3 117.0 L1176.8 118.4 L1177.3 119.6 L1177.8 120.7 L1178.3 121.7 L1178.8 122.3 L1179.3 122.5 L1179.8 122.3 L1180.3 121.9 L1180.8 121.2 L1181.3 120.3 L1181.7 119.2 L1182.2 117.9 L1182.7 116.4 L1183.2 114.8 L1183.7 113.1 L1184.2 111.3 L1184.7 109.5 L1185.2 107.7 L1185.6 105.9 L1186.1 104.1 L1186.6 102.3 L1187.1 100.7 L1187.6 99.1 L1188.1 97.6 L1188.6 96.1 L1189.1 94.5 L1189.6 92.9 L1190.0 91.3 L1190.5 89.6 L1191.0 88.0 L1191.5 86.3 L1192.0 84.7 L1192.5 83.0 L1193.0 81.3 L1193.5 79.7 L1193.9 78.0 L1194.4 76.3 L1194.9 74.7 L1195.4 73.0 L1195.9 71.4 L1196.4 69.7 L1196.8 67.8 L1197.3 65.8 L1197.8 63.7 L1198.2 61.8 L1198.7 60.1 L1199.2 58.8 L1199.6 57.9 L1200.1 57.6 L1200.6 58.2 L1201.0 60.0 L1201.5 62.6 L1201.9 66.1 L1202.4 70.0 L1202.8 74.4 L1203.3 79.0 L1203.7 83.6 L1204.2 88.0 L1204.7 92.6 L1205.1 97.9 L1205.6 103.6 L1206.0 109.7 L1206.5 115.9 L1206.9 122.3 L1207.4 128.6 L1207.8 134.7 L1208.3 140.5 L1208.8 146.1 L1209.2 151.6 L1209.7 157.0 L1210.2 162.4 L1210.6 167.7 L1211.1 173.1 L1211.6 178.6 L1212.0 184.2 L1212.5 190.0 L1213.0 196.6 L1213.5 203.7 L1214.0 211.1 L1214.5 218.5 L1215.0 225.8 L1215.5 232.8 L1216.0 239.2 L1216.5 245.0 L1217.0 250.2 L1217.5 255.1 L1218.0 259.7 L1218.5 264.1 L1219.0 268.3 L1219.5 272.3 L1220.0 276.3 L1220.5 280.2 L1221.0 284.1 L1221.5 287.9 L1222.0 291.9 L1222.5 295.9 L1223.0 300.0 L1223.5 304.1 L1224.0 308.1 L1224.4 312.3 L1224.9 316.4 L1225.4 320.6 L1225.9 324.7 L1226.3 328.8 L1226.8 332.9 L1227.3 337.0 L1227.8 340.9 L1228.3 344.9 L1228.7 348.7 L1229.2 352.5 L1229.7 356.1 L1230.2 359.6 L1230.6 363.1 L1231.1 366.5 L1231.6 369.9 L1232.0 373.3 L1232.5 376.6 L1233.0 379.8 L1233.4 382.9 L1233.9 385.9 L1234.4 388.8 L1234.8 391.6 L1235.3 394.3 L1235.8 397.2 L1236.3 400.3 L1236.8 403.5 L1237.3 406.6 L1237.8 409.5 L1238.3 411.9 L1238.8 413.9 L1239.3 415.1 L1239.8 415.6 L1240.3 415.1 L1240.8 413.9 L1241.3 412.2 L1241.7 410.2 L1242.2 408.3 L1242.7 406.6 L1243.2 405.5 L1243.7 404.8 L1244.1 404.1 L1244.6 403.5 L1245.1 402.9 L1245.6 402.5 L1246.0 402.2 L1246.5 402.1 L1247.0 402.1 L1247.4 402.2 L1247.9 402.3 L1248.4 402.4 L1248.8 402.5 L1249.3 402.6 L1249.8 402.8 L1250.2 402.9 L1250.7 403.0 L1251.2 403.1 L1251.6 403.2 L1252.1 403.2 L1252.6 403.0 L1253.1 402.5 L1253.6 401.7 L1254.1 400.6 L1254.6 399.4 L1255.1 398.1 L1255.6 396.8 L1256.1 395.5 L1256.6 394.3 L1257.1 393.0 L1257.6 391.5 L1258.1 389.9 L1258.6 388.2 L1259.1 386.6 L1259.6 385.0 L1260.1 383.7 L1260.6 382.6 L1261.1 381.9 L1261.6 381.4 L1262.1 381.0 L1262.6 380.5 L1263.0 380.2 L1263.5 379.9 L1264.0 379.8 L1264.5 379.7 L1265.0 379.9 L1265.5 380.6 L1266.0 381.4 L1266.4 382.1 L1266.9 382.8 L1267.4 383.0 L1267.9 382.3 L1268.3 380.3 L1268.8 377.4 L1269.2 374.1 L1269.6 370.6 L1270.1 367.3 L1270.6 363.8 L1271.1 360.0 L1271.6 355.8 L1272.0 351.4 L1272.5 346.7 L1273.0 342.0 L1273.5 337.2 L1274.0 332.3 L1274.5 327.5 L1275.0 322.8 L1275.5 318.3 L1276.0 314.0 L1276.4 309.9 L1276.9 306.2 L1277.4 302.9 L1277.9 300.0 L1278.3 298.0 L1278.7 296.3 L1279.2 294.7 L1279.6 293.0 L1280.0 291.0 L1280.5 288.2 L1280.9 285.2 L1281.4 281.8 L1281.9 278.1 L1282.4 274.1 L1282.8 270.0 L1283.3 265.6 L1283.8 261.1 L1284.2 256.4 L1284.7 251.7 L1285.2 246.8 L1285.7 241.9 L1286.1 236.9 L1286.6 232.0 L1287.1 226.6 L1287.6 220.8 L1288.1 214.7 L1288.6 208.3 L1289.1 201.8 L1289.6 195.2 L1290.1 188.4 L1290.6 181.7 L1291.1 175.0 L1291.6 168.5 L1292.1 162.1 L1292.6 155.9 L1293.1 150.0 L1293.6 144.5 L1294.1 139.0 L1294.6 133.7 L1295.1 128.4 L1295.5 123.3 L1296.0 118.2 L1296.5 113.2 L1297.0 108.2 L1297.5 103.3 L1298.0 97.9 L1298.5 91.9 L1299.0 85.6 L1299.5 79.4 L1300.0 73.6 L1300.5 68.5 L1301.0 64.4 L1301.5 61.8 L1302.0 60.8 L1302.5 61.2 L1303.0 62.2 L1303.5 63.8 L1303.9 65.9 L1304.4 68.4 L1304.9 71.2 L1305.4 74.2 L1305.9 77.3 L1306.3 80.4 L1306.8 83.4 L1307.3 86.2 L1307.8 88.7 L1308.3 91.1 L1308.8 93.5 L1309.3 95.8 L1309.8 98.2 L1310.3 100.5 L1310.8 102.9 L1311.2 105.3 L1311.7 107.8 L1312.2 110.2 L1312.7 112.8 L1313.2 115.3 L1313.7 118.0 L1314.2 120.7 L1314.7 123.7 L1315.2 126.7 L1315.6 129.9 L1316.1 133.1 L1316.6 136.3 L1317.1 139.4 L1317.6 142.5 L1318.0 145.5 L1318.5 148.3 L1319.0 150.9 L1319.5 153.2 L1320.0 155.5 L1320.5 157.9 L1321.0 160.3 L1321.5 162.7 L1322.0 165.0 L1322.5 167.3 L1322.9 169.4 L1323.4 171.3 L1323.9 172.9 L1324.4 174.3 L1324.9 175.3 L1325.4 176.0 L1325.9 176.2 L1326.4 175.9 L1326.9 175.0 L1327.4 173.7 L1327.9 172.2 L1328.3 170.5 L1328.8 168.8 L1329.3 167.3 L1329.8 166.0 L1330.3 165.1 L1330.8 164.8 L1331.3 164.9 L1331.8 165.2 L1332.2 165.6 L1332.7 166.1 L1333.2 166.8 L1333.7 167.5 L1334.2 168.3 L1334.7 169.2 L1335.1 170.1 L1335.6 171.0 L1336.1 171.9 L1336.6 172.8 L1337.1 173.7 L1337.6 174.4 L1338.0 175.1 L1338.5 175.7 L1339.0 176.2 L1339.5 176.6 L1340.0 176.9 L1340.4 177.2 L1340.9 177.5 L1341.4 177.7 L1341.9 177.9 L1342.4 178.2 L1342.9 178.4 L1343.3 178.6 L1343.8 178.8 L1344.3 179.0 L1344.8 179.3 L1345.3 179.6 L1345.8 179.9 L1346.2 180.2 L1346.7 180.6 L1347.2 181.1 L1347.7 181.8 L1348.1 182.9 L1348.6 184.3 L1349.1 186.0 L1349.6 187.8 L1350.0 189.8 L1350.5 191.8 L1351.0 193.8 L1351.4 195.6 L1351.9 197.3 L1352.4 198.7 L1352.9 199.8 L1353.3 200.5 L1353.8 200.8 L1354.3 200.7 L1354.8 200.4 L1355.2 199.9 L1355.7 199.2 L1356.2 198.3 L1356.7 197.3 L1357.2 196.3 L1357.7 195.1 L1358.1 193.8 L1358.6 192.4 L1359.1 191.0 L1359.6 189.6 L1360.1 188.2 L1360.6 186.8 L1361.0 185.4 L1361.5 184.1 L1362.0 182.8 L1362.5 181.5 L1363.0 180.2 L1363.5 178.9 L1364.0 177.6 L1364.5 176.2 L1365.0 174.8 L1365.5 173.4 L1366.0 171.9 L1366.5 170.3 L1367.0 168.6 L1367.5 166.9 L1368.0 165.0 L1368.5 163.1 L1369.0 161.0 L1369.5 158.6 L1370.0 156.0 L1370.5 153.2 L1371.0 150.3 L1371.5 147.4 L1372.0 144.4 L1372.5 141.4 L1373.0 138.1 L1373.5 134.6 L1373.9 131.0 L1374.4 127.2 L1374.9 123.4 L1375.4 119.6 L1375.9 115.8 L1376.4 112.1 L1376.9 108.5 L1377.4 105.1 L1377.8 102.0 L1378.3 99.1 L1378.8 96.6 L1379.3 94.5 L1379.8 92.5 L1380.3 90.6 L1380.8 88.6 L1381.3 86.7 L1381.8 84.9 L1382.3 83.1 L1382.8 81.4 L1383.2 79.8 L1383.7 78.4 L1384.2 77.2 L1384.7 76.1 L1385.2 75.2 L1385.7 74.5 L1386.2 74.1 L1386.7 74.0 L1387.2 74.0 L1387.7 74.0 L1388.2 74.0 L1388.6 74.0 L1389.1 74.0 L1389.6 74.0 L1390.1 74.9 L1390.6 77.2 L1391.1 80.7 L1391.6 84.9 L1392.0 89.4 L1392.5 93.9 L1393.0 98.0 L1393.5 101.2 L1394.0 103.3 L1394.5 104.6 L1395.0 105.8 L1395.5 106.9 L1395.9 107.9 L1396.4 108.8 L1396.9 109.7 L1397.4 110.5 L1397.9 111.2 L1398.4 111.9 L1398.9 112.5 L1399.4 113.1 L1399.8 113.6 L1400.3 114.1 L1400.8 114.6 L1401.3 115.1 L1401.8 115.6 L1402.3 116.0 L1402.8 116.5 L1403.3 117.0 L1403.7 117.4 L1404.2 117.8 L1404.7 118.3 L1405.2 118.7 L1405.7 119.0 L1406.2 119.4 L1406.7 119.7 L1407.2 120.0 L1407.7 120.3 L1408.1 120.5 L1408.6 120.7 L1409.1 120.8 L1409.6 120.9 L1410.1 120.9 L1410.6 120.8 L1411.1 120.5 L1411.6 120.0 L1412.1 119.4 L1412.5 118.7 L1413.0 117.9 L1413.5 117.0 L1414.0 116.1 L1414.5 115.1 L1415.0 113.8 L1415.5 111.9 L1416.0 109.5 L1416.5 106.8 L1417.0 103.9 L1417.5 100.9 L1417.9 98.0 L1418.4 95.3 L1418.9 92.8 L1419.4 90.8 L1419.9 89.4 L1420.4 88.7 L1420.9 88.4 L1421.4 88.1 L1421.9 87.8 L1422.4 87.5 L1422.8 87.3 L1423.3 87.0 L1423.8 86.8 L1424.3 86.6 L1424.8 86.5 L1425.3 86.3 L1425.8 86.2 L1426.3 86.0 L1426.8 85.9 L1427.2 85.9 L1427.7 85.8 L1428.2 85.7 L1428.7 85.7 L1429.2 85.7 L1429.7 85.7 L1430.2 85.8 L1430.7 85.9 L1431.2 86.0 L1431.6 86.2 L1432.1 86.4 L1432.6 86.6 L1433.1 86.9 L1433.6 87.2 L1434.1 88.1 L1434.6 90.2 L1435.1 92.9 L1435.6 96.2 L1436.0 99.6 L1436.5 102.9 L1437.0 105.8 L1437.5 108.0 L1438.0 109.2 L1438.5 109.7 L1439.0 110.3 L1439.5 110.7 L1440.0 111.1 L1440.4 111.5 L1440.9 111.7 L1441.4 111.9 L1441.9 112.1 L1442.4 112.1 L1442.9 112.1 L1443.4 112.0 L1443.9 111.9 L1444.4 111.8 L1444.8 111.6 L1445.3 111.4 L1445.8 111.1 L1446.3 110.8 L1446.8 110.4 L1447.3 110.0 L1447.8 109.6 L1448.2 109.0 L1448.7 108.5 L1449.2 107.9 L1449.7 107.2 L1450.2 106.5 L1450.7 105.8 L1451.2 105.0 L1451.7 104.1 L1452.1 103.2 L1452.6 102.2 L1453.1 101.1 L1453.6 100.1 L1454.1 98.9" stroke="#ff00ff"/>
<path d="M1069.0 92.0 L1069.5 89.5 L1069.9 87.1 L1070.4 84.7 L1070.8 82.6 L1071.3 80.9 L1071.7 79.5 L1072.2 78.8 L1072.7 78.4 L1073.2 78.0 L1073.7 77.6 L1074.2 77.3 L1074.7 77.0 L1075.2 76.8 L1075.7 76.5 L1076.2 76.3 L1076.7 76.2 L1077.2 76.0 L1077.7 75.9 L1078.2 75.8 L1078.7 75.7 L1079.2 75.6 L1079.7 75.5 L1080.2 75.4 L1080.7 75.4 L1081.2 75.3 L1081.6 75.2 L1082.1 75.2 L1082.6 75.1 L1083.1 75.1 L1083.6 75.0 L1084.1 75.0 L1084.6 74.9 L1085.1 74.9 L1085.5 74.9 L1086.0 74.8 L1086.5 74.8 L1087.0 74.8 L1087.5 74.8 L1088.0 75.1 L1088.4 76.0 L1088.9 77.4 L1089.3 79.1 L1089.8 81.1 L1090.2 83.2 L1090.7 85.3 L1091.1 87.5 L1091.6 89.4 L1092.1 91.5 L1092.5 94.0 L1093.0 96.8 L1093.5 99.6 L1093.9 102.3 L1094.4 104.7 L1094.9 106.7 L1095.3 108.1 L1095.8 108.7 L1096.3 108.8 L1096.8 109.0 L1097.2 109.1 L1097.7 109.2 L1098.2 109.4 L1098.7 109.5 L1099.2 109.6 L1099.6 109.6 L1100.1 109.7 L1100.6 109.8 L1101.1 109.8 L1101.6 109.9 L1102.0 110.0 L1102.5 110.0 L1103.0 110.0 L1103.5 110.1 L1104.0 110.1 L1104.4 110.1 L1104.9 110.1 L1105.4 110.1 L1105.9 110.1 L1106.3 110.0 L1106.8 109.9 L1107.3 109.8 L1107.7 109.7 L1108.2 109.5 L1108.7 109.2 L1109.1 109.0 L1109.6 108.7 L1110.1 107.6 L1110.5 105.2 L1111.0 101.8 L1111.4 97.7 L1111.9 93.5 L1112.3 89.3 L1112.8 85.6 L1113.2 82.7 L1113.7 81.1 L1114.1 80.3 L1114.5 79.5 L1115.0 78.9 L1115.4 78.5 L1115.8 78.4 L1116.3 78.6 L1116.8 79.3 L1117.3 80.2 L1117.7 81.4 L1118.2 82.7 L1118.7 84.0 L1119.2 85.2 L1119.7 86.4 L1120.2 87.7 L1120.7 89.1 L1121.2 90.6 L1121.6 92.1 L1122.1 93.7 L1122.6 95.4 L1123.1 97.0 L1123.6 98.6 L1124.1 100.3 L1124.6 101.9 L1125.1 103.5 L1125.5 105.0 L1126.0 106.4 L1126.5 107.7 L1127.0 109.0 L1127.5 110.1 L1128.0 111.0 L1128.5 111.7 L1128.9 112.3 L1129.4 112.8 L1129.9 113.3 L1130.3 113.8 L1130.8 114.3 L1131.3 115.0 L1131.8 115.8 L1132.2 116.9 L1132.7 118.3 L1133.2 120.0 L1133.7 129.4 L1134.2 140.0 L1134.7 143.3 L1135.1 145.8 L1135.5 147.6 L1136.0 149.0 L1136.5 150.2 L1137.0 151.3 L1137.4 152.1 L1137.9 152.8 L1138.4 153.2 L1138.9 153.5 L1139.4 153.7 L1139.8 153.9 L1140.3 154.2 L1140.8 154.3 L1141.3 154.5 L1141.8 154.7 L1142.2 154.8 L1142.7 155.0 L1143.2 155.1 L1143.7 155.1 L1144.2 155.2 L1144.6 155.3 L1145.1 155.3 L1145.6 155.3 L1146.1 155.3 L1146.6 155.2 L1147.1 155.1 L1147.5 155.0 L1148.0 154.9 L1148.5 154.7 L1149.0 154.4 L1149.5 154.2 L1150.0 153.8 L1150.5 153.5 L1151.0 153.1 L1151.4 152.7 L1151.9 152.2 L1152.4 151.7 L1152.9 151.1 L1153.3 150.1 L1153.7 148.2 L1154.2 145.8 L1154.6 143.2 L1155.0 140.7 L1155.4 137.9 L1155.9 134.6 L1156.3 131.1 L1156.8 127.7 L1157.2 124.5 L1157.7 121.9 L1158.1 120.0 L1158.6 118.6 L1159.1 117.3 L1159.6 116.3 L1160.1 115.3 L1160.6 114.5 L1161.0 113.7 L1161.5 113.0 L1162.0 112.3 L1162.5 111.5 L1163.0 110.7 L1163.5 109.8 L1164.0 108.7 L1164.5 107.5 L1165.0 106.2 L1165.4 104.8 L1165.9 103.3 L1166.4 101.8 L1166.9 100.3 L1167.3 98.9 L1167.8 97.5 L1168.3 96.3 L1168.8 95.1 L1169.3 93.7 L1169.8 92.4 L1170.3 91.0 L1170.8 89.7 L1171.3 88.5 L1171.8 87.4 L1172.3 86.5 L1172.8 85.8 L1173.3 85.4 L1173.8 85.2 L1174.3 85.3 L1174.7 85.6 L1175.2 86.1 L1175.7 86.7 L1176.1 87.3 L1176.6 88.0 L1177.1 88.9 L1177.5 90.2 L1178.0 91.7 L1178.4 93.4 L1178.9 95.1 L1179.3 96.7 L1179.8 97.9 L1180.2 98.8 L1180.7 99.1 L1181.2 98.8 L1181.7 97.8 L1182.2 96.3 L1182.7 94.5 L1183.2 92.4 L1183.7 90.2 L1184.2 88.0 L1184.7 85.8 L1185.2 83.9 L1185.7 82.3 L1186.2 81.1 L1186.7 80.3 L1187.1 79.6 L1187.6 78.9 L1188.1 78.4 L1188.5 77.8 L1189.0 77.3 L1189.5 76.8 L1189.9 76.3 L1190.4 75.8 L1190.9 75.3 L1191.3 74.8 L1191.8 74.2 L1192.3 73.6 L1192.7 73.1 L1193.2 72.6 L1193.6 72.0 L1194.1 71.5 L1194.5 70.9 L1195.0 70.2 L1195.4 69.5 L1195.9 68.7 L1196.4 67.5 L1196.8 65.9 L1197.3 63.9 L1197.8 61.8 L1198.2 59.8 L1198.7 57.9 L1199.2 56.3 L1199.6 55.3 L1200.1 54.9 L1200.6 55.5 L1201.0 57.3 L1201.5 60.0 L1201.9 63.4 L1202.4 67.4 L1202.8 71.8 L1203.3 76.3 L1203.7 80.9 L1204.2 85.2 L1204.7 89.7 L1205.1 94.8 L1205.6 100.3 L1206.0 106.1 L1206.5 112.0 L1206.9 118.0 L1207.4 123.9 L1207.8 129.6 L1208.3 135.0 L1208.8 140.2 L1209.2 145.2 L1209.7 150.0 L1210.2 154.8 L1210.7 159.7 L1211.1 164.7 L1211.6 170.0 L1212.1 175.7 L1212.6 181.6 L1213.1 187.6 L1213.6 193.7 L1214.0 199.9 L1214.5 206.3 L1215.0 212.8 L1215.5 219.3 L1216.0 226.0 L1216.5 232.9 L1217.0 240.2 L1217.4 247.5 L1217.9 254.6 L1218.4 261.2 L1218.9 267.3 L1219.4 273.2 L1219.9 278.8 L1220.3 284.2 L1220.8 289.6 L1221.3 294.8 L1221.8 300.0 L1222.3 305.0 L1222.7 310.1 L1223.2 315.1 L1223.7 320.1 L1224.1 325.1 L1224.6 329.9 L1225.1 334.7 L1225.5 339.3 L1226.0 343.8 L1226.5 348.1 L1226.9 352.2 L1227.4 356.1 L1227.9 359.9 L1228.4 363.5 L1228.8 367.1 L1229.3 370.5 L1229.8 373.9 L1230.2 377.1 L1230.7 380.3 L1231.2 383.3 L1231.7 386.2 L1232.1 389.0 L1232.6 391.7 L1233.1 394.3 L1233.6 396.9 L1234.0 399.6 L1234.5 402.3 L1235.0 405.1 L1235.4 407.8 L1235.9 410.3 L1236.4 412.7 L1236.8 414.7 L1237.3 416.4 L1237.8 417.8 L1238.2 418.6 L1238.7 418.9 L1239.2 418.5 L1239.6 417.5 L1240.1 416.0 L1240.6 414.4 L1241.1 412.9 L1241.5 411.7 L1242.0 411.1 L1242.5 410.8 L1243.0 410.6 L1243.5 410.4 L1243.9 410.2 L1244.4 410.1 L1244.9 410.0 L1245.4 410.0 L1245.9 410.0 L1246.4 410.1 L1246.8 410.1 L1247.3 410.2 L1247.8 410.3 L1248.3 410.4 L1248.8 410.6 L1249.2 410.7 L1249.7 410.8 L1250.2 410.9 L1250.7 411.0 L1251.1 411.0 L1251.6 411.1 L1252.1 411.1 L1252.6 410.9 L1253.1 410.2 L1253.6 409.1 L1254.1 407.8 L1254.6 406.2 L1255.1 404.4 L1255.6 402.4 L1256.0 400.5 L1256.5 398.5 L1257.0 396.5 L1257.5 394.7 L1258.0 393.1 L1258.5 391.8 L1259.0 390.7 L1259.5 390.0 L1260.0 389.8 L1260.5 389.8 L1260.9 389.8 L1261.4 389.8 L1261.9 389.8 L1262.4 389.8 L1262.8 389.8 L1263.3 389.8 L1263.8 389.6 L1264.3 389.0 L1264.8 388.0 L1265.2 386.7 L1265.7 385.0 L1266.2 383.0 L1266.7 380.8 L1267.1 377.1 L1267.4 371.7 L1267.8 367.3 L1268.3 363.8 L1268.8 360.8 L1269.3 358.4 L1269.8 356.2 L1270.3 354.2 L1270.8 352.2 L1271.3 350.1 L1271.8 347.7 L1272.3 344.9 L1272.8 341.9 L1273.2 338.8 L1273.7 335.4 L1274.2 331.9 L1274.6 328.2 L1275.1 324.4 L1275.6 320.4 L1276.0 316.4 L1276.5 312.4 L1277.0 308.3 L1277.4 304.1 L1277.9 300.0 L1278.3 296.0 L1278.7 291.5 L1279.2 287.1 L1279.6 283.1 L1280.0 280.0 L1280.5 277.2 L1281.0 275.0 L1281.5 273.1 L1282.0 271.5 L1282.5 269.9 L1283.0 268.2 L1283.5 266.2 L1284.0 263.9 L1284.5 261.0 L1285.0 257.2 L1285.5 252.1 L1285.9 246.0 L1286.4 239.2 L1286.9 231.7 L1287.4 224.0 L1287.9 216.2 L1288.3 208.7 L1288.8 201.5 L1289.3 195.0 L1289.8 188.9 L1290.3 182.9 L1290.7 176.9 L1291.2 171.0 L1291.7 165.2 L1292.2 159.5 L1292.7 153.9 L1293.2 148.5 L1293.6 143.2 L1294.1 138.0 L1294.6 133.0 L1295.1 127.9 L1295.6 122.8 L1296.1 117.7 L1296.6 112.7 L1297.1 107.7 L1297.5 102.9 L1298.0 98.3 L1298.5 93.9 L1299.0 89.8 L1299.5 86.1 L1300.0 82.8 L1300.5 79.9 L1301.0 77.2 L1301.5 74.5 L1302.0 72.1 L1302.4 70.0 L1302.9 68.6 L1303.4 68.1 L1303.9 68.5 L1304.4 69.7 L1304.9 71.5 L1305.4 73.8 L1305.8 76.4 L1306.3 79.4 L1306.8 82.5 L1307.3 85.6 L1307.8 88.7 L1308.3 91.9 L1308.8 95.5 L1309.3 99.5 L1309.8 103.8 L1310.2 108.3 L1310.7 112.9 L1311.2 117.5 L1311.7 122.2 L1312.2 126.8 L1312.7 131.4 L1313.2 136.0 L1313.7 140.7 L1314.2 145.5 L1314.6 150.3 L1315.1 155.2 L1315.6 160.3 L1316.1 165.3 L1316.6 170.5 L1317.0 174.6 L1317.3 178.7 L1317.7 182.8 L1318.2 188.0 L1318.7 193.2 L1319.2 198.3 L1319.7 203.3 L1320.2 208.2 L1320.6 213.1 L1321.1 218.0 L1321.6 222.7 L1322.1 227.4 L1322.6 232.0 L1323.1 236.6 L1323.6 241.4 L1324.1 246.2 L1324.6 251.0 L1325.0 255.6 L1325.5 260.1 L1326.0 264.3 L1326.5 268.1 L1327.0 271.6 L1327.5 274.6 L1328.0 277.1 L1328.4 279.5 L1328.9 281.7 L1329.4 283.7 L1329.9 285.6 L1330.3 287.5 L1330.8 289.2 L1331.3 290.9 L1331.7 292.6 L1332.2 294.2 L1332.7 295.8 L1333.2 297.4 L1333.6 299.1 L1334.1 300.8 L1334.6 302.6 L1335.0 304.6 L1335.5 306.8 L1336.0 308.9 L1336.5 311.1 L1336.9 313.3 L1337.4 315.4 L1337.9 317.3 L1338.3 319.1 L1338.8 320.7 L1339.3 322.0 L1339.8 323.0 L1340.2 323.6 L1340.7 323.8 L1341.2 323.5 L1341.7 322.7 L1342.2 321.4 L1342.7 319.7 L1343.2 317.8 L1343.7 315.7 L1344.2 313.6 L1344.7 311.4 L1345.2 309.4 L1345.7 307.5 L1346.2 306.0 L1346.7 304.8 L1347.2 304.1 L1347.7 303.7 L1348.1 303.4 L1348.6 303.1 L1349.1 302.9 L1349.6 302.7 L1350.0 302.5 L1350.5 302.4 L1351.0 302.2 L1351.4 302.0 L1351.9 301.9 L1352.4 301.7 L1352.9 301.4 L1353.3 301.1 L1353.8 300.8 L1354.3 300.3 L1354.8 299.6 L1355.3 298.8 L1355.8 297.8 L1356.2 296.7 L1356.7 295.4 L1357.2 294.1 L1357.7 292.8 L1358.2 291.4 L1358.7 290.0 L1359.2 288.6 L1359.7 287.3 L1360.2 286.0 L1360.7 284.9 L1361.1 283.8 L1361.6 282.9 L1362.1 282.2 L1362.6 281.6 L1363.1 281.2 L1363.6 281.1 L1364.1 281.5 L1364.5 282.4 L1365.0 283.7 L1365.5 285.1 L1366.0 286.4 L1366.4 287.3 L1366.9 287.7 L1367.4 287.3 L1367.9 286.1 L1368.4 284.2 L1368.9 281.9 L1369.3 279.2 L1369.8 276.3 L1370.3 273.2 L1370.8 270.2 L1371.3 267.4 L1371.8 264.8 L1372.3 262.6 L1372.7 260.3 L1373.2 258.2 L1373.7 256.0 L1374.2 253.8 L1374.6 251.6 L1375.1 249.4 L1375.6 247.1 L1376.0 244.8 L1376.5 242.4 L1377.0 240.0 L1377.5 237.4 L1377.9 234.8 L1378.4 232.0 L1378.9 228.9 L1379.4 225.8 L1379.9 222.5 L1380.4 219.1 L1380.9 215.5 L1381.4 211.9 L1381.9 208.1 L1382.4 204.2 L1382.9 200.2 L1383.4 196.0 L1383.9 191.7 L1384.4 187.3 L1384.9 182.8 L1385.4 178.3 L1385.8 173.4 L1386.3 168.2 L1386.7 162.9 L1387.2 157.5 L1387.6 152.3 L1388.1 147.3 L1388.6 142.0 L1389.1 136.5 L1389.6 130.9 L1390.1 125.3 L1390.6 119.8 L1391.0 114.3 L1391.5 109.1 L1392.0 104.2 L1392.5 99.6 L1393.0 95.4 L1393.5 91.8 L1394.0 88.7 L1394.5 86.0 L1395.0 83.4 L1395.5 80.9 L1396.0 78.6 L1396.4 76.5 L1396.9 74.7 L1397.4 73.1 L1397.9 71.9 L1398.4 71.1 L1398.9 70.5 L1399.4 69.9 L1399.9 69.3 L1400.4 68.8 L1400.9 68.4 L1401.3 67.9 L1401.8 67.6 L1402.3 67.3 L1402.8 67.0 L1403.3 66.8 L1403.8 66.7 L1404.3 66.7 L1404.8 67.2 L1405.3 68.5 L1405.8 70.5 L1406.3 73.1 L1406.7 76.1 L1407.2 79.3 L1407.7 82.5 L1408.2 85.7 L1408.7 88.7 L1409.2 91.7 L1409.7 95.0 L1410.2 98.6 L1410.7 102.2 L1411.1 105.8 L1411.6 109.4 L1412.1 112.6 L1412.6 115.5 L1413.1 118.0 L1413.6 120.1 L1414.1 122.1 L1414.6 124.0 L1415.0 125.9 L1415.5 127.6 L1416.0 129.2 L1416.5 130.8 L1417.0 132.3 L1417.5 133.8 L1418.0 135.2 L1418.5 136.5 L1418.9 137.8 L1419.4 139.1 L1419.9 140.3 L1420.4 141.5 L1420.9 142.7 L1421.4 144.0 L1421.9 145.3 L1422.3 146.6 L1422.8 148.0 L1423.3 149.2 L1423.8 150.5 L1424.3 151.6 L1424.8 152.7 L1425.3 153.6 L1425.8 154.5 L1426.2 155.2 L1426.7 155.7 L1427.2 156.0 L1427.7 156.1 L1428.2 155.8 L1428.7 154.8 L1429.2 153.3 L1429.7 151.5 L1430.2 149.5 L1430.7 147.3 L1431.1 145.1 L1431.6 143.1 L1432.1 141.2 L1432.6 139.8 L1433.1 138.8 L1433.6 138.5 L1434.1 138.6 L1434.6 138.7 L1435.1 139.0 L1435.5 139.3 L1436.0 139.6 L1436.5 140.0 L1437.0 140.5 L1437.5 140.9 L1438.0 141.4 L1438.5 141.8 L1439.0 142.1 L1439.4 142.4 L1439.9 142.7 L1440.4 142.8 L1440.9 142.9 L1441.4 142.9 L1441.9 142.9 L1442.4 142.9 L1442.9 142.9 L1443.4 142.9 L1443.9 142.9 L1444.4 142.9 L1444.8 142.9 L1445.3 142.9 L1445.8 142.9 L1446.3 142.9 L1446.8 142.9 L1447.3 142.9 L1447.8 142.9 L1448.3 142.9 L1448.8 143.1 L1449.3 143.8 L1449.8 144.9 L1450.2 146.3 L1450.7 148.0 L1451.2 149.9 L1451.7 152.1 L1452.2 154.5 L1452.6 157.0 L1453.1 159.6 L1453.6 162.2 L1454.1 164.9" stroke="#0000ff"/>
<path d="M1069.0 182.0 L1069.5 180.8 L1069.9 179.5 L1070.4 178.4 L1070.9 177.3 L1071.4 176.4 L1071.8 175.6 L1072.3 175.0 L1072.8 174.5 L1073.3 174.2 L1073.8 173.8 L1074.3 173.5 L1074.8 173.3 L1075.3 173.0 L1075.8 172.8 L1076.2 172.6 L1076.7 172.4 L1077.2 172.2 L1077.7 171.9 L1078.2 171.6 L1078.7 171.3 L1079.2 170.9 L1079.7 170.4 L1080.2 169.8 L1080.7 169.0 L1081.2 168.2 L1081.6 167.3 L1082.1 166.3 L1082.6 165.3 L1083.1 164.3 L1083.6 163.3 L1084.1 162.4 L1084.6 161.5 L1085.1 160.7 L1085.5 159.9 L1086.0 159.3 L1086.5 158.9 L1087.0 158.6 L1087.5 158.5 L1088.0 158.8 L1088.5 159.6 L1089.0 160.8 L1089.5 162.2 L1090.0 163.9 L1090.5 165.5 L1091.0 167.2 L1091.5 168.6 L1092.0 169.8 L1092.5 170.6 L1093.0 170.9 L1093.5 170.7 L1094.0 170.0 L1094.5 168.9 L1095.0 167.4 L1095.5 165.7 L1096.0 163.7 L1096.5 161.6 L1096.9 159.3 L1097.4 157.0 L1097.9 154.6 L1098.4 152.3 L1098.9 150.0 L1099.4 147.9 L1099.9 146.0 L1100.4 144.3 L1100.9 142.6 L1101.4 141.0 L1101.9 139.4 L1102.3 137.8 L1102.8 136.3 L1103.3 134.7 L1103.8 133.1 L1104.3 131.5 L1104.8 129.8 L1105.3 128.1 L1105.8 126.3 L1106.2 124.4 L1106.7 122.4 L1107.2 120.3 L1107.7 118.0 L1108.2 115.6 L1108.7 113.0 L1109.1 110.0 L1109.6 106.6 L1110.0 102.9 L1110.5 99.2 L1110.9 95.4 L1111.4 91.7 L1111.8 88.3 L1112.3 85.2 L1112.8 82.1 L1113.2 78.9 L1113.7 75.7 L1114.2 72.6 L1114.6 69.6 L1115.1 67.0 L1115.6 64.7 L1116.0 63.0 L1116.5 61.8 L1117.0 60.9 L1117.5 60.1 L1118.0 59.4 L1118.5 58.7 L1119.0 58.1 L1119.5 57.5 L1120.0 57.1 L1120.5 56.7 L1121.0 56.4 L1121.5 56.3 L1122.0 56.2 L1122.5 56.2 L1123.0 56.2 L1123.5 56.2 L1124.0 56.2 L1124.4 56.2 L1124.9 56.2 L1125.4 56.2 L1125.9 56.2 L1126.4 56.2 L1126.9 56.2 L1127.4 56.2 L1127.9 56.2 L1128.3 56.2 L1128.8 56.2 L1129.3 56.2 L1129.8 56.2 L1130.3 56.2 L1130.8 57.6 L1131.2 61.2 L1131.7 66.1 L1132.2 71.5 L1132.6 76.3 L1133.1 79.7 L1133.6 82.2 L1134.1 84.6 L1134.6 86.7 L1135.1 88.8 L1135.6 90.6 L1136.1 92.4 L1136.6 94.0 L1137.1 95.4 L1137.6 96.8 L1138.1 98.0 L1138.6 99.1 L1139.1 100.1 L1139.6 101.0 L1140.1 101.9 L1140.6 102.7 L1141.1 103.4 L1141.6 104.2 L1142.1 104.8 L1142.6 105.5 L1143.1 106.1 L1143.6 106.7 L1144.1 107.3 L1144.6 107.9 L1145.1 108.5 L1145.6 109.2 L1146.1 109.8 L1146.5 110.5 L1147.0 111.2 L1147.5 111.8 L1148.0 112.4 L1148.5 113.0 L1149.0 113.5 L1149.5 114.0 L1150.0 114.5 L1150.4 114.9 L1150.9 115.2 L1151.4 115.4 L1151.9 115.6 L1152.4 115.6 L1152.9 115.0 L1153.3 113.5 L1153.8 111.2 L1154.2 108.4 L1154.7 105.4 L1155.1 102.4 L1155.6 99.8 L1156.0 97.6 L1156.5 96.3 L1157.0 95.4 L1157.5 94.6 L1158.0 93.9 L1158.5 93.3 L1159.0 92.8 L1159.5 92.4 L1160.0 92.2 L1160.5 92.1 L1161.0 91.9 L1161.5 91.8 L1162.0 91.7 L1162.4 91.6 L1162.9 91.6 L1163.4 91.5 L1163.9 91.5 L1164.4 91.4 L1164.9 91.4 L1165.4 91.3 L1165.9 91.2 L1166.3 91.2 L1166.8 91.1 L1167.3 91.0 L1167.8 90.9 L1168.3 90.8 L1168.8 90.6 L1169.3 90.4 L1169.8 90.1 L1170.3 89.7 L1170.8 89.4 L1171.3 89.0 L1171.8 88.7 L1172.3 88.4 L1172.8 88.2 L1173.3 88.1 L1173.8 88.0 L1174.3 88.4 L1174.8 89.6 L1175.3 91.3 L1175.8 93.4 L1176.3 95.8 L1176.8 98.2 L1177.3 100.6 L1177.8 102.7 L1178.3 104.4 L1178.8 105.6 L1179.3 106.0 L1179.8 105.9 L1180.3 105.6 L1180.8 105.2 L1181.3 104.6 L1181.7 103.9 L1182.2 103.1 L1182.7 102.1 L1183.2 101.1 L1183.7 100.0 L1184.2 98.9 L1184.7 97.7 L1185.2 96.5 L1185.6 95.3 L1186.1 94.1 L1186.6 93.0 L1187.1 91.9 L1187.6 90.8 L1188.1 89.8 L1188.6 88.7 L1189.1 87.6 L1189.6 86.5 L1190.1 85.4 L1190.6 84.3 L1191.0 83.1 L1191.5 81.9 L1192.0 80.7 L1192.5 79.4 L1193.0 78.2 L1193.5 76.9 L1194.0 75.5 L1194.5 74.2 L1195.0 72.8 L1195.4 71.1 L1195.9 69.2 L1196.4 67.2 L1196.8 65.2 L1197.3 63.3 L1197.8 61.4 L1198.2 59.7 L1198.7 58.3 L1199.2 57.2 L1199.6 56.5 L1200.1 56.2 L1200.6 56.3 L1201.0 56.5 L1201.5 56.8 L1201.9 57.3 L1202.4 57.8 L1202.8 58.4 L1203.3 59.0 L1203.7 59.7 L1204.2 60.4 L1204.7 61.3 L1205.2 62.3 L1205.7 63.6 L1206.2 65.1 L1206.7 66.7 L1207.2 68.5 L1207.7 70.3 L1208.1 72.3 L1208.6 74.4 L1209.1 76.5 L1209.6 78.6 L1210.1 80.8 L1210.6 83.0 L1211.1 85.2 L1211.6 87.5 L1212.1 89.9 L1212.6 92.5 L1213.1 95.2 L1213.6 97.9 L1214.1 100.8 L1214.6 103.7 L1215.1 106.7 L1215.6 109.7 L1216.1 112.6 L1216.6 115.6 L1217.1 118.5 L1217.6 121.3 L1218.1 124.2 L1218.5 127.2 L1219.0 130.2 L1219.5 133.3 L1220.0 136.6 L1220.5 140.0 L1221.0 144.0 L1221.5 148.4 L1222.0 153.1 L1222.5 157.6 L1223.0 161.7 L1223.5 165.0 L1224.0 167.6 L1224.5 170.0 L1225.0 172.0 L1225.5 174.0 L1226.0 175.9 L1226.5 178.0 L1227.0 180.0 L1227.4 182.1 L1227.9 184.3 L1228.3 186.4 L1228.8 188.5 L1229.2 190.5 L1229.7 192.3 L1230.1 193.9 L1230.6 195.3 L1231.1 196.6 L1231.6 197.8 L1232.0 199.1 L1232.5 200.3 L1233.0 201.5 L1233.5 202.7 L1233.9 203.8 L1234.4 204.9 L1234.9 205.9 L1235.4 206.8 L1235.9 207.7 L1236.3 208.5 L1236.8 209.1 L1237.3 209.7 L1237.8 210.2 L1238.2 210.5 L1238.7 210.7 L1239.2 210.8 L1239.7 210.4 L1240.1 209.1 L1240.6 207.3 L1241.1 205.0 L1241.6 202.4 L1242.0 199.7 L1242.5 197.0 L1243.0 194.5 L1243.5 192.5 L1243.9 190.9 L1244.4 190.1 L1244.9 189.7 L1245.3 189.4 L1245.8 189.1 L1246.3 188.9 L1246.8 188.7 L1247.2 188.5 L1247.7 188.4 L1248.2 188.2 L1248.7 188.0 L1249.1 187.8 L1249.6 187.5 L1250.1 187.2 L1250.5 186.9 L1251.0 186.6 L1251.5 186.2 L1251.9 185.9 L1252.4 185.5 L1252.8 185.1 L1253.3 184.6 L1253.8 184.2 L1254.2 183.7 L1254.7 183.2 L1255.2 182.6 L1255.6 181.8 L1256.1 180.9 L1256.6 179.8 L1257.0 178.8 L1257.5 177.7 L1258.0 176.6 L1258.5 175.6 L1258.9 174.7 L1259.4 173.9 L1259.9 173.3 L1260.3 172.9 L1260.8 172.8 L1261.3 173.1 L1261.7 173.9 L1262.2 175.2 L1262.7 176.7 L1263.2 178.4 L1263.6 180.2 L1264.1 181.9 L1264.6 183.4 L1265.1 184.7 L1265.5 185.5 L1266.0 185.8 L1266.5 185.5 L1267.0 184.8 L1267.5 183.6 L1268.0 182.1 L1268.5 180.3 L1269.0 178.3 L1269.5 176.2 L1270.0 174.0 L1270.5 171.8 L1271.0 169.7 L1271.5 167.7 L1272.0 165.9 L1272.5 164.4 L1272.9 162.9 L1273.4 161.5 L1273.9 160.1 L1274.4 158.7 L1274.8 157.3 L1275.3 155.8 L1275.8 154.2 L1276.3 152.5 L1276.7 150.6 L1277.2 148.6 L1277.7 146.4 L1278.2 143.9 L1278.6 141.2 L1279.1 138.3 L1279.6 135.2 L1280.1 132.0 L1280.5 128.5 L1281.0 124.9 L1281.5 121.2 L1282.0 117.3 L1282.4 113.3 L1282.9 109.2 L1283.4 104.2 L1283.9 98.0 L1284.3 91.5 L1284.8 85.3 L1285.3 80.2 L1285.8 76.9 L1286.3 74.9 L1286.8 73.0 L1287.3 71.2 L1287.7 69.6 L1288.2 68.1 L1288.7 66.8 L1289.2 65.6 L1289.7 64.4 L1290.2 63.4 L1290.7 62.5 L1291.2 61.7 L1291.6 61.0 L1292.1 60.4 L1292.6 59.8 L1293.1 59.3 L1293.6 58.8 L1294.1 58.4 L1294.6 57.9 L1295.1 57.5 L1295.6 57.1 L1296.1 56.7 L1296.6 56.4 L1297.0 56.1 L1297.5 55.8 L1298.0 55.5 L1298.5 55.3 L1299.0 55.1 L1299.5 55.0 L1300.0 54.9 L1300.5 54.9 L1301.0 55.0 L1301.5 55.2 L1302.0 55.5 L1302.5 55.9 L1302.9 56.5 L1303.4 57.1 L1303.9 57.8 L1304.4 58.5 L1304.9 59.3 L1305.4 60.5 L1305.9 62.3 L1306.4 64.5 L1306.9 67.2 L1307.3 69.9 L1307.8 72.8 L1308.3 75.5 L1308.8 77.9 L1309.3 79.9 L1309.8 81.6 L1310.3 83.3 L1310.8 84.9 L1311.2 86.5 L1311.7 88.0 L1312.2 89.5 L1312.7 90.9 L1313.2 92.3 L1313.7 93.6 L1314.2 94.9 L1314.7 96.1 L1315.1 97.3 L1315.6 98.4 L1316.1 99.4 L1316.6 100.4 L1317.1 101.4 L1317.6 102.4 L1318.1 103.4 L1318.6 104.4 L1319.0 105.4 L1319.5 106.4 L1320.0 107.4 L1320.5 108.3 L1321.0 109.2 L1321.5 110.0 L1322.0 110.8 L1322.5 111.5 L1323.0 112.1 L1323.4 112.6 L1323.9 113.0 L1324.4 113.3 L1324.9 113.5 L1325.4 113.6 L1325.9 113.2 L1326.4 112.1 L1326.9 110.5 L1327.4 108.4 L1327.9 106.1 L1328.3 103.6 L1328.8 101.1 L1329.3 98.7 L1329.8 96.6 L1330.3 94.9 L1330.8 93.6 L1331.3 93.1 L1331.8 92.9 L1332.3 92.8 L1332.8 92.7 L1333.3 92.6 L1333.7 92.5 L1334.2 92.4 L1334.7 92.3 L1335.2 92.2 L1335.7 92.2 L1336.2 92.1 L1336.7 92.0 L1337.2 92.0 L1337.7 91.9 L1338.1 91.9 L1338.6 91.8 L1339.1 91.8 L1339.6 91.7 L1340.1 91.6 L1340.6 91.5 L1341.1 91.4 L1341.5 91.3 L1342.0 91.2 L1342.5 91.1 L1343.0 91.0 L1343.5 90.8 L1344.0 90.7 L1344.4 90.6 L1344.9 90.5 L1345.4 90.4 L1345.9 90.3 L1346.4 90.2 L1346.9 90.2 L1347.3 90.1 L1347.8 90.1 L1348.3 90.1 L1348.8 90.5 L1349.2 91.5 L1349.7 93.1 L1350.2 95.1 L1350.7 97.3 L1351.2 99.7 L1351.6 102.0 L1352.1 104.2 L1352.6 106.2 L1353.0 107.8 L1353.5 108.8 L1354.0 109.2 L1354.5 109.1 L1355.0 109.0 L1355.4 108.7 L1355.9 108.3 L1356.4 107.9 L1356.9 107.4 L1357.4 106.8 L1357.8 106.1 L1358.3 105.5 L1358.8 104.8 L1359.3 104.0 L1359.8 103.3 L1360.3 102.5 L1360.7 101.8 L1361.2 101.1 L1361.7 100.4 L1362.2 99.7 L1362.7 99.0 L1363.2 98.4 L1363.7 97.7 L1364.2 97.0 L1364.7 96.2 L1365.2 95.5 L1365.6 94.7 L1366.1 93.8 L1366.6 92.9 L1367.1 91.9 L1367.6 90.9 L1368.1 89.7 L1368.6 88.5 L1369.1 87.2 L1369.6 85.4 L1370.1 83.0 L1370.5 79.9 L1371.0 76.5 L1371.5 72.8 L1372.0 69.0 L1372.5 65.4 L1373.0 62.1 L1373.5 59.2 L1373.9 56.9 L1374.4 55.4 L1374.9 54.9 L1375.4 55.1 L1375.9 55.7 L1376.4 56.6 L1376.9 57.8 L1377.3 59.1 L1377.8 60.6 L1378.3 62.2 L1378.8 63.7 L1379.3 65.2 L1379.8 66.7 L1380.3 68.3 L1380.8 70.1 L1381.3 71.9 L1381.8 73.8 L1382.2 75.8 L1382.7 77.9 L1383.2 80.0 L1383.7 82.2 L1384.2 84.3 L1384.7 86.5 L1385.2 88.7 L1385.7 90.9 L1386.2 93.0 L1386.7 95.2 L1387.2 97.4 L1387.7 99.6 L1388.2 101.9 L1388.6 104.3 L1389.1 106.7 L1389.6 109.3 L1390.1 112.1 L1390.6 114.9 L1391.1 118.0 L1391.6 121.5 L1392.1 125.7 L1392.6 130.4 L1393.1 135.3 L1393.5 140.2 L1394.0 145.0 L1394.5 149.3 L1395.0 153.1 L1395.5 156.1 L1396.0 158.5 L1396.5 160.7 L1397.0 162.7 L1397.4 164.6 L1397.9 166.4 L1398.4 168.0 L1398.9 169.6 L1399.4 171.1 L1399.8 172.5 L1400.3 173.9 L1400.8 175.3 L1401.3 176.7 L1401.8 178.1 L1402.3 179.5 L1402.8 180.9 L1403.3 182.3 L1403.8 183.7 L1404.3 185.0 L1404.8 186.3 L1405.2 187.5 L1405.7 188.7 L1406.2 189.8 L1406.7 190.9 L1407.2 191.9 L1407.7 192.8 L1408.2 193.6 L1408.7 194.3 L1409.2 195.0 L1409.7 195.7 L1410.2 196.3 L1410.7 197.0 L1411.1 197.5 L1411.6 198.0 L1412.1 198.4 L1412.6 198.6 L1413.1 198.7 L1413.6 198.2 L1414.1 196.9 L1414.5 195.0 L1415.0 192.5 L1415.5 189.7 L1416.0 186.7 L1416.5 183.7 L1417.0 180.8 L1417.5 178.2 L1417.9 176.1 L1418.4 174.5 L1418.9 173.7 L1419.4 173.4 L1419.9 173.1 L1420.4 172.8 L1420.9 172.6 L1421.4 172.5 L1421.9 172.3 L1422.4 172.2 L1422.8 172.1 L1423.3 172.0 L1423.8 171.8 L1424.3 171.7 L1424.8 171.5 L1425.3 171.3 L1425.8 171.1 L1426.3 170.8 L1426.8 170.4 L1427.3 169.8 L1427.8 169.0 L1428.2 168.1 L1428.7 167.1 L1429.2 166.0 L1429.7 164.9 L1430.2 163.8 L1430.7 162.8 L1431.2 161.8 L1431.7 160.9 L1432.1 160.2 L1432.6 159.6 L1433.1 159.2 L1433.6 159.1 L1434.1 159.3 L1434.6 160.0 L1435.1 160.9 L1435.6 162.1 L1436.1 163.5 L1436.5 164.9 L1437.0 166.4 L1437.5 167.8 L1438.0 169.0 L1438.5 169.9 L1439.0 170.6 L1439.5 170.8 L1440.0 170.6 L1440.5 169.9 L1441.0 168.9 L1441.4 167.5 L1441.9 165.8 L1442.4 163.9 L1442.9 161.8 L1443.4 159.6 L1443.9 157.3 L1444.4 154.9 L1444.9 152.6 L1445.3 150.3 L1445.8 148.2 L1446.3 146.2 L1446.8 144.4 L1447.3 142.7 L1447.8 141.1 L1448.3 139.5 L1448.7 137.9 L1449.2 136.3 L1449.7 134.7 L1450.2 133.1 L1450.7 131.5 L1451.2 130.0 L1451.7 128.4 L1452.2 126.9 L1452.6 125.4 L1453.1 123.9 L1453.6 122.4 L1454.1 120.9" stroke="#ff0000"/>
<path d="M1069.0 82.5 L1069.5 81.0 L1069.9 79.5 L1070.4 78.1 L1070.9 76.8 L1071.4 75.7 L1071.8 74.8 L1072.3 74.2 L1072.8 73.8 L1073.3 73.4 L1073.8 73.1 L1074.3 72.8 L1074.8 72.5 L1075.3 72.3 L1075.8 72.1 L1076.2 71.9 L1076.7 71.7 L1077.2 71.5 L1077.7 71.4 L1078.2 71.2 L1078.7 71.1 L1079.2 70.9 L1079.7 70.7 L1080.2 70.6 L1080.7 70.4 L1081.2 70.2 L1081.6 70.0 L1082.1 69.8 L1082.6 69.7 L1083.1 69.5 L1083.6 69.4 L1084.1 69.2 L1084.6 69.1 L1085.1 69.0 L1085.5 68.9 L1086.0 68.8 L1086.5 68.7 L1087.0 68.7 L1087.5 68.7 L1088.0 68.9 L1088.4 69.6 L1088.8 70.5 L1089.3 71.7 L1089.8 72.9 L1090.2 74.2 L1090.7 75.9 L1091.1 78.2 L1091.6 80.9 L1092.1 83.9 L1092.5 86.9 L1093.0 89.7 L1093.5 92.1 L1093.9 93.9 L1094.4 94.9 L1094.9 95.4 L1095.3 95.9 L1095.8 96.4 L1096.2 96.7 L1096.7 97.1 L1097.1 97.3 L1097.6 97.5 L1098.0 97.7 L1098.5 97.7 L1099.0 97.7 L1099.5 97.6 L1100.0 97.5 L1100.5 97.4 L1101.0 97.2 L1101.5 97.1 L1102.0 96.8 L1102.4 96.6 L1102.9 96.4 L1103.4 96.1 L1103.9 95.8 L1104.4 95.5 L1104.9 95.2 L1105.4 94.9 L1105.9 94.6 L1106.4 94.2 L1106.9 93.8 L1107.4 93.4 L1107.9 92.9 L1108.4 92.4 L1108.8 91.8 L1109.3 91.1 L1109.8 90.4 L1110.3 89.5 L1110.8 88.6 L1111.3 87.6 L1111.8 86.4 L1112.3 85.2 L1112.8 82.8 L1113.2 78.7 L1113.7 73.7 L1114.2 68.8 L1114.6 65.0 L1115.1 63.1 L1115.6 62.5 L1116.0 62.0 L1116.5 61.6 L1117.0 61.3 L1117.4 61.1 L1117.9 61.0 L1118.4 61.1 L1118.9 61.6 L1119.4 62.2 L1119.9 63.1 L1120.4 64.1 L1120.9 65.2 L1121.4 66.5 L1121.9 67.7 L1122.4 69.0 L1122.9 70.2 L1123.4 71.4 L1123.9 72.5 L1124.4 73.6 L1124.9 74.8 L1125.4 75.9 L1125.9 77.2 L1126.4 78.4 L1126.8 79.7 L1127.3 81.1 L1127.8 82.5 L1128.3 84.0 L1128.8 85.5 L1129.3 87.2 L1129.8 88.9 L1130.3 90.8 L1130.8 92.7 L1131.2 94.9 L1131.7 97.3 L1132.1 99.8 L1132.6 102.6 L1133.0 105.4 L1133.5 108.2 L1133.9 111.1 L1134.4 114.0 L1134.8 117.0 L1135.3 120.0 L1135.8 123.5 L1136.3 127.1 L1136.8 130.3 L1137.3 132.4 L1137.8 133.7 L1138.3 135.0 L1138.8 136.1 L1139.2 137.1 L1139.7 138.0 L1140.2 138.8 L1140.7 139.5 L1141.2 140.2 L1141.7 140.8 L1142.1 141.3 L1142.6 141.9 L1143.1 142.3 L1143.6 142.8 L1144.1 143.3 L1144.6 143.7 L1145.1 144.1 L1145.6 144.6 L1146.0 145.0 L1146.5 145.4 L1147.0 145.8 L1147.5 146.2 L1148.0 146.5 L1148.5 146.8 L1149.0 147.1 L1149.5 147.4 L1149.9 147.6 L1150.4 147.8 L1150.9 147.9 L1151.4 148.0 L1151.9 148.0 L1152.3 147.8 L1152.8 147.2 L1153.2 146.3 L1153.7 145.1 L1154.1 143.7 L1154.6 142.2 L1155.0 140.7 L1155.4 138.5 L1155.9 135.2 L1156.3 131.4 L1156.8 127.5 L1157.2 124.0 L1157.7 121.3 L1158.1 120.0 L1158.6 119.5 L1159.0 119.1 L1159.5 118.7 L1160.0 118.4 L1160.4 118.2 L1160.9 118.0 L1161.4 117.8 L1161.9 117.6 L1162.3 117.5 L1162.8 117.3 L1163.3 117.0 L1163.7 116.7 L1164.2 116.4 L1164.7 116.0 L1165.1 115.5 L1165.6 115.0 L1166.0 114.5 L1166.5 113.9 L1166.9 113.3 L1167.4 112.7 L1167.8 112.1 L1168.3 111.5 L1168.8 110.8 L1169.3 110.0 L1169.8 109.2 L1170.3 108.3 L1170.8 107.4 L1171.3 106.4 L1171.8 105.5 L1172.2 104.7 L1172.7 103.9 L1173.2 103.2 L1173.7 102.6 L1174.2 102.2 L1174.7 101.9 L1175.2 101.8 L1175.7 102.2 L1176.1 103.2 L1176.6 104.7 L1177.0 106.4 L1177.5 108.3 L1177.9 110.0 L1178.4 111.5 L1178.8 112.5 L1179.3 112.9 L1179.8 112.8 L1180.2 112.4 L1180.7 111.7 L1181.2 110.9 L1181.6 110.0 L1182.1 108.9 L1182.6 107.7 L1183.0 106.5 L1183.5 105.2 L1184.0 104.0 L1184.4 102.9 L1184.9 101.8 L1185.4 100.7 L1185.9 99.7 L1186.4 98.6 L1186.9 97.6 L1187.4 96.5 L1187.9 95.4 L1188.3 94.3 L1188.8 93.1 L1189.3 91.9 L1189.8 90.7 L1190.3 89.4 L1190.8 88.1 L1191.3 86.7 L1191.8 85.2 L1192.3 83.6 L1192.8 81.9 L1193.3 80.1 L1193.8 78.2 L1194.3 76.2 L1194.8 74.2 L1195.3 72.0 L1195.8 69.9 L1196.3 67.6 L1196.8 65.4 L1197.3 63.1 L1197.8 60.7 L1198.2 57.9 L1198.7 54.7 L1199.1 51.6 L1199.6 48.5 L1200.0 45.8 L1200.5 43.6 L1200.9 42.1 L1201.4 41.6 L1201.9 41.8 L1202.3 42.4 L1202.8 43.3 L1203.3 44.5 L1203.7 45.8 L1204.2 47.3 L1204.7 48.9 L1205.1 50.5 L1205.6 52.1 L1206.1 53.9 L1206.6 55.9 L1207.1 58.1 L1207.6 60.5 L1208.1 63.1 L1208.6 65.7 L1209.1 68.5 L1209.6 71.3 L1210.1 74.1 L1210.6 76.9 L1211.1 79.7 L1211.6 82.5 L1212.1 85.3 L1212.6 88.2 L1213.1 91.2 L1213.6 94.2 L1214.1 97.3 L1214.6 100.4 L1215.1 103.5 L1215.6 106.6 L1216.1 109.7 L1216.6 112.9 L1217.1 115.8 L1217.5 118.8 L1218.0 121.7 L1218.5 124.7 L1218.9 127.7 L1219.4 130.8 L1219.9 133.9 L1220.3 137.2 L1220.8 140.5 L1221.3 144.2 L1221.8 148.3 L1222.3 152.6 L1222.8 156.9 L1223.2 161.1 L1223.7 165.2 L1224.2 168.8 L1224.7 172.0 L1225.2 174.8 L1225.7 177.5 L1226.2 180.1 L1226.7 182.5 L1227.2 184.8 L1227.7 187.1 L1228.1 189.2 L1228.6 191.2 L1229.1 193.2 L1229.6 195.1 L1230.1 196.9 L1230.6 198.7 L1231.1 200.5 L1231.6 202.3 L1232.0 204.1 L1232.5 206.0 L1233.0 207.9 L1233.5 209.8 L1233.9 211.6 L1234.4 213.4 L1234.9 215.1 L1235.4 216.7 L1235.9 218.2 L1236.3 219.6 L1236.8 220.8 L1237.3 221.8 L1237.8 222.7 L1238.2 223.3 L1238.7 223.7 L1239.2 223.8 L1239.7 223.4 L1240.2 222.4 L1240.7 220.8 L1241.2 218.9 L1241.7 216.7 L1242.2 214.3 L1242.7 211.9 L1243.2 209.7 L1243.7 207.8 L1244.2 206.2 L1244.7 205.2 L1245.2 204.8 L1245.7 204.9 L1246.2 205.1 L1246.7 205.5 L1247.2 205.9 L1247.6 206.3 L1248.1 206.7 L1248.6 207.1 L1249.1 207.3 L1249.6 207.4 L1250.1 207.3 L1250.5 207.2 L1251.0 207.0 L1251.5 206.7 L1251.9 206.3 L1252.4 205.9 L1252.8 205.5 L1253.3 205.1 L1253.8 204.7 L1254.2 204.3 L1254.7 203.9 L1255.2 203.5 L1255.6 203.1 L1256.1 202.6 L1256.6 202.0 L1257.0 201.5 L1257.5 201.0 L1258.0 200.5 L1258.5 200.0 L1258.9 199.6 L1259.4 199.2 L1259.9 198.9 L1260.3 198.8 L1260.8 198.7 L1261.3 199.0 L1261.7 199.8 L1262.2 201.1 L1262.7 202.6 L1263.2 204.3 L1263.6 206.1 L1264.1 207.8 L1264.6 209.3 L1265.1 210.6 L1265.5 211.4 L1266.0 211.7 L1266.5 211.4 L1267.0 210.7 L1267.5 209.6 L1268.0 208.1 L1268.5 206.3 L1269.0 204.4 L1269.5 202.2 L1270.0 200.0 L1270.5 197.8 L1271.0 195.7 L1271.5 193.7 L1272.0 191.8 L1272.5 190.1 L1273.0 188.4 L1273.5 186.7 L1273.9 184.9 L1274.4 183.2 L1274.9 181.4 L1275.4 179.7 L1275.9 177.9 L1276.4 176.1 L1276.9 174.3 L1277.4 172.5 L1277.8 170.7 L1278.3 168.8 L1278.8 167.0 L1279.3 165.1" stroke="#1a1a1a"/>
<path d="M1283.0 151.0 L1283.4 137.8 L1283.9 126.1 L1284.3 118.0 L1284.8 112.2 L1285.3 107.5 L1285.8 103.6 L1286.3 100.4 L1286.8 97.4 L1287.3 94.5 L1287.8 91.7 L1288.3 89.1 L1288.8 86.5 L1289.2 84.1 L1289.7 81.8 L1290.2 79.6 L1290.7 77.5 L1291.2 75.5 L1291.6 73.6 L1292.1 71.7 L1292.6 69.9 L1293.1 68.1 L1293.6 66.3 L1294.1 64.5 L1294.6 62.8 L1295.1 61.0 L1295.6 59.3 L1296.0 57.7 L1296.5 56.2 L1297.0 54.7 L1297.5 53.4 L1298.0 52.3 L1298.5 51.3 L1299.0 50.5 L1299.5 49.8 L1300.0 49.1 L1300.5 48.4 L1301.0 47.8 L1301.5 47.4 L1302.0 47.1 L1302.5 47.0 L1303.0 47.6 L1303.5 49.2 L1303.9 51.6 L1304.4 54.5 L1304.9 57.5 L1305.3 60.5 L1305.8 63.2 L1306.3 65.2 L1306.8 66.8 L1307.3 68.4 L1307.8 69.8 L1308.3 71.2 L1308.7 72.5 L1309.2 73.7 L1309.7 74.8 L1310.2 75.9 L1310.7 76.9 L1311.2 77.9 L1311.7 78.8 L1312.2 79.7 L1312.7 80.6 L1313.2 81.4 L1313.7 82.2 L1314.2 82.9 L1314.6 83.7 L1315.1 84.4 L1315.6 85.1 L1316.1 85.8 L1316.6 86.5 L1317.1 87.3 L1317.6 88.0 L1318.1 88.7 L1318.6 89.5 L1319.1 90.3 L1319.6 91.2 L1320.0 92.0 L1320.5 93.0 L1321.0 93.9 L1321.5 94.7 L1322.0 95.6 L1322.5 96.4 L1323.0 97.1 L1323.5 97.7 L1323.9 98.2 L1324.4 98.6 L1324.9 98.8 L1325.4 98.9 L1325.9 98.6 L1326.4 97.9 L1326.9 96.8 L1327.3 95.3 L1327.8 93.6 L1328.3 91.7 L1328.8 89.7 L1329.3 87.6 L1329.8 85.6 L1330.3 83.7 L1330.8 82.0 L1331.2 80.5 L1331.7 79.4 L1332.2 78.7 L1332.7 78.4 L1333.2 78.5 L1333.7 78.6 L1334.2 78.9 L1334.7 79.3 L1335.2 79.7 L1335.7 80.2 L1336.2 80.8 L1336.6 81.3 L1337.1 82.0 L1337.6 82.6 L1338.1 83.3 L1338.6 83.9 L1339.1 84.5 L1339.6 85.1 L1340.1 85.7 L1340.6 86.2 L1341.1 86.7 L1341.6 87.1 L1342.0 87.6 L1342.5 88.0 L1343.0 88.4 L1343.5 88.9 L1344.0 89.4 L1344.5 89.9 L1345.0 90.5 L1345.5 91.1 L1345.9 91.9 L1346.4 92.6 L1346.9 93.5 L1347.4 94.5 L1347.9 96.1 L1348.4 98.7 L1348.9 102.0 L1349.4 105.7 L1349.8 109.5 L1350.3 113.2 L1350.8 116.6 L1351.3 119.2 L1351.8 120.9 L1352.3 122.0 L1352.8 123.0 L1353.2 123.9 L1353.7 124.7 L1354.2 125.1 L1354.7 125.3 L1355.2 125.3 L1355.6 125.3 L1356.1 125.3 L1356.5 125.3 L1357.0 125.3 L1357.4 125.3 L1357.9 125.3 L1358.3 125.3 L1358.8 125.3 L1359.3 125.3 L1359.8 125.2 L1360.3 125.1 L1360.8 124.9 L1361.2 124.7 L1361.7 124.5 L1362.2 124.2 L1362.7 123.9 L1363.2 123.6 L1363.7 123.2 L1364.2 122.9 L1364.7 122.4 L1365.2 122.0 L1365.6 121.5 L1366.1 121.0 L1366.6 120.5 L1367.1 120.0 L1367.6 119.5 L1368.1 118.9 L1368.6 118.2 L1369.1 117.4 L1369.6 116.4 L1370.0 115.3 L1370.5 114.0 L1371.0 112.6 L1371.5 111.0 L1372.0 109.2 L1372.5 106.1 L1373.0 101.2 L1373.5 95.5 L1373.9 89.8 L1374.4 85.3 L1374.9 82.8 L1375.4 81.7 L1375.9 80.7 L1376.4 79.9 L1376.9 79.1 L1377.4 78.4 L1377.9 77.9 L1378.4 77.3 L1378.8 76.9 L1379.3 76.4 L1379.8 76.0 L1380.3 75.7 L1380.8 75.3 L1381.3 74.9 L1381.8 74.5 L1382.3 74.0 L1382.8 73.5 L1383.3 73.0 L1383.8 72.5 L1384.2 72.0 L1384.7 71.4 L1385.2 70.9 L1385.7 70.4 L1386.2 69.9 L1386.7 69.5 L1387.2 69.1 L1387.7 68.8 L1388.1 68.5 L1388.6 68.3 L1389.1 68.1 L1389.6 68.1 L1390.1 68.4 L1390.6 69.4 L1391.1 70.8 L1391.6 72.6 L1392.0 74.6 L1392.5 76.7 L1393.0 78.9 L1393.5 81.0 L1394.0 82.8 L1394.5 84.7 L1395.0 87.0 L1395.5 89.2 L1395.9 91.2 L1396.4 92.6 L1396.9 93.1 L1397.4 93.1 L1397.9 93.1 L1398.4 93.1 L1398.9 93.1 L1399.3 93.1 L1399.8 93.1 L1400.3 93.1 L1400.8 93.1 L1401.3 93.1 L1401.8 93.1 L1402.3 92.9 L1402.8 92.7 L1403.3 92.4 L1403.8 92.1 L1404.3 91.6 L1404.8 91.2 L1405.2 90.6 L1405.7 90.0 L1406.2 89.4 L1406.7 88.7 L1407.2 88.0 L1407.7 87.3 L1408.2 86.5 L1408.7 85.7 L1409.2 84.7 L1409.7 83.4 L1410.2 81.8 L1410.7 80.0 L1411.1 78.2 L1411.6 76.2 L1412.1 74.4 L1412.6 72.6 L1413.1 71.1 L1413.6 69.6 L1414.1 68.1 L1414.5 66.4 L1415.0 64.8 L1415.5 63.2 L1416.0 61.7 L1416.5 60.2 L1417.0 59.0 L1417.5 57.9 L1417.9 57.1 L1418.4 56.6 L1418.9 56.4 L1419.4 56.6 L1419.9 57.1 L1420.4 57.9 L1420.9 59.0 L1421.4 60.3 L1421.8 61.7 L1422.3 63.2 L1422.8 64.8 L1423.3 66.5 L1423.8 68.1 L1424.3 69.7 L1424.8 71.1 L1425.3 72.5 L1425.8 73.8 L1426.3 75.2 L1426.7 76.6 L1427.2 78.0 L1427.7 79.4 L1428.2 80.9 L1428.7 82.4 L1429.2 83.9 L1429.7 85.5 L1430.2 87.2 L1430.6 88.9 L1431.1 90.7 L1431.6 92.6 L1432.1 94.5 L1432.6 96.7 L1433.1 99.1 L1433.6 101.8 L1434.1 104.6 L1434.6 107.5 L1435.0 110.5 L1435.5 113.5 L1436.0 116.5 L1436.5 119.4 L1437.0 122.1 L1437.5 124.6 L1438.0 126.8 L1438.5 128.9 L1439.0 130.9 L1439.5 132.8 L1440.0 134.7 L1440.5 136.5 L1441.0 138.3 L1441.4 140.0 L1441.9 141.6 L1442.4 143.1 L1442.9 144.6 L1443.4 146.0 L1443.9 147.3 L1444.4 148.5 L1444.9 149.7 L1445.4 150.8 L1445.8 151.9 L1446.3 152.9 L1446.8 153.9 L1447.3 154.9 L1447.8 155.8 L1448.2 156.7 L1448.7 157.5 L1449.2 158.3 L1449.7 159.1 L1450.2 159.9 L1450.7 160.6 L1451.2 161.3 L1451.7 162.0 L1452.1 162.6 L1452.6 163.3 L1453.1 163.8 L1453.6 164.4 L1454.1 164.9" stroke="#1a1a1a"/>
</g>
<!-- times signs -->
<g stroke="#666" stroke-width="1.1" fill="none">
<path d="M67.4 9.8L77.4 19.8M77.4 9.8L67.4 19.8"/>
<path d="M569.8 12.6L580.8 22.1M580.8 12.6L569.8 22.1"/>
<path d="M1068 12.6L1078.7 22.1M1078.7 12.6L1068 22.1"/>
</g>
<!-- legend dots -->
<g>
<circle cx="326" cy="268.2" r="5.6" fill="#000"/><circle cx="326" cy="294" r="5.6" fill="#f00"/><circle cx="326" cy="320.8" r="5.6" fill="#00f"/><circle cx="326" cy="348.8" r="5.6" fill="#0f0"/><circle cx="326" cy="375.6" r="5.6" fill="#f0f"/>
<circle cx="673.3" cy="267.4" r="5.6" fill="#000"/><circle cx="673.3" cy="293.5" r="5.6" fill="#f00"/><circle cx="673.3" cy="320.1" r="5.6" fill="#00f"/><circle cx="673.3" cy="346.7" r="5.6" fill="#0f0"/><circle cx="673.3" cy="373.2" r="5.6" fill="#f0f"/>
<circle cx="1100.5" cy="282.8" r="5.6" fill="#000"/><circle cx="1100.5" cy="309.7" r="5.6" fill="#f00"/><circle cx="1100.5" cy="337.7" r="5.6" fill="#00f"/><circle cx="1100.5" cy="365.6" r="5.6" fill="#0f0"/><circle cx="1100.5" cy="394.1" r="5.6" fill="#f0f"/>
</g>
<!-- text -->
<g>
<g transform="matrix(0.8609 0 0 1.0000 81.43 21.45)"><text x="0" y="0" style="font-size:26px;">10</text></g>
<g transform="matrix(0.9455 0 0 0.9200 105.45 10.55)"><text x="0" y="0" style="font-size:14px;">-3</text></g>
<g transform="matrix(1.0111 0 0 1.0111 39.77 43.25)"><text x="0" y="0" style="font-size:27px;">1</text></g>
<g transform="matrix(1.0667 0 0 0.9333 39.98 138.85)"><text x="0" y="0" style="font-size:27px;">0</text></g>
<g transform="matrix(0.8600 0 0 0.8944 31.89 234.35)"><text x="0" y="0" style="font-size:27px;">-1</text></g>
<g transform="matrix(1.0150 0 0 1.0000 31.63 329.05)"><text x="0" y="0" style="font-size:27px;">-2</text></g>
<g transform="matrix(0.9333 0 0 1.0167 31.72 425.55)"><text x="0" y="0" style="font-size:27px;">-3</text></g>
<g transform="matrix(1.0167 0 0 0.9889 61.03 441.05)"><text x="0" y="0" style="font-size:27px;">0</text></g>
<g transform="matrix(1.1643 0 0 1.0462 151.85 443.95)"><text x="0" y="0" style="font-size:27px;font-style:italic;">π</text></g>
<g transform="matrix(0.9636 0 0 0.9611 250.39 444.65)"><text x="0" y="0" style="font-size:27px;">2</text></g>
<g transform="matrix(1.2429 0 0 1.0615 265.25 444.15)"><text x="0" y="0" style="font-size:27px;font-style:italic;">π</text></g>
<g transform="matrix(0.8917 0 0 0.9611 345.26 444.65)"><text x="0" y="0" style="font-size:27px;">3</text></g>
<g transform="matrix(1.1714 0 0 1.0615 360.05 444.15)"><text x="0" y="0" style="font-size:27px;font-style:italic;">π</text></g>
<g transform="matrix(0.8846 0 0 0.9611 437.35 444.65)"><text x="0" y="0" style="font-size:27px;">4</text></g>
<g transform="matrix(1.2857 0 0 1.0615 452.85 444.15)"><text x="0" y="0" style="font-size:27px;font-style:italic;">π</text></g>
<g transform="matrix(1.1923 0 0 0.9381 254.66 473.05)"><text x="0" y="0" style="font-size:29px;font-style:italic;">θ</text></g>
<g transform="matrix(1.0812 0 0 1.2667 18.65 233.52)"><text transform="translate(0,0) rotate(-90)" style="font-size:34px;font-style:italic;">ε</text></g>
<g transform="matrix(0.9575 0 0 0.9575 246.44 572.36)"><text x="0" y="0" style="font-size:39px;">(a)</text></g>
<g transform="matrix(0.8261 0 0 0.9941 583.80 23.75)"><text x="0" y="0" style="font-size:26px;">10</text></g>
<g transform="matrix(0.9727 0 0 0.9100 607.55 13.35)"><text x="0" y="0" style="font-size:14px;">-3</text></g>
<g transform="matrix(1.0364 0 0 1.0167 546.61 44.05)"><text x="0" y="0" style="font-size:27px;">2</text></g>
<g transform="matrix(0.9500 0 0 0.9667 546.70 117.35)"><text x="0" y="0" style="font-size:27px;">0</text></g>
<g transform="matrix(0.9650 0 0 0.9611 538.59 193.55)"><text x="0" y="0" style="font-size:27px;">-2</text></g>
<g transform="matrix(0.9190 0 0 1.0000 538.63 268.35)"><text x="0" y="0" style="font-size:27px;">-4</text></g>
<g transform="matrix(0.9190 0 0 0.9944 538.63 342.65)"><text x="0" y="0" style="font-size:27px;">-6</text></g>
<g transform="matrix(0.9095 0 0 0.9889 538.54 418.35)"><text x="0" y="0" style="font-size:27px;">-8</text></g>
<g transform="matrix(0.9167 0 0 0.9889 563.53 442.55)"><text x="0" y="0" style="font-size:27px;">0</text></g>
<g transform="matrix(0.8769 0 0 0.9167 690.95 442.15)"><text x="0" y="0" style="font-size:27px;">4</text></g>
<g transform="matrix(1.1214 0 0 1.0308 708.25 442.15)"><text x="0" y="0" style="font-size:27px;font-style:italic;">π</text></g>
<g transform="matrix(0.8333 0 0 0.9222 819.42 442.35)"><text x="0" y="0" style="font-size:27px;">8</text></g>
<g transform="matrix(1.1643 0 0 1.0462 834.65 442.35)"><text x="0" y="0" style="font-size:27px;font-style:italic;">π</text></g>
<g transform="matrix(0.9250 0 0 0.9500 932.90 442.85)"><text x="0" y="0" style="font-size:27px;">12</text></g>
<g transform="matrix(1.1000 0 0 1.0692 960.15 442.65)"><text x="0" y="0" style="font-size:27px;font-style:italic;">π</text></g>
<g transform="matrix(1.1923 0 0 0.9381 754.56 471.75)"><text x="0" y="0" style="font-size:29px;font-style:italic;">θ</text></g>
<g transform="matrix(1.0812 0 0 1.2417 521.25 226.99)"><text transform="translate(0,0) rotate(-90)" style="font-size:34px;font-style:italic;">ε</text></g>
<g transform="matrix(0.9619 0 0 0.9619 738.13 573.45)"><text x="0" y="0" style="font-size:39px;">(b)</text></g>
<g transform="matrix(0.8478 0 0 0.9824 1081.75 23.75)"><text x="0" y="0" style="font-size:26px;">10</text></g>
<g transform="matrix(0.9545 0 0 1.0400 1105.95 13.35)"><text x="0" y="0" style="font-size:14px;">-3</text></g>
<g transform="matrix(0.9750 0 0 0.9556 1045.38 45.65)"><text x="0" y="0" style="font-size:28px;">2</text></g>
<g transform="matrix(0.9750 0 0 0.9611 1045.38 102.95)"><text x="0" y="0" style="font-size:28px;">0</text></g>
<g transform="matrix(0.9727 0 0 1.0167 1036.18 216.25)"><text x="0" y="0" style="font-size:28px;">-4</text></g>
<g transform="matrix(0.9048 0 0 1.0333 1036.25 330.05)"><text x="0" y="0" style="font-size:28px;">-8</text></g>
<g transform="matrix(1.0029 0 0 1.0556 1021.05 445.25)"><text x="0" y="0" style="font-size:28px;">-12</text></g>
<g transform="matrix(1.0667 0 0 1.0556 1060.38 470.15)"><text x="0" y="0" style="font-size:28px;">0</text></g>
<g transform="matrix(1.0167 0 0 1.0167 1183.73 469.95)"><text x="0" y="0" style="font-size:28px;">6</text></g>
<g transform="matrix(1.0933 0 0 1.1231 1201.85 469.95)"><text x="0" y="0" style="font-size:28px;font-style:italic;">π</text></g>
<g transform="matrix(1.0000 0 0 1.0333 1306.35 470.25)"><text x="0" y="0" style="font-size:28px;">12</text></g>
<g transform="matrix(1.1533 0 0 1.1462 1335.95 470.25)"><text x="0" y="0" style="font-size:28px;font-style:italic;">π</text></g>
<g transform="matrix(0.9583 0 0 1.0333 1427.07 470.25)"><text x="0" y="0" style="font-size:28px;">18</text></g>
<g transform="matrix(1.1733 0 0 1.1462 1456.55 470.25)"><text x="0" y="0" style="font-size:28px;font-style:italic;">π</text></g>
<g transform="matrix(1.1154 0 0 0.9619 1252.93 498.45)"><text x="0" y="0" style="font-size:30px;font-style:italic;">θ</text></g>
<g transform="matrix(1.0812 0 0 1.3583 1021.65 247.01)"><text transform="translate(0,0) rotate(-90)" style="font-size:34px;font-style:italic;">ε</text></g>
<g transform="matrix(0.9550 0 0 0.9550 1250.84 572.29)"><text x="0" y="0" style="font-size:39px;">(c)</text></g>
<g transform="matrix(0.9920 0 0 0.9920 348.26 273.24)"><text x="0" y="0" style="font-size:20.5px;">reference</text></g>
<g transform="matrix(1.5000 0 0 0.7800 347.95 294.75)"><text stroke="#fff" stroke-width="0.35" x="0" y="0" style="font-size:20px;font-style:italic;">μ</text></g>
<g transform="matrix(1.0091 0 0 1.0091 360.05 299.85)"><text x="0" y="0" style="font-size:12.5px;">cn</text></g>
<g transform="matrix(1.0375 0 0 1.0375 372.81 297.44)"><text x="0" y="0" style="font-size:18px;">=</text></g>
<g transform="matrix(1.0345 0 0 0.9909 387.02 295.75)"><text x="0" y="0" style="font-size:17.5px;">0.85</text></g>
<g transform="matrix(1.5000 0 0 0.7800 347.95 321.55)"><text stroke="#fff" stroke-width="0.35" x="0" y="0" style="font-size:20px;font-style:italic;">μ</text></g>
<g transform="matrix(1.0091 0 0 1.0091 360.05 326.65)"><text x="0" y="0" style="font-size:12.5px;">cn</text></g>
<g transform="matrix(1.0375 0 0 1.0375 372.81 324.24)"><text x="0" y="0" style="font-size:18px;">=</text></g>
<g transform="matrix(1.1000 0 0 0.9909 386.95 322.55)"><text x="0" y="0" style="font-size:17.5px;">0.95</text></g>
<g transform="matrix(1.5000 0 0 0.7800 347.95 349.55)"><text stroke="#fff" stroke-width="0.35" x="0" y="0" style="font-size:20px;font-style:italic;">μ</text></g>
<g transform="matrix(1.0091 0 0 1.0091 359.04 354.65)"><text x="0" y="0" style="font-size:12.5px;">kn</text></g>
<g transform="matrix(1.0375 0 0 1.0375 372.81 352.24)"><text x="0" y="0" style="font-size:18px;">=</text></g>
<g transform="matrix(1.0345 0 0 0.9909 387.02 350.55)"><text x="0" y="0" style="font-size:17.5px;">0.85</text></g>
<g transform="matrix(1.5000 0 0 0.7800 347.95 376.35)"><text stroke="#fff" stroke-width="0.35" x="0" y="0" style="font-size:20px;font-style:italic;">μ</text></g>
<g transform="matrix(1.0091 0 0 1.0091 359.04 381.45)"><text x="0" y="0" style="font-size:12.5px;">kn</text></g>
<g transform="matrix(1.0375 0 0 1.0375 372.81 379.04)"><text x="0" y="0" style="font-size:18px;">=</text></g>
<g transform="matrix(1.1000 0 0 0.9909 386.95 377.35)"><text x="0" y="0" style="font-size:17.5px;">0.95</text></g>
<g transform="matrix(0.9720 0 0 0.9720 695.58 272.29)"><text x="0" y="0" style="font-size:20.5px;">reference</text></g>
<g transform="matrix(1.4684 0 0 0.7800 695.25 294.25)"><text stroke="#fff" stroke-width="0.35" x="0" y="0" style="font-size:20px;font-style:italic;">μ</text></g>
<g transform="matrix(0.9876 0 0 0.9876 706.68 299.35)"><text x="0" y="0" style="font-size:12.5px;">cn</text></g>
<g transform="matrix(1.0150 0 0 1.0150 719.18 296.80)"><text x="0" y="0" style="font-size:18px;">=</text></g>
<g transform="matrix(1.0133 0 0 0.9909 733.10 295.25)"><text x="0" y="0" style="font-size:17.5px;">0.85</text></g>
<g transform="matrix(1.4684 0 0 0.7800 695.25 320.85)"><text stroke="#fff" stroke-width="0.35" x="0" y="0" style="font-size:20px;font-style:italic;">μ</text></g>
<g transform="matrix(0.9876 0 0 0.9876 706.68 325.95)"><text x="0" y="0" style="font-size:12.5px;">cn</text></g>
<g transform="matrix(1.0150 0 0 1.0150 719.18 323.40)"><text x="0" y="0" style="font-size:18px;">=</text></g>
<g transform="matrix(1.0775 0 0 0.9909 733.04 321.85)"><text x="0" y="0" style="font-size:17.5px;">0.95</text></g>
<g transform="matrix(1.4684 0 0 0.7800 695.25 347.45)"><text stroke="#fff" stroke-width="0.35" x="0" y="0" style="font-size:20px;font-style:italic;">μ</text></g>
<g transform="matrix(0.9876 0 0 0.9876 705.69 352.55)"><text x="0" y="0" style="font-size:12.5px;">kn</text></g>
<g transform="matrix(1.0150 0 0 1.0150 719.18 350.00)"><text x="0" y="0" style="font-size:18px;">=</text></g>
<g transform="matrix(1.0133 0 0 0.9909 733.10 348.45)"><text x="0" y="0" style="font-size:17.5px;">0.85</text></g>
<g transform="matrix(1.4684 0 0 0.7800 695.25 373.95)"><text stroke="#fff" stroke-width="0.35" x="0" y="0" style="font-size:20px;font-style:italic;">μ</text></g>
<g transform="matrix(0.9876 0 0 0.9876 705.69 379.05)"><text x="0" y="0" style="font-size:12.5px;">kn</text></g>
<g transform="matrix(1.0150 0 0 1.0150 719.18 376.50)"><text x="0" y="0" style="font-size:18px;">=</text></g>
<g transform="matrix(1.0775 0 0 0.9909 733.04 374.95)"><text x="0" y="0" style="font-size:17.5px;">0.95</text></g>
<g transform="matrix(0.9720 0 0 0.9720 1122.78 287.69)"><text x="0" y="0" style="font-size:20.5px;">reference</text></g>
<g transform="matrix(1.4684 0 0 0.7800 1122.45 310.45)"><text stroke="#fff" stroke-width="0.35" x="0" y="0" style="font-size:20px;font-style:italic;">μ</text></g>
<g transform="matrix(0.9876 0 0 0.9876 1133.88 315.55)"><text x="0" y="0" style="font-size:12.5px;">cn</text></g>
<g transform="matrix(1.0150 0 0 1.0150 1146.38 313.00)"><text x="0" y="0" style="font-size:18px;">=</text></g>
<g transform="matrix(1.0133 0 0 0.9909 1160.30 311.45)"><text x="0" y="0" style="font-size:17.5px;">0.85</text></g>
<g transform="matrix(1.4684 0 0 0.7800 1122.45 338.45)"><text stroke="#fff" stroke-width="0.35" x="0" y="0" style="font-size:20px;font-style:italic;">μ</text></g>
<g transform="matrix(0.9876 0 0 0.9876 1133.88 343.55)"><text x="0" y="0" style="font-size:12.5px;">cn</text></g>
<g transform="matrix(1.0150 0 0 1.0150 1146.38 341.00)"><text x="0" y="0" style="font-size:18px;">=</text></g>
<g transform="matrix(1.0775 0 0 0.9909 1160.24 339.45)"><text x="0" y="0" style="font-size:17.5px;">0.95</text></g>
<g transform="matrix(1.4684 0 0 0.7800 1122.45 366.35)"><text stroke="#fff" stroke-width="0.35" x="0" y="0" style="font-size:20px;font-style:italic;">μ</text></g>
<g transform="matrix(0.9876 0 0 0.9876 1132.89 371.45)"><text x="0" y="0" style="font-size:12.5px;">kn</text></g>
<g transform="matrix(1.0150 0 0 1.0150 1146.38 368.90)"><text x="0" y="0" style="font-size:18px;">=</text></g>
<g transform="matrix(1.0133 0 0 0.9909 1160.30 367.35)"><text x="0" y="0" style="font-size:17.5px;">0.85</text></g>
<g transform="matrix(1.4684 0 0 0.7800 1122.45 394.85)"><text stroke="#fff" stroke-width="0.35" x="0" y="0" style="font-size:20px;font-style:italic;">μ</text></g>
<g transform="matrix(0.9876 0 0 0.9876 1132.89 399.95)"><text x="0" y="0" style="font-size:12.5px;">kn</text></g>
<g transform="matrix(1.0150 0 0 1.0150 1146.38 397.40)"><text x="0" y="0" style="font-size:18px;">=</text></g>
<g transform="matrix(1.0775 0 0 0.9909 1160.24 395.85)"><text x="0" y="0" style="font-size:17.5px;">0.95</text></g>
</g>
</svg>
</body></html>
